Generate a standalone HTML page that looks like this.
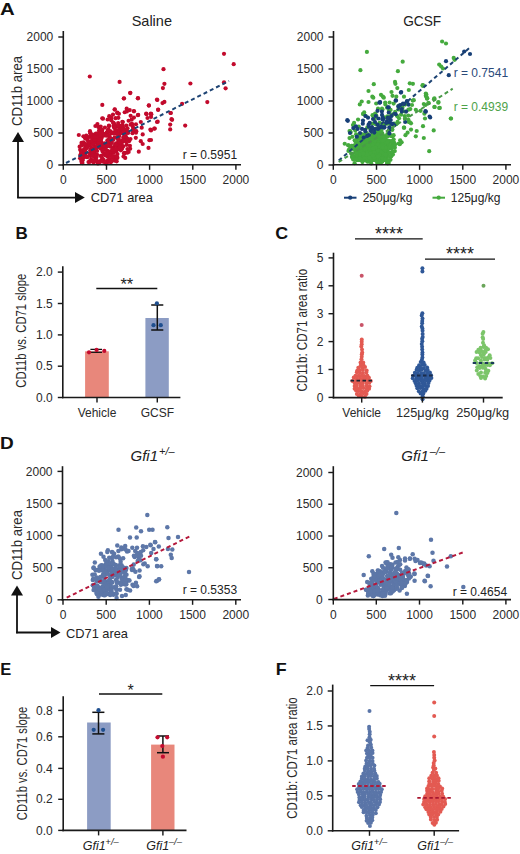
<!DOCTYPE html>
<html><head><meta charset="utf-8"><style>
html,body{margin:0;padding:0;background:#fff;width:520px;height:854px;overflow:hidden}
svg{display:block;font-family:"Liberation Sans", sans-serif}
</style></head><body>
<svg width="520" height="854" viewBox="0 0 520 854">
<rect width="520" height="854" fill="#fff"/>
<text x="0" y="0" font-size="17" font-weight="bold" fill="#111" transform="translate(0.00,14.70) scale(1.2,1)">A</text>
<text x="151.80" y="26.30" font-size="14.5" text-anchor="middle" font-weight="normal" font-style="normal" fill="#222" >Saline</text>
<circle cx="85.06" cy="154.61" r="2.1" fill="#c20a2c"/>
<circle cx="122.83" cy="122.03" r="2.1" fill="#c20a2c"/>
<circle cx="106.73" cy="132.72" r="2.1" fill="#c20a2c"/>
<circle cx="116.10" cy="151.38" r="2.1" fill="#c20a2c"/>
<circle cx="127.15" cy="131.80" r="2.1" fill="#c20a2c"/>
<circle cx="103.72" cy="147.68" r="2.1" fill="#c20a2c"/>
<circle cx="90.73" cy="159.99" r="2.1" fill="#c20a2c"/>
<circle cx="133.35" cy="128.97" r="2.1" fill="#c20a2c"/>
<circle cx="90.00" cy="131.22" r="2.1" fill="#c20a2c"/>
<circle cx="103.27" cy="135.27" r="2.1" fill="#c20a2c"/>
<circle cx="90.13" cy="133.28" r="2.1" fill="#c20a2c"/>
<circle cx="127.25" cy="138.60" r="2.1" fill="#c20a2c"/>
<circle cx="115.54" cy="118.22" r="2.1" fill="#c20a2c"/>
<circle cx="120.29" cy="147.12" r="2.1" fill="#c20a2c"/>
<circle cx="133.19" cy="131.22" r="2.1" fill="#c20a2c"/>
<circle cx="126.80" cy="144.87" r="2.1" fill="#c20a2c"/>
<circle cx="95.20" cy="140.32" r="2.1" fill="#c20a2c"/>
<circle cx="107.32" cy="140.40" r="2.1" fill="#c20a2c"/>
<circle cx="124.84" cy="130.79" r="2.1" fill="#c20a2c"/>
<circle cx="87.38" cy="138.18" r="2.1" fill="#c20a2c"/>
<circle cx="119.18" cy="145.10" r="2.1" fill="#c20a2c"/>
<circle cx="99.48" cy="132.14" r="2.1" fill="#c20a2c"/>
<circle cx="107.51" cy="150.81" r="2.1" fill="#c20a2c"/>
<circle cx="108.26" cy="129.63" r="2.1" fill="#c20a2c"/>
<circle cx="79.61" cy="146.69" r="2.1" fill="#c20a2c"/>
<circle cx="107.13" cy="162.01" r="2.1" fill="#c20a2c"/>
<circle cx="123.23" cy="137.68" r="2.1" fill="#c20a2c"/>
<circle cx="128.62" cy="120.77" r="2.1" fill="#c20a2c"/>
<circle cx="107.83" cy="160.39" r="2.1" fill="#c20a2c"/>
<circle cx="111.67" cy="133.25" r="2.1" fill="#c20a2c"/>
<circle cx="93.16" cy="138.14" r="2.1" fill="#c20a2c"/>
<circle cx="124.02" cy="153.13" r="2.1" fill="#c20a2c"/>
<circle cx="130.17" cy="148.73" r="2.1" fill="#c20a2c"/>
<circle cx="125.55" cy="136.53" r="2.1" fill="#c20a2c"/>
<circle cx="110.68" cy="131.43" r="2.1" fill="#c20a2c"/>
<circle cx="80.37" cy="155.85" r="2.1" fill="#c20a2c"/>
<circle cx="111.20" cy="118.99" r="2.1" fill="#c20a2c"/>
<circle cx="107.28" cy="134.67" r="2.1" fill="#c20a2c"/>
<circle cx="98.41" cy="127.03" r="2.1" fill="#c20a2c"/>
<circle cx="109.31" cy="142.29" r="2.1" fill="#c20a2c"/>
<circle cx="113.75" cy="133.20" r="2.1" fill="#c20a2c"/>
<circle cx="87.63" cy="140.15" r="2.1" fill="#c20a2c"/>
<circle cx="128.66" cy="151.91" r="2.1" fill="#c20a2c"/>
<circle cx="124.83" cy="152.90" r="2.1" fill="#c20a2c"/>
<circle cx="92.32" cy="154.30" r="2.1" fill="#c20a2c"/>
<circle cx="117.39" cy="112.58" r="2.1" fill="#c20a2c"/>
<circle cx="122.34" cy="121.73" r="2.1" fill="#c20a2c"/>
<circle cx="83.57" cy="142.36" r="2.1" fill="#c20a2c"/>
<circle cx="86.58" cy="137.01" r="2.1" fill="#c20a2c"/>
<circle cx="119.70" cy="133.01" r="2.1" fill="#c20a2c"/>
<circle cx="96.32" cy="134.06" r="2.1" fill="#c20a2c"/>
<circle cx="102.26" cy="118.34" r="2.1" fill="#c20a2c"/>
<circle cx="83.53" cy="157.49" r="2.1" fill="#c20a2c"/>
<circle cx="107.61" cy="119.50" r="2.1" fill="#c20a2c"/>
<circle cx="113.34" cy="152.94" r="2.1" fill="#c20a2c"/>
<circle cx="85.79" cy="147.54" r="2.1" fill="#c20a2c"/>
<circle cx="86.61" cy="146.75" r="2.1" fill="#c20a2c"/>
<circle cx="117.69" cy="137.96" r="2.1" fill="#c20a2c"/>
<circle cx="90.24" cy="161.66" r="2.1" fill="#c20a2c"/>
<circle cx="124.87" cy="136.41" r="2.1" fill="#c20a2c"/>
<circle cx="90.39" cy="143.67" r="2.1" fill="#c20a2c"/>
<circle cx="100.69" cy="139.67" r="2.1" fill="#c20a2c"/>
<circle cx="96.27" cy="142.70" r="2.1" fill="#c20a2c"/>
<circle cx="95.38" cy="155.22" r="2.1" fill="#c20a2c"/>
<circle cx="95.62" cy="159.66" r="2.1" fill="#c20a2c"/>
<circle cx="121.63" cy="130.89" r="2.1" fill="#c20a2c"/>
<circle cx="129.72" cy="110.09" r="2.1" fill="#c20a2c"/>
<circle cx="111.22" cy="117.43" r="2.1" fill="#c20a2c"/>
<circle cx="119.24" cy="135.99" r="2.1" fill="#c20a2c"/>
<circle cx="99.68" cy="127.08" r="2.1" fill="#c20a2c"/>
<circle cx="89.35" cy="145.08" r="2.1" fill="#c20a2c"/>
<circle cx="102.98" cy="118.68" r="2.1" fill="#c20a2c"/>
<circle cx="83.27" cy="144.63" r="2.1" fill="#c20a2c"/>
<circle cx="94.76" cy="135.49" r="2.1" fill="#c20a2c"/>
<circle cx="96.52" cy="155.94" r="2.1" fill="#c20a2c"/>
<circle cx="117.47" cy="154.07" r="2.1" fill="#c20a2c"/>
<circle cx="132.93" cy="126.91" r="2.1" fill="#c20a2c"/>
<circle cx="129.94" cy="145.79" r="2.1" fill="#c20a2c"/>
<circle cx="106.07" cy="162.20" r="2.1" fill="#c20a2c"/>
<circle cx="91.08" cy="147.90" r="2.1" fill="#c20a2c"/>
<circle cx="131.66" cy="119.71" r="2.1" fill="#c20a2c"/>
<circle cx="122.55" cy="141.01" r="2.1" fill="#c20a2c"/>
<circle cx="127.47" cy="128.25" r="2.1" fill="#c20a2c"/>
<circle cx="97.42" cy="124.02" r="2.1" fill="#c20a2c"/>
<circle cx="129.05" cy="141.22" r="2.1" fill="#c20a2c"/>
<circle cx="85.12" cy="138.31" r="2.1" fill="#c20a2c"/>
<circle cx="81.39" cy="155.64" r="2.1" fill="#c20a2c"/>
<circle cx="124.29" cy="153.57" r="2.1" fill="#c20a2c"/>
<circle cx="97.45" cy="141.84" r="2.1" fill="#c20a2c"/>
<circle cx="123.91" cy="128.79" r="2.1" fill="#c20a2c"/>
<circle cx="111.25" cy="120.30" r="2.1" fill="#c20a2c"/>
<circle cx="130.45" cy="139.04" r="2.1" fill="#c20a2c"/>
<circle cx="132.50" cy="133.18" r="2.1" fill="#c20a2c"/>
<circle cx="93.63" cy="151.29" r="2.1" fill="#c20a2c"/>
<circle cx="126.67" cy="108.68" r="2.1" fill="#c20a2c"/>
<circle cx="117.22" cy="113.04" r="2.1" fill="#c20a2c"/>
<circle cx="83.91" cy="156.68" r="2.1" fill="#c20a2c"/>
<circle cx="136.29" cy="131.16" r="2.1" fill="#c20a2c"/>
<circle cx="91.49" cy="148.92" r="2.1" fill="#c20a2c"/>
<circle cx="83.17" cy="158.09" r="2.1" fill="#c20a2c"/>
<circle cx="99.70" cy="161.36" r="2.1" fill="#c20a2c"/>
<circle cx="131.55" cy="124.17" r="2.1" fill="#c20a2c"/>
<circle cx="92.20" cy="134.24" r="2.1" fill="#c20a2c"/>
<circle cx="83.01" cy="143.86" r="2.1" fill="#c20a2c"/>
<circle cx="135.96" cy="124.26" r="2.1" fill="#c20a2c"/>
<circle cx="112.79" cy="132.74" r="2.1" fill="#c20a2c"/>
<circle cx="89.91" cy="141.98" r="2.1" fill="#c20a2c"/>
<circle cx="135.80" cy="137.86" r="2.1" fill="#c20a2c"/>
<circle cx="118.29" cy="144.40" r="2.1" fill="#c20a2c"/>
<circle cx="92.55" cy="137.79" r="2.1" fill="#c20a2c"/>
<circle cx="136.00" cy="132.63" r="2.1" fill="#c20a2c"/>
<circle cx="116.12" cy="143.39" r="2.1" fill="#c20a2c"/>
<circle cx="133.44" cy="129.48" r="2.1" fill="#c20a2c"/>
<circle cx="95.41" cy="126.00" r="2.1" fill="#c20a2c"/>
<circle cx="96.00" cy="154.59" r="2.1" fill="#c20a2c"/>
<circle cx="130.61" cy="124.65" r="2.1" fill="#c20a2c"/>
<circle cx="97.06" cy="137.93" r="2.1" fill="#c20a2c"/>
<circle cx="111.74" cy="140.78" r="2.1" fill="#c20a2c"/>
<circle cx="81.51" cy="142.95" r="2.1" fill="#c20a2c"/>
<circle cx="94.45" cy="151.57" r="2.1" fill="#c20a2c"/>
<circle cx="106.60" cy="155.45" r="2.1" fill="#c20a2c"/>
<circle cx="86.25" cy="135.58" r="2.1" fill="#c20a2c"/>
<circle cx="124.70" cy="112.24" r="2.1" fill="#c20a2c"/>
<circle cx="133.95" cy="117.53" r="2.1" fill="#c20a2c"/>
<circle cx="126.29" cy="125.59" r="2.1" fill="#c20a2c"/>
<circle cx="83.41" cy="136.29" r="2.1" fill="#c20a2c"/>
<circle cx="132.16" cy="124.14" r="2.1" fill="#c20a2c"/>
<circle cx="130.63" cy="115.79" r="2.1" fill="#c20a2c"/>
<circle cx="95.96" cy="157.67" r="2.1" fill="#c20a2c"/>
<circle cx="125.23" cy="157.89" r="2.1" fill="#c20a2c"/>
<circle cx="127.44" cy="149.04" r="2.1" fill="#c20a2c"/>
<circle cx="118.38" cy="117.80" r="2.1" fill="#c20a2c"/>
<circle cx="119.89" cy="144.73" r="2.1" fill="#c20a2c"/>
<circle cx="109.96" cy="137.78" r="2.1" fill="#c20a2c"/>
<circle cx="128.08" cy="132.93" r="2.1" fill="#c20a2c"/>
<circle cx="100.74" cy="126.63" r="2.1" fill="#c20a2c"/>
<circle cx="115.79" cy="130.92" r="2.1" fill="#c20a2c"/>
<circle cx="126.74" cy="129.88" r="2.1" fill="#c20a2c"/>
<circle cx="101.06" cy="141.68" r="2.1" fill="#c20a2c"/>
<circle cx="108.72" cy="135.55" r="2.1" fill="#c20a2c"/>
<circle cx="115.93" cy="132.11" r="2.1" fill="#c20a2c"/>
<circle cx="118.19" cy="148.23" r="2.1" fill="#c20a2c"/>
<circle cx="109.28" cy="152.64" r="2.1" fill="#c20a2c"/>
<circle cx="114.78" cy="160.58" r="2.1" fill="#c20a2c"/>
<circle cx="122.34" cy="124.98" r="2.1" fill="#c20a2c"/>
<circle cx="102.05" cy="130.85" r="2.1" fill="#c20a2c"/>
<circle cx="105.56" cy="145.25" r="2.1" fill="#c20a2c"/>
<circle cx="93.14" cy="160.32" r="2.1" fill="#c20a2c"/>
<circle cx="115.99" cy="127.02" r="2.1" fill="#c20a2c"/>
<circle cx="117.47" cy="126.11" r="2.1" fill="#c20a2c"/>
<circle cx="109.02" cy="125.57" r="2.1" fill="#c20a2c"/>
<circle cx="80.08" cy="158.34" r="2.1" fill="#c20a2c"/>
<circle cx="93.60" cy="162.31" r="2.1" fill="#c20a2c"/>
<circle cx="105.34" cy="149.82" r="2.1" fill="#c20a2c"/>
<circle cx="89.62" cy="161.40" r="2.1" fill="#c20a2c"/>
<circle cx="122.01" cy="133.15" r="2.1" fill="#c20a2c"/>
<circle cx="94.16" cy="146.54" r="2.1" fill="#c20a2c"/>
<circle cx="80.16" cy="149.83" r="2.1" fill="#c20a2c"/>
<circle cx="95.88" cy="133.64" r="2.1" fill="#c20a2c"/>
<circle cx="118.47" cy="141.15" r="2.1" fill="#c20a2c"/>
<circle cx="94.84" cy="141.17" r="2.1" fill="#c20a2c"/>
<circle cx="113.12" cy="122.51" r="2.1" fill="#c20a2c"/>
<circle cx="115.24" cy="157.17" r="2.1" fill="#c20a2c"/>
<circle cx="80.85" cy="154.66" r="2.1" fill="#c20a2c"/>
<circle cx="97.21" cy="145.45" r="2.1" fill="#c20a2c"/>
<circle cx="88.50" cy="162.03" r="2.1" fill="#c20a2c"/>
<circle cx="89.24" cy="153.25" r="2.1" fill="#c20a2c"/>
<circle cx="96.19" cy="135.61" r="2.1" fill="#c20a2c"/>
<circle cx="104.66" cy="154.13" r="2.1" fill="#c20a2c"/>
<circle cx="85.08" cy="152.93" r="2.1" fill="#c20a2c"/>
<circle cx="117.47" cy="157.83" r="2.1" fill="#c20a2c"/>
<circle cx="81.72" cy="161.62" r="2.1" fill="#c20a2c"/>
<circle cx="108.71" cy="160.40" r="2.1" fill="#c20a2c"/>
<circle cx="95.98" cy="160.66" r="2.1" fill="#c20a2c"/>
<circle cx="105.62" cy="133.75" r="2.1" fill="#c20a2c"/>
<circle cx="99.08" cy="130.44" r="2.1" fill="#c20a2c"/>
<circle cx="107.92" cy="156.36" r="2.1" fill="#c20a2c"/>
<circle cx="101.42" cy="138.56" r="2.1" fill="#c20a2c"/>
<circle cx="82.62" cy="160.31" r="2.1" fill="#c20a2c"/>
<circle cx="119.41" cy="125.75" r="2.1" fill="#c20a2c"/>
<circle cx="109.63" cy="154.67" r="2.1" fill="#c20a2c"/>
<circle cx="87.01" cy="157.17" r="2.1" fill="#c20a2c"/>
<circle cx="93.86" cy="139.94" r="2.1" fill="#c20a2c"/>
<circle cx="125.87" cy="139.96" r="2.1" fill="#c20a2c"/>
<circle cx="102.94" cy="152.10" r="2.1" fill="#c20a2c"/>
<circle cx="102.51" cy="132.80" r="2.1" fill="#c20a2c"/>
<circle cx="97.72" cy="163.49" r="2.1" fill="#c20a2c"/>
<circle cx="103.47" cy="134.89" r="2.1" fill="#c20a2c"/>
<circle cx="116.75" cy="158.17" r="2.1" fill="#c20a2c"/>
<circle cx="96.98" cy="154.58" r="2.1" fill="#c20a2c"/>
<circle cx="116.42" cy="150.56" r="2.1" fill="#c20a2c"/>
<circle cx="111.21" cy="153.42" r="2.1" fill="#c20a2c"/>
<circle cx="97.08" cy="151.00" r="2.1" fill="#c20a2c"/>
<circle cx="93.20" cy="141.37" r="2.1" fill="#c20a2c"/>
<circle cx="116.18" cy="150.40" r="2.1" fill="#c20a2c"/>
<circle cx="93.81" cy="161.60" r="2.1" fill="#c20a2c"/>
<circle cx="110.54" cy="145.55" r="2.1" fill="#c20a2c"/>
<circle cx="91.78" cy="149.55" r="2.1" fill="#c20a2c"/>
<circle cx="101.76" cy="155.93" r="2.1" fill="#c20a2c"/>
<circle cx="110.43" cy="155.10" r="2.1" fill="#c20a2c"/>
<circle cx="96.35" cy="148.34" r="2.1" fill="#c20a2c"/>
<circle cx="114.68" cy="156.44" r="2.1" fill="#c20a2c"/>
<circle cx="96.45" cy="157.09" r="2.1" fill="#c20a2c"/>
<circle cx="120.89" cy="150.29" r="2.1" fill="#c20a2c"/>
<circle cx="104.35" cy="143.29" r="2.1" fill="#c20a2c"/>
<circle cx="87.81" cy="156.81" r="2.1" fill="#c20a2c"/>
<circle cx="124.06" cy="141.00" r="2.1" fill="#c20a2c"/>
<circle cx="112.50" cy="151.67" r="2.1" fill="#c20a2c"/>
<circle cx="114.33" cy="127.56" r="2.1" fill="#c20a2c"/>
<circle cx="116.68" cy="145.56" r="2.1" fill="#c20a2c"/>
<circle cx="111.28" cy="138.51" r="2.1" fill="#c20a2c"/>
<circle cx="109.32" cy="154.09" r="2.1" fill="#c20a2c"/>
<circle cx="109.93" cy="151.70" r="2.1" fill="#c20a2c"/>
<circle cx="100.73" cy="148.61" r="2.1" fill="#c20a2c"/>
<circle cx="90.29" cy="150.18" r="2.1" fill="#c20a2c"/>
<circle cx="102.16" cy="129.95" r="2.1" fill="#c20a2c"/>
<circle cx="101.87" cy="136.73" r="2.1" fill="#c20a2c"/>
<circle cx="108.75" cy="145.97" r="2.1" fill="#c20a2c"/>
<circle cx="91.18" cy="159.74" r="2.1" fill="#c20a2c"/>
<circle cx="93.09" cy="138.04" r="2.1" fill="#c20a2c"/>
<circle cx="85.41" cy="156.58" r="2.1" fill="#c20a2c"/>
<circle cx="105.63" cy="134.93" r="2.1" fill="#c20a2c"/>
<circle cx="107.30" cy="162.17" r="2.1" fill="#c20a2c"/>
<circle cx="118.47" cy="138.44" r="2.1" fill="#c20a2c"/>
<circle cx="118.21" cy="148.26" r="2.1" fill="#c20a2c"/>
<circle cx="108.01" cy="144.81" r="2.1" fill="#c20a2c"/>
<circle cx="108.60" cy="135.45" r="2.1" fill="#c20a2c"/>
<circle cx="85.07" cy="144.90" r="2.1" fill="#c20a2c"/>
<circle cx="108.91" cy="126.19" r="2.1" fill="#c20a2c"/>
<circle cx="109.58" cy="159.22" r="2.1" fill="#c20a2c"/>
<circle cx="97.66" cy="138.99" r="2.1" fill="#c20a2c"/>
<circle cx="125.71" cy="136.71" r="2.1" fill="#c20a2c"/>
<circle cx="108.00" cy="131.43" r="2.1" fill="#c20a2c"/>
<circle cx="126.11" cy="141.84" r="2.1" fill="#c20a2c"/>
<circle cx="99.53" cy="134.04" r="2.1" fill="#c20a2c"/>
<circle cx="93.46" cy="140.99" r="2.1" fill="#c20a2c"/>
<circle cx="85.73" cy="147.35" r="2.1" fill="#c20a2c"/>
<circle cx="100.84" cy="132.90" r="2.1" fill="#c20a2c"/>
<circle cx="116.74" cy="156.38" r="2.1" fill="#c20a2c"/>
<circle cx="92.87" cy="161.15" r="2.1" fill="#c20a2c"/>
<circle cx="116.75" cy="130.81" r="2.1" fill="#c20a2c"/>
<circle cx="126.47" cy="132.90" r="2.1" fill="#c20a2c"/>
<circle cx="108.58" cy="140.88" r="2.1" fill="#c20a2c"/>
<circle cx="110.31" cy="146.57" r="2.1" fill="#c20a2c"/>
<circle cx="114.94" cy="125.20" r="2.1" fill="#c20a2c"/>
<circle cx="115.74" cy="133.23" r="2.1" fill="#c20a2c"/>
<circle cx="105.07" cy="134.79" r="2.1" fill="#c20a2c"/>
<circle cx="93.95" cy="143.31" r="2.1" fill="#c20a2c"/>
<circle cx="101.82" cy="135.89" r="2.1" fill="#c20a2c"/>
<circle cx="115.02" cy="146.00" r="2.1" fill="#c20a2c"/>
<circle cx="101.41" cy="160.33" r="2.1" fill="#c20a2c"/>
<circle cx="121.73" cy="144.01" r="2.1" fill="#c20a2c"/>
<circle cx="80.68" cy="154.25" r="2.1" fill="#c20a2c"/>
<circle cx="100.10" cy="145.33" r="2.1" fill="#c20a2c"/>
<circle cx="113.28" cy="147.82" r="2.1" fill="#c20a2c"/>
<circle cx="102.65" cy="160.12" r="2.1" fill="#c20a2c"/>
<circle cx="98.12" cy="137.24" r="2.1" fill="#c20a2c"/>
<circle cx="120.04" cy="128.64" r="2.1" fill="#c20a2c"/>
<circle cx="93.93" cy="156.52" r="2.1" fill="#c20a2c"/>
<circle cx="83.10" cy="156.80" r="2.1" fill="#c20a2c"/>
<circle cx="112.65" cy="139.04" r="2.1" fill="#c20a2c"/>
<circle cx="93.46" cy="154.35" r="2.1" fill="#c20a2c"/>
<circle cx="122.80" cy="126.28" r="2.1" fill="#c20a2c"/>
<circle cx="102.49" cy="144.16" r="2.1" fill="#c20a2c"/>
<circle cx="103.39" cy="134.55" r="2.1" fill="#c20a2c"/>
<circle cx="87.22" cy="145.78" r="2.1" fill="#c20a2c"/>
<circle cx="118.16" cy="123.01" r="2.1" fill="#c20a2c"/>
<circle cx="90.81" cy="156.06" r="2.1" fill="#c20a2c"/>
<circle cx="117.21" cy="149.20" r="2.1" fill="#c20a2c"/>
<circle cx="81.20" cy="151.79" r="2.1" fill="#c20a2c"/>
<circle cx="119.58" cy="129.65" r="2.1" fill="#c20a2c"/>
<circle cx="110.35" cy="161.90" r="2.1" fill="#c20a2c"/>
<circle cx="113.48" cy="125.92" r="2.1" fill="#c20a2c"/>
<circle cx="93.75" cy="160.39" r="2.1" fill="#c20a2c"/>
<circle cx="87.04" cy="146.87" r="2.1" fill="#c20a2c"/>
<circle cx="107.04" cy="152.66" r="2.1" fill="#c20a2c"/>
<circle cx="121.29" cy="125.91" r="2.1" fill="#c20a2c"/>
<circle cx="100.29" cy="133.84" r="2.1" fill="#c20a2c"/>
<circle cx="108.21" cy="141.54" r="2.1" fill="#c20a2c"/>
<circle cx="124.11" cy="136.46" r="2.1" fill="#c20a2c"/>
<circle cx="82.62" cy="150.68" r="2.1" fill="#c20a2c"/>
<circle cx="87.10" cy="147.78" r="2.1" fill="#c20a2c"/>
<circle cx="103.77" cy="160.06" r="2.1" fill="#c20a2c"/>
<circle cx="106.08" cy="147.32" r="2.1" fill="#c20a2c"/>
<circle cx="92.37" cy="144.27" r="2.1" fill="#c20a2c"/>
<circle cx="91.95" cy="153.03" r="2.1" fill="#c20a2c"/>
<circle cx="91.02" cy="136.33" r="2.1" fill="#c20a2c"/>
<circle cx="114.63" cy="127.89" r="2.1" fill="#c20a2c"/>
<circle cx="113.52" cy="148.82" r="2.1" fill="#c20a2c"/>
<circle cx="84.01" cy="149.39" r="2.1" fill="#c20a2c"/>
<circle cx="107.92" cy="130.50" r="2.1" fill="#c20a2c"/>
<circle cx="121.22" cy="141.14" r="2.1" fill="#c20a2c"/>
<circle cx="95.19" cy="155.04" r="2.1" fill="#c20a2c"/>
<circle cx="81.38" cy="151.90" r="2.1" fill="#c20a2c"/>
<circle cx="118.57" cy="126.15" r="2.1" fill="#c20a2c"/>
<circle cx="109.37" cy="135.59" r="2.1" fill="#c20a2c"/>
<circle cx="91.05" cy="134.66" r="2.1" fill="#c20a2c"/>
<circle cx="108.85" cy="135.34" r="2.1" fill="#c20a2c"/>
<circle cx="119.06" cy="148.51" r="2.1" fill="#c20a2c"/>
<circle cx="117.81" cy="139.07" r="2.1" fill="#c20a2c"/>
<circle cx="120.02" cy="142.77" r="2.1" fill="#c20a2c"/>
<circle cx="107.85" cy="145.22" r="2.1" fill="#c20a2c"/>
<circle cx="114.79" cy="137.40" r="2.1" fill="#c20a2c"/>
<circle cx="121.80" cy="141.16" r="2.1" fill="#c20a2c"/>
<circle cx="102.10" cy="159.15" r="2.1" fill="#c20a2c"/>
<circle cx="109.11" cy="138.86" r="2.1" fill="#c20a2c"/>
<circle cx="97.61" cy="136.97" r="2.1" fill="#c20a2c"/>
<circle cx="121.38" cy="126.69" r="2.1" fill="#c20a2c"/>
<circle cx="91.05" cy="141.21" r="2.1" fill="#c20a2c"/>
<circle cx="81.51" cy="160.68" r="2.1" fill="#c20a2c"/>
<circle cx="97.34" cy="161.27" r="2.1" fill="#c20a2c"/>
<circle cx="112.32" cy="149.65" r="2.1" fill="#c20a2c"/>
<circle cx="102.17" cy="161.60" r="2.1" fill="#c20a2c"/>
<circle cx="85.54" cy="149.42" r="2.1" fill="#c20a2c"/>
<circle cx="93.68" cy="149.68" r="2.1" fill="#c20a2c"/>
<circle cx="114.28" cy="127.18" r="2.1" fill="#c20a2c"/>
<circle cx="98.85" cy="162.84" r="2.1" fill="#c20a2c"/>
<circle cx="97.12" cy="133.72" r="2.1" fill="#c20a2c"/>
<circle cx="102.00" cy="132.46" r="2.1" fill="#c20a2c"/>
<circle cx="114.42" cy="151.59" r="2.1" fill="#c20a2c"/>
<circle cx="111.59" cy="161.38" r="2.1" fill="#c20a2c"/>
<circle cx="110.36" cy="138.95" r="2.1" fill="#c20a2c"/>
<circle cx="82.86" cy="154.29" r="2.1" fill="#c20a2c"/>
<circle cx="105.78" cy="163.54" r="2.1" fill="#c20a2c"/>
<circle cx="104.39" cy="135.40" r="2.1" fill="#c20a2c"/>
<circle cx="122.24" cy="141.61" r="2.1" fill="#c20a2c"/>
<circle cx="92.01" cy="137.93" r="2.1" fill="#c20a2c"/>
<circle cx="81.77" cy="162.75" r="2.1" fill="#c20a2c"/>
<circle cx="88.43" cy="142.38" r="2.1" fill="#c20a2c"/>
<circle cx="98.91" cy="143.38" r="2.1" fill="#c20a2c"/>
<circle cx="85.08" cy="143.85" r="2.1" fill="#c20a2c"/>
<circle cx="123.30" cy="146.32" r="2.1" fill="#c20a2c"/>
<circle cx="120.27" cy="129.43" r="2.1" fill="#c20a2c"/>
<circle cx="102.87" cy="145.14" r="2.1" fill="#c20a2c"/>
<circle cx="97.70" cy="147.50" r="2.1" fill="#c20a2c"/>
<circle cx="114.11" cy="160.17" r="2.1" fill="#c20a2c"/>
<circle cx="94.46" cy="139.76" r="2.1" fill="#c20a2c"/>
<circle cx="118.84" cy="129.85" r="2.1" fill="#c20a2c"/>
<circle cx="84.12" cy="153.99" r="2.1" fill="#c20a2c"/>
<circle cx="118.51" cy="133.77" r="2.1" fill="#c20a2c"/>
<circle cx="100.15" cy="145.39" r="2.1" fill="#c20a2c"/>
<circle cx="99.77" cy="133.81" r="2.1" fill="#c20a2c"/>
<circle cx="115.36" cy="144.47" r="2.1" fill="#c20a2c"/>
<circle cx="122.12" cy="148.78" r="2.1" fill="#c20a2c"/>
<circle cx="115.71" cy="145.29" r="2.1" fill="#c20a2c"/>
<circle cx="100.78" cy="155.94" r="2.1" fill="#c20a2c"/>
<circle cx="110.81" cy="162.01" r="2.1" fill="#c20a2c"/>
<circle cx="114.22" cy="150.85" r="2.1" fill="#c20a2c"/>
<circle cx="92.58" cy="155.73" r="2.1" fill="#c20a2c"/>
<circle cx="92.34" cy="149.74" r="2.1" fill="#c20a2c"/>
<circle cx="115.90" cy="144.52" r="2.1" fill="#c20a2c"/>
<circle cx="108.76" cy="130.17" r="2.1" fill="#c20a2c"/>
<circle cx="100.16" cy="135.95" r="2.1" fill="#c20a2c"/>
<circle cx="107.47" cy="156.38" r="2.1" fill="#c20a2c"/>
<circle cx="114.16" cy="124.19" r="2.1" fill="#c20a2c"/>
<circle cx="104.92" cy="127.53" r="2.1" fill="#c20a2c"/>
<circle cx="113.34" cy="139.63" r="2.1" fill="#c20a2c"/>
<circle cx="123.00" cy="140.28" r="2.1" fill="#c20a2c"/>
<circle cx="100.41" cy="139.42" r="2.1" fill="#c20a2c"/>
<circle cx="105.03" cy="162.67" r="2.1" fill="#c20a2c"/>
<circle cx="118.27" cy="138.46" r="2.1" fill="#c20a2c"/>
<circle cx="82.46" cy="163.03" r="2.1" fill="#c20a2c"/>
<circle cx="81.54" cy="145.39" r="2.1" fill="#c20a2c"/>
<circle cx="102.65" cy="158.80" r="2.1" fill="#c20a2c"/>
<circle cx="106.43" cy="135.71" r="2.1" fill="#c20a2c"/>
<circle cx="115.30" cy="130.63" r="2.1" fill="#c20a2c"/>
<circle cx="119.94" cy="147.20" r="2.1" fill="#c20a2c"/>
<circle cx="119.09" cy="141.56" r="2.1" fill="#c20a2c"/>
<circle cx="84.64" cy="151.58" r="2.1" fill="#c20a2c"/>
<circle cx="122.31" cy="128.77" r="2.1" fill="#c20a2c"/>
<circle cx="117.46" cy="134.26" r="2.1" fill="#c20a2c"/>
<circle cx="112.10" cy="157.98" r="2.1" fill="#c20a2c"/>
<circle cx="109.29" cy="155.22" r="2.1" fill="#c20a2c"/>
<circle cx="104.05" cy="145.81" r="2.1" fill="#c20a2c"/>
<circle cx="88.68" cy="137.12" r="2.1" fill="#c20a2c"/>
<circle cx="94.67" cy="136.84" r="2.1" fill="#c20a2c"/>
<circle cx="102.38" cy="150.95" r="2.1" fill="#c20a2c"/>
<circle cx="98.76" cy="163.23" r="2.1" fill="#c20a2c"/>
<circle cx="112.56" cy="149.49" r="2.1" fill="#c20a2c"/>
<circle cx="105.23" cy="155.14" r="2.1" fill="#c20a2c"/>
<circle cx="97.05" cy="146.12" r="2.1" fill="#c20a2c"/>
<circle cx="111.93" cy="142.98" r="2.1" fill="#c20a2c"/>
<circle cx="107.28" cy="153.42" r="2.1" fill="#c20a2c"/>
<circle cx="113.58" cy="133.50" r="2.1" fill="#c20a2c"/>
<circle cx="123.67" cy="132.08" r="2.1" fill="#c20a2c"/>
<circle cx="113.66" cy="123.17" r="2.1" fill="#c20a2c"/>
<circle cx="115.41" cy="149.48" r="2.1" fill="#c20a2c"/>
<circle cx="112.32" cy="156.88" r="2.1" fill="#c20a2c"/>
<circle cx="89.80" cy="76.50" r="2.1" fill="#c20a2c"/>
<circle cx="119.60" cy="81.90" r="2.1" fill="#c20a2c"/>
<circle cx="130.20" cy="93.10" r="2.1" fill="#c20a2c"/>
<circle cx="124.00" cy="98.30" r="2.1" fill="#c20a2c"/>
<circle cx="137.90" cy="98.30" r="2.1" fill="#c20a2c"/>
<circle cx="157.00" cy="99.60" r="2.1" fill="#c20a2c"/>
<circle cx="224.00" cy="53.80" r="2.1" fill="#c20a2c"/>
<circle cx="233.70" cy="64.20" r="2.1" fill="#c20a2c"/>
<circle cx="163.50" cy="69.20" r="2.1" fill="#c20a2c"/>
<circle cx="164.40" cy="83.80" r="2.1" fill="#c20a2c"/>
<circle cx="162.90" cy="88.10" r="2.1" fill="#c20a2c"/>
<circle cx="190.40" cy="83.50" r="2.1" fill="#c20a2c"/>
<circle cx="224.00" cy="82.30" r="2.1" fill="#c20a2c"/>
<circle cx="225.60" cy="88.30" r="2.1" fill="#c20a2c"/>
<circle cx="157.30" cy="100.00" r="2.1" fill="#c20a2c"/>
<circle cx="162.50" cy="103.10" r="2.1" fill="#c20a2c"/>
<circle cx="164.40" cy="101.90" r="2.1" fill="#c20a2c"/>
<circle cx="158.10" cy="109.80" r="2.1" fill="#c20a2c"/>
<circle cx="151.00" cy="114.00" r="2.1" fill="#c20a2c"/>
<circle cx="151.00" cy="116.90" r="2.1" fill="#c20a2c"/>
<circle cx="157.70" cy="121.70" r="2.1" fill="#c20a2c"/>
<circle cx="154.80" cy="128.50" r="2.1" fill="#c20a2c"/>
<circle cx="151.00" cy="130.40" r="2.1" fill="#c20a2c"/>
<circle cx="151.00" cy="140.00" r="2.1" fill="#c20a2c"/>
<circle cx="170.80" cy="113.00" r="2.1" fill="#c20a2c"/>
<circle cx="172.10" cy="119.80" r="2.1" fill="#c20a2c"/>
<circle cx="170.20" cy="124.60" r="2.1" fill="#c20a2c"/>
<circle cx="170.20" cy="129.40" r="2.1" fill="#c20a2c"/>
<circle cx="182.10" cy="103.80" r="2.1" fill="#c20a2c"/>
<circle cx="185.20" cy="125.60" r="2.1" fill="#c20a2c"/>
<circle cx="207.30" cy="102.10" r="2.1" fill="#c20a2c"/>
<circle cx="102.30" cy="104.90" r="2.1" fill="#c20a2c"/>
<circle cx="148.90" cy="105.40" r="2.1" fill="#c20a2c"/>
<circle cx="114.60" cy="109.50" r="2.1" fill="#c20a2c"/>
<circle cx="158.20" cy="109.70" r="2.1" fill="#c20a2c"/>
<circle cx="126.90" cy="111.50" r="2.1" fill="#c20a2c"/>
<circle cx="133.80" cy="111.00" r="2.1" fill="#c20a2c"/>
<circle cx="118.90" cy="113.80" r="2.1" fill="#c20a2c"/>
<circle cx="138.20" cy="114.90" r="2.1" fill="#c20a2c"/>
<circle cx="146.20" cy="113.50" r="2.1" fill="#c20a2c"/>
<circle cx="150.80" cy="113.50" r="2.1" fill="#c20a2c"/>
<circle cx="170.50" cy="113.00" r="2.1" fill="#c20a2c"/>
<circle cx="109.20" cy="116.20" r="2.1" fill="#c20a2c"/>
<circle cx="113.00" cy="114.60" r="2.1" fill="#c20a2c"/>
<circle cx="171.50" cy="119.20" r="2.1" fill="#c20a2c"/>
<circle cx="130.30" cy="92.80" r="2.1" fill="#c20a2c"/>
<circle cx="123.80" cy="98.50" r="2.1" fill="#c20a2c"/>
<circle cx="138.00" cy="98.20" r="2.1" fill="#c20a2c"/>
<circle cx="78.80" cy="135.00" r="2.1" fill="#c20a2c"/>
<circle cx="148.80" cy="105.60" r="2.1" fill="#c20a2c"/>
<circle cx="114.80" cy="109.40" r="2.1" fill="#c20a2c"/>
<circle cx="134.00" cy="111.30" r="2.1" fill="#c20a2c"/>
<circle cx="137.90" cy="115.20" r="2.1" fill="#c20a2c"/>
<circle cx="146.50" cy="114.20" r="2.1" fill="#c20a2c"/>
<circle cx="151.30" cy="114.20" r="2.1" fill="#c20a2c"/>
<circle cx="157.00" cy="122.00" r="2.1" fill="#c20a2c"/>
<circle cx="147.50" cy="118.00" r="2.1" fill="#c20a2c"/>
<circle cx="150.40" cy="129.60" r="2.1" fill="#c20a2c"/>
<circle cx="154.20" cy="128.70" r="2.1" fill="#c20a2c"/>
<circle cx="140.80" cy="122.00" r="2.1" fill="#c20a2c"/>
<circle cx="141.70" cy="127.70" r="2.1" fill="#c20a2c"/>
<circle cx="142.70" cy="134.40" r="2.1" fill="#c20a2c"/>
<circle cx="149.40" cy="140.20" r="2.1" fill="#c20a2c"/>
<circle cx="140.80" cy="141.20" r="2.1" fill="#c20a2c"/>
<circle cx="142.70" cy="144.00" r="2.1" fill="#c20a2c"/>
<circle cx="148.50" cy="147.90" r="2.1" fill="#c20a2c"/>
<circle cx="138.80" cy="151.70" r="2.1" fill="#c20a2c"/>
<circle cx="127.30" cy="152.70" r="2.1" fill="#c20a2c"/>
<circle cx="123.50" cy="156.50" r="2.1" fill="#c20a2c"/>
<circle cx="116.70" cy="161.30" r="2.1" fill="#c20a2c"/>
<line x1="66.00" y1="163.00" x2="229.00" y2="81.00" stroke="#1d4373" stroke-width="2.0" stroke-dasharray="4 3"/>
<line x1="63.30" y1="31.00" x2="63.30" y2="165.80" stroke="#1a1a1a" stroke-width="1.6" />
<line x1="58.30" y1="165.00" x2="63.30" y2="165.00" stroke="#1a1a1a" stroke-width="1.4400000000000002" />
<text x="53.30" y="169.10" font-size="12" text-anchor="end" font-weight="normal" font-style="normal" fill="#2a2a2a" >0</text>
<line x1="58.30" y1="133.00" x2="63.30" y2="133.00" stroke="#1a1a1a" stroke-width="1.4400000000000002" />
<text x="53.30" y="137.10" font-size="12" text-anchor="end" font-weight="normal" font-style="normal" fill="#2a2a2a" >500</text>
<line x1="58.30" y1="101.00" x2="63.30" y2="101.00" stroke="#1a1a1a" stroke-width="1.4400000000000002" />
<text x="53.30" y="105.10" font-size="12" text-anchor="end" font-weight="normal" font-style="normal" fill="#2a2a2a" >1000</text>
<line x1="58.30" y1="69.00" x2="63.30" y2="69.00" stroke="#1a1a1a" stroke-width="1.4400000000000002" />
<text x="53.30" y="73.10" font-size="12" text-anchor="end" font-weight="normal" font-style="normal" fill="#2a2a2a" >1500</text>
<line x1="58.30" y1="37.00" x2="63.30" y2="37.00" stroke="#1a1a1a" stroke-width="1.4400000000000002" />
<text x="53.30" y="41.10" font-size="12" text-anchor="end" font-weight="normal" font-style="normal" fill="#2a2a2a" >2000</text>
<line x1="62.50" y1="164.80" x2="241.00" y2="164.80" stroke="#1a1a1a" stroke-width="1.6" />
<line x1="63.30" y1="164.80" x2="63.30" y2="169.80" stroke="#1a1a1a" stroke-width="1.4400000000000002" />
<text x="63.30" y="183.90" font-size="12" text-anchor="middle" font-weight="normal" font-style="normal" fill="#2a2a2a" >0</text>
<line x1="106.50" y1="164.80" x2="106.50" y2="169.80" stroke="#1a1a1a" stroke-width="1.4400000000000002" />
<text x="106.50" y="183.90" font-size="12" text-anchor="middle" font-weight="normal" font-style="normal" fill="#2a2a2a" >500</text>
<line x1="149.60" y1="164.80" x2="149.60" y2="169.80" stroke="#1a1a1a" stroke-width="1.4400000000000002" />
<text x="149.60" y="183.90" font-size="12" text-anchor="middle" font-weight="normal" font-style="normal" fill="#2a2a2a" >1000</text>
<line x1="192.80" y1="164.80" x2="192.80" y2="169.80" stroke="#1a1a1a" stroke-width="1.4400000000000002" />
<text x="192.80" y="183.90" font-size="12" text-anchor="middle" font-weight="normal" font-style="normal" fill="#2a2a2a" >1500</text>
<line x1="235.90" y1="164.80" x2="235.90" y2="169.80" stroke="#1a1a1a" stroke-width="1.4400000000000002" />
<text x="235.90" y="183.90" font-size="12" text-anchor="middle" font-weight="normal" font-style="normal" fill="#2a2a2a" >2000</text>
<text x="182.70" y="159.20" font-size="12" text-anchor="start" font-weight="normal" font-style="normal" fill="#222" >r = 0.5951</text>
<text x="0" y="0" font-size="14.5" text-anchor="middle" fill="#2a2a2a" transform="translate(22.40,90.90) rotate(-90)" textLength="70" lengthAdjust="spacingAndGlyphs">CD11b area</text>
<line x1="18.00" y1="140.00" x2="18.00" y2="197.80" stroke="#111" stroke-width="1.8" />
<polygon points="18.00,131.90 12.00,142.00 24.00,142.00" fill="#111"/>
<line x1="17.10" y1="197.60" x2="76.00" y2="197.60" stroke="#111" stroke-width="1.8" />
<polygon points="84.80,197.60 75.00,192.10 75.00,203.10" fill="#111"/>
<text x="90.80" y="202.00" font-size="13.5" text-anchor="start" font-weight="normal" font-style="normal" fill="#222" textLength="62" lengthAdjust="spacingAndGlyphs">CD71 area</text>
<text x="422.20" y="26.30" font-size="14.5" text-anchor="middle" font-weight="normal" font-style="normal" fill="#222" textLength="38" lengthAdjust="spacingAndGlyphs">GCSF</text>
<circle cx="399.81" cy="144.16" r="2.1" fill="#45aa3e"/>
<circle cx="388.54" cy="118.49" r="2.1" fill="#45aa3e"/>
<circle cx="384.20" cy="136.41" r="2.1" fill="#45aa3e"/>
<circle cx="382.52" cy="109.50" r="2.1" fill="#45aa3e"/>
<circle cx="372.29" cy="123.61" r="2.1" fill="#45aa3e"/>
<circle cx="407.56" cy="132.65" r="2.1" fill="#45aa3e"/>
<circle cx="373.25" cy="116.09" r="2.1" fill="#45aa3e"/>
<circle cx="374.61" cy="119.11" r="2.1" fill="#45aa3e"/>
<circle cx="368.84" cy="153.51" r="2.1" fill="#45aa3e"/>
<circle cx="378.75" cy="133.63" r="2.1" fill="#45aa3e"/>
<circle cx="377.70" cy="159.92" r="2.1" fill="#45aa3e"/>
<circle cx="388.86" cy="110.91" r="2.1" fill="#45aa3e"/>
<circle cx="392.94" cy="154.40" r="2.1" fill="#45aa3e"/>
<circle cx="394.88" cy="147.38" r="2.1" fill="#45aa3e"/>
<circle cx="367.06" cy="158.86" r="2.1" fill="#45aa3e"/>
<circle cx="408.41" cy="109.67" r="2.1" fill="#45aa3e"/>
<circle cx="394.27" cy="142.91" r="2.1" fill="#45aa3e"/>
<circle cx="374.38" cy="131.82" r="2.1" fill="#45aa3e"/>
<circle cx="376.32" cy="155.49" r="2.1" fill="#45aa3e"/>
<circle cx="377.06" cy="149.89" r="2.1" fill="#45aa3e"/>
<circle cx="367.07" cy="152.97" r="2.1" fill="#45aa3e"/>
<circle cx="404.18" cy="127.66" r="2.1" fill="#45aa3e"/>
<circle cx="381.60" cy="155.22" r="2.1" fill="#45aa3e"/>
<circle cx="392.22" cy="129.20" r="2.1" fill="#45aa3e"/>
<circle cx="358.08" cy="119.48" r="2.1" fill="#45aa3e"/>
<circle cx="390.57" cy="109.96" r="2.1" fill="#45aa3e"/>
<circle cx="404.74" cy="116.09" r="2.1" fill="#45aa3e"/>
<circle cx="404.97" cy="118.57" r="2.1" fill="#45aa3e"/>
<circle cx="377.29" cy="131.06" r="2.1" fill="#45aa3e"/>
<circle cx="387.30" cy="135.28" r="2.1" fill="#45aa3e"/>
<circle cx="364.21" cy="112.47" r="2.1" fill="#45aa3e"/>
<circle cx="377.81" cy="156.05" r="2.1" fill="#45aa3e"/>
<circle cx="385.38" cy="104.52" r="2.1" fill="#45aa3e"/>
<circle cx="398.79" cy="143.56" r="2.1" fill="#45aa3e"/>
<circle cx="404.72" cy="111.48" r="2.1" fill="#45aa3e"/>
<circle cx="393.65" cy="103.53" r="2.1" fill="#45aa3e"/>
<circle cx="387.40" cy="116.39" r="2.1" fill="#45aa3e"/>
<circle cx="358.41" cy="152.53" r="2.1" fill="#45aa3e"/>
<circle cx="350.23" cy="131.34" r="2.1" fill="#45aa3e"/>
<circle cx="401.07" cy="114.69" r="2.1" fill="#45aa3e"/>
<circle cx="357.31" cy="152.83" r="2.1" fill="#45aa3e"/>
<circle cx="371.76" cy="143.02" r="2.1" fill="#45aa3e"/>
<circle cx="354.69" cy="140.37" r="2.1" fill="#45aa3e"/>
<circle cx="344.72" cy="143.77" r="2.1" fill="#45aa3e"/>
<circle cx="398.31" cy="109.43" r="2.1" fill="#45aa3e"/>
<circle cx="355.49" cy="141.49" r="2.1" fill="#45aa3e"/>
<circle cx="410.32" cy="109.09" r="2.1" fill="#45aa3e"/>
<circle cx="384.84" cy="144.55" r="2.1" fill="#45aa3e"/>
<circle cx="395.09" cy="144.40" r="2.1" fill="#45aa3e"/>
<circle cx="401.65" cy="142.32" r="2.1" fill="#45aa3e"/>
<circle cx="375.15" cy="113.53" r="2.1" fill="#45aa3e"/>
<circle cx="387.94" cy="118.98" r="2.1" fill="#45aa3e"/>
<circle cx="402.48" cy="107.65" r="2.1" fill="#45aa3e"/>
<circle cx="382.78" cy="123.58" r="2.1" fill="#45aa3e"/>
<circle cx="378.01" cy="108.63" r="2.1" fill="#45aa3e"/>
<circle cx="408.26" cy="115.55" r="2.1" fill="#45aa3e"/>
<circle cx="384.21" cy="125.19" r="2.1" fill="#45aa3e"/>
<circle cx="349.52" cy="138.10" r="2.1" fill="#45aa3e"/>
<circle cx="377.56" cy="159.01" r="2.1" fill="#45aa3e"/>
<circle cx="358.81" cy="126.68" r="2.1" fill="#45aa3e"/>
<circle cx="360.05" cy="135.47" r="2.1" fill="#45aa3e"/>
<circle cx="385.44" cy="148.01" r="2.1" fill="#45aa3e"/>
<circle cx="391.25" cy="115.40" r="2.1" fill="#45aa3e"/>
<circle cx="371.77" cy="131.57" r="2.1" fill="#45aa3e"/>
<circle cx="392.22" cy="114.45" r="2.1" fill="#45aa3e"/>
<circle cx="378.41" cy="127.86" r="2.1" fill="#45aa3e"/>
<circle cx="364.06" cy="138.51" r="2.1" fill="#45aa3e"/>
<circle cx="357.45" cy="154.39" r="2.1" fill="#45aa3e"/>
<circle cx="372.49" cy="130.69" r="2.1" fill="#45aa3e"/>
<circle cx="371.43" cy="131.50" r="2.1" fill="#45aa3e"/>
<circle cx="397.58" cy="121.97" r="2.1" fill="#45aa3e"/>
<circle cx="378.31" cy="155.29" r="2.1" fill="#45aa3e"/>
<circle cx="384.51" cy="117.37" r="2.1" fill="#45aa3e"/>
<circle cx="409.88" cy="122.33" r="2.1" fill="#45aa3e"/>
<circle cx="400.16" cy="140.35" r="2.1" fill="#45aa3e"/>
<circle cx="370.93" cy="129.15" r="2.1" fill="#45aa3e"/>
<circle cx="357.16" cy="135.32" r="2.1" fill="#45aa3e"/>
<circle cx="368.36" cy="156.12" r="2.1" fill="#45aa3e"/>
<circle cx="348.21" cy="145.30" r="2.1" fill="#45aa3e"/>
<circle cx="356.08" cy="134.29" r="2.1" fill="#45aa3e"/>
<circle cx="369.64" cy="127.79" r="2.1" fill="#45aa3e"/>
<circle cx="394.24" cy="123.70" r="2.1" fill="#45aa3e"/>
<circle cx="348.47" cy="151.00" r="2.1" fill="#45aa3e"/>
<circle cx="386.59" cy="157.58" r="2.1" fill="#45aa3e"/>
<circle cx="387.82" cy="146.63" r="2.1" fill="#45aa3e"/>
<circle cx="392.20" cy="129.88" r="2.1" fill="#45aa3e"/>
<circle cx="367.32" cy="127.42" r="2.1" fill="#45aa3e"/>
<circle cx="397.31" cy="116.14" r="2.1" fill="#45aa3e"/>
<circle cx="378.79" cy="128.65" r="2.1" fill="#45aa3e"/>
<circle cx="363.18" cy="113.90" r="2.1" fill="#45aa3e"/>
<circle cx="376.24" cy="115.56" r="2.1" fill="#45aa3e"/>
<circle cx="372.08" cy="140.75" r="2.1" fill="#45aa3e"/>
<circle cx="405.46" cy="135.15" r="2.1" fill="#45aa3e"/>
<circle cx="398.61" cy="105.76" r="2.1" fill="#45aa3e"/>
<circle cx="367.21" cy="159.86" r="2.1" fill="#45aa3e"/>
<circle cx="352.96" cy="125.01" r="2.1" fill="#45aa3e"/>
<circle cx="387.07" cy="107.71" r="2.1" fill="#45aa3e"/>
<circle cx="363.15" cy="113.90" r="2.1" fill="#45aa3e"/>
<circle cx="388.61" cy="140.87" r="2.1" fill="#45aa3e"/>
<circle cx="372.84" cy="131.44" r="2.1" fill="#45aa3e"/>
<circle cx="350.62" cy="132.45" r="2.1" fill="#45aa3e"/>
<circle cx="349.54" cy="130.99" r="2.1" fill="#45aa3e"/>
<circle cx="391.64" cy="115.44" r="2.1" fill="#45aa3e"/>
<circle cx="403.85" cy="127.66" r="2.1" fill="#45aa3e"/>
<circle cx="390.82" cy="124.25" r="2.1" fill="#45aa3e"/>
<circle cx="381.99" cy="108.69" r="2.1" fill="#45aa3e"/>
<circle cx="383.47" cy="152.91" r="2.1" fill="#45aa3e"/>
<circle cx="355.27" cy="130.61" r="2.1" fill="#45aa3e"/>
<circle cx="375.81" cy="124.29" r="2.1" fill="#45aa3e"/>
<circle cx="391.31" cy="156.20" r="2.1" fill="#45aa3e"/>
<circle cx="390.97" cy="128.35" r="2.1" fill="#45aa3e"/>
<circle cx="408.41" cy="119.84" r="2.1" fill="#45aa3e"/>
<circle cx="393.70" cy="139.51" r="2.1" fill="#45aa3e"/>
<circle cx="394.79" cy="151.12" r="2.1" fill="#45aa3e"/>
<circle cx="358.30" cy="137.27" r="2.1" fill="#45aa3e"/>
<circle cx="370.39" cy="140.02" r="2.1" fill="#45aa3e"/>
<circle cx="391.39" cy="152.99" r="2.1" fill="#45aa3e"/>
<circle cx="387.21" cy="148.96" r="2.1" fill="#45aa3e"/>
<circle cx="392.60" cy="136.39" r="2.1" fill="#45aa3e"/>
<circle cx="349.83" cy="148.94" r="2.1" fill="#45aa3e"/>
<circle cx="395.16" cy="111.97" r="2.1" fill="#45aa3e"/>
<circle cx="393.61" cy="135.17" r="2.1" fill="#45aa3e"/>
<circle cx="356.02" cy="148.25" r="2.1" fill="#45aa3e"/>
<circle cx="352.38" cy="136.74" r="2.1" fill="#45aa3e"/>
<circle cx="372.54" cy="115.22" r="2.1" fill="#45aa3e"/>
<circle cx="381.49" cy="128.03" r="2.1" fill="#45aa3e"/>
<circle cx="356.94" cy="158.01" r="2.1" fill="#45aa3e"/>
<circle cx="376.01" cy="150.23" r="2.1" fill="#45aa3e"/>
<circle cx="387.77" cy="145.28" r="2.1" fill="#45aa3e"/>
<circle cx="375.98" cy="140.49" r="2.1" fill="#45aa3e"/>
<circle cx="365.77" cy="116.02" r="2.1" fill="#45aa3e"/>
<circle cx="348.43" cy="145.24" r="2.1" fill="#45aa3e"/>
<circle cx="354.81" cy="145.02" r="2.1" fill="#45aa3e"/>
<circle cx="396.34" cy="124.27" r="2.1" fill="#45aa3e"/>
<circle cx="388.90" cy="147.25" r="2.1" fill="#45aa3e"/>
<circle cx="401.75" cy="108.09" r="2.1" fill="#45aa3e"/>
<circle cx="354.05" cy="122.90" r="2.1" fill="#45aa3e"/>
<circle cx="374.60" cy="117.69" r="2.1" fill="#45aa3e"/>
<circle cx="408.75" cy="121.99" r="2.1" fill="#45aa3e"/>
<circle cx="379.58" cy="122.94" r="2.1" fill="#45aa3e"/>
<circle cx="373.11" cy="152.23" r="2.1" fill="#45aa3e"/>
<circle cx="363.97" cy="138.94" r="2.1" fill="#45aa3e"/>
<circle cx="375.90" cy="132.31" r="2.1" fill="#45aa3e"/>
<circle cx="405.20" cy="104.60" r="2.1" fill="#45aa3e"/>
<circle cx="399.06" cy="118.25" r="2.1" fill="#45aa3e"/>
<circle cx="386.95" cy="147.75" r="2.1" fill="#45aa3e"/>
<circle cx="387.43" cy="123.58" r="2.1" fill="#45aa3e"/>
<circle cx="400.17" cy="105.58" r="2.1" fill="#45aa3e"/>
<circle cx="386.07" cy="123.47" r="2.1" fill="#45aa3e"/>
<polygon points="356.00,162.00 353.00,150.00 358.00,142.00 367.00,136.00 376.00,132.00 385.00,135.00 390.00,142.00 389.00,155.00 386.00,162.00" fill="#45aa3e"/>
<circle cx="358.95" cy="147.32" r="2.1" fill="#45aa3e"/>
<circle cx="365.02" cy="149.44" r="2.1" fill="#45aa3e"/>
<circle cx="376.78" cy="130.33" r="2.1" fill="#45aa3e"/>
<circle cx="359.93" cy="136.32" r="2.1" fill="#45aa3e"/>
<circle cx="386.48" cy="144.91" r="2.1" fill="#45aa3e"/>
<circle cx="377.40" cy="133.35" r="2.1" fill="#45aa3e"/>
<circle cx="377.20" cy="158.82" r="2.1" fill="#45aa3e"/>
<circle cx="372.07" cy="154.31" r="2.1" fill="#45aa3e"/>
<circle cx="378.88" cy="130.27" r="2.1" fill="#45aa3e"/>
<circle cx="382.88" cy="148.98" r="2.1" fill="#45aa3e"/>
<circle cx="387.81" cy="144.78" r="2.1" fill="#45aa3e"/>
<circle cx="381.07" cy="159.20" r="2.1" fill="#45aa3e"/>
<circle cx="380.85" cy="160.70" r="2.1" fill="#45aa3e"/>
<circle cx="366.17" cy="156.43" r="2.1" fill="#45aa3e"/>
<circle cx="368.45" cy="161.21" r="2.1" fill="#45aa3e"/>
<circle cx="392.41" cy="143.48" r="2.1" fill="#45aa3e"/>
<circle cx="376.83" cy="138.69" r="2.1" fill="#45aa3e"/>
<circle cx="371.33" cy="141.70" r="2.1" fill="#45aa3e"/>
<circle cx="364.14" cy="148.77" r="2.1" fill="#45aa3e"/>
<circle cx="374.88" cy="160.10" r="2.1" fill="#45aa3e"/>
<circle cx="379.37" cy="160.98" r="2.1" fill="#45aa3e"/>
<circle cx="387.39" cy="163.18" r="2.1" fill="#45aa3e"/>
<circle cx="378.88" cy="133.79" r="2.1" fill="#45aa3e"/>
<circle cx="387.59" cy="162.24" r="2.1" fill="#45aa3e"/>
<circle cx="389.62" cy="148.20" r="2.1" fill="#45aa3e"/>
<circle cx="380.84" cy="135.49" r="2.1" fill="#45aa3e"/>
<circle cx="386.25" cy="148.36" r="2.1" fill="#45aa3e"/>
<circle cx="387.28" cy="163.14" r="2.1" fill="#45aa3e"/>
<circle cx="352.07" cy="156.42" r="2.1" fill="#45aa3e"/>
<circle cx="366.88" cy="133.35" r="2.1" fill="#45aa3e"/>
<circle cx="361.52" cy="155.29" r="2.1" fill="#45aa3e"/>
<circle cx="376.27" cy="129.60" r="2.1" fill="#45aa3e"/>
<circle cx="381.05" cy="139.75" r="2.1" fill="#45aa3e"/>
<circle cx="388.52" cy="162.81" r="2.1" fill="#45aa3e"/>
<circle cx="371.25" cy="163.45" r="2.1" fill="#45aa3e"/>
<circle cx="375.59" cy="129.11" r="2.1" fill="#45aa3e"/>
<circle cx="357.08" cy="142.48" r="2.1" fill="#45aa3e"/>
<circle cx="376.08" cy="133.55" r="2.1" fill="#45aa3e"/>
<circle cx="362.44" cy="162.03" r="2.1" fill="#45aa3e"/>
<circle cx="389.25" cy="141.41" r="2.1" fill="#45aa3e"/>
<circle cx="369.18" cy="146.46" r="2.1" fill="#45aa3e"/>
<circle cx="377.62" cy="149.15" r="2.1" fill="#45aa3e"/>
<circle cx="373.73" cy="150.01" r="2.1" fill="#45aa3e"/>
<circle cx="391.27" cy="146.00" r="2.1" fill="#45aa3e"/>
<circle cx="367.83" cy="153.57" r="2.1" fill="#45aa3e"/>
<circle cx="358.93" cy="138.69" r="2.1" fill="#45aa3e"/>
<circle cx="392.98" cy="146.50" r="2.1" fill="#45aa3e"/>
<circle cx="367.10" cy="148.59" r="2.1" fill="#45aa3e"/>
<circle cx="348.92" cy="149.86" r="2.1" fill="#45aa3e"/>
<circle cx="377.08" cy="130.13" r="2.1" fill="#45aa3e"/>
<circle cx="376.86" cy="144.55" r="2.1" fill="#45aa3e"/>
<circle cx="379.25" cy="140.52" r="2.1" fill="#45aa3e"/>
<circle cx="380.52" cy="154.20" r="2.1" fill="#45aa3e"/>
<circle cx="379.10" cy="162.20" r="2.1" fill="#45aa3e"/>
<circle cx="359.55" cy="144.20" r="2.1" fill="#45aa3e"/>
<circle cx="375.26" cy="139.36" r="2.1" fill="#45aa3e"/>
<circle cx="364.74" cy="139.10" r="2.1" fill="#45aa3e"/>
<circle cx="364.98" cy="149.14" r="2.1" fill="#45aa3e"/>
<circle cx="361.82" cy="141.39" r="2.1" fill="#45aa3e"/>
<circle cx="374.19" cy="154.10" r="2.1" fill="#45aa3e"/>
<circle cx="362.26" cy="135.90" r="2.1" fill="#45aa3e"/>
<circle cx="384.98" cy="136.47" r="2.1" fill="#45aa3e"/>
<circle cx="356.62" cy="143.45" r="2.1" fill="#45aa3e"/>
<circle cx="380.11" cy="131.62" r="2.1" fill="#45aa3e"/>
<circle cx="362.81" cy="139.85" r="2.1" fill="#45aa3e"/>
<circle cx="386.34" cy="143.56" r="2.1" fill="#45aa3e"/>
<circle cx="387.35" cy="134.01" r="2.1" fill="#45aa3e"/>
<circle cx="363.49" cy="151.08" r="2.1" fill="#45aa3e"/>
<circle cx="388.71" cy="144.01" r="2.1" fill="#45aa3e"/>
<circle cx="372.36" cy="134.77" r="2.1" fill="#45aa3e"/>
<circle cx="385.11" cy="157.77" r="2.1" fill="#45aa3e"/>
<circle cx="385.13" cy="150.79" r="2.1" fill="#45aa3e"/>
<circle cx="385.09" cy="140.26" r="2.1" fill="#45aa3e"/>
<circle cx="384.52" cy="137.63" r="2.1" fill="#45aa3e"/>
<circle cx="363.93" cy="142.80" r="2.1" fill="#45aa3e"/>
<circle cx="367.31" cy="142.54" r="2.1" fill="#45aa3e"/>
<circle cx="388.48" cy="163.04" r="2.1" fill="#45aa3e"/>
<circle cx="367.98" cy="161.73" r="2.1" fill="#45aa3e"/>
<circle cx="390.66" cy="135.88" r="2.1" fill="#45aa3e"/>
<circle cx="382.29" cy="157.70" r="2.1" fill="#45aa3e"/>
<circle cx="378.50" cy="146.43" r="2.1" fill="#45aa3e"/>
<circle cx="361.30" cy="140.11" r="2.1" fill="#45aa3e"/>
<circle cx="375.08" cy="138.19" r="2.1" fill="#45aa3e"/>
<circle cx="389.57" cy="152.63" r="2.1" fill="#45aa3e"/>
<circle cx="390.50" cy="159.83" r="2.1" fill="#45aa3e"/>
<circle cx="389.39" cy="148.48" r="2.1" fill="#45aa3e"/>
<circle cx="378.49" cy="146.64" r="2.1" fill="#45aa3e"/>
<circle cx="367.03" cy="161.34" r="2.1" fill="#45aa3e"/>
<circle cx="376.16" cy="140.12" r="2.1" fill="#45aa3e"/>
<circle cx="359.61" cy="158.59" r="2.1" fill="#45aa3e"/>
<circle cx="369.95" cy="155.77" r="2.1" fill="#45aa3e"/>
<circle cx="364.18" cy="135.01" r="2.1" fill="#45aa3e"/>
<circle cx="372.59" cy="157.00" r="2.1" fill="#45aa3e"/>
<circle cx="355.88" cy="156.10" r="2.1" fill="#45aa3e"/>
<circle cx="390.40" cy="156.61" r="2.1" fill="#45aa3e"/>
<circle cx="376.92" cy="158.62" r="2.1" fill="#45aa3e"/>
<circle cx="360.35" cy="146.72" r="2.1" fill="#45aa3e"/>
<circle cx="367.46" cy="144.79" r="2.1" fill="#45aa3e"/>
<circle cx="351.96" cy="145.83" r="2.1" fill="#45aa3e"/>
<circle cx="362.53" cy="139.17" r="2.1" fill="#45aa3e"/>
<circle cx="364.16" cy="150.97" r="2.1" fill="#45aa3e"/>
<circle cx="374.98" cy="140.81" r="2.1" fill="#45aa3e"/>
<circle cx="356.79" cy="139.67" r="2.1" fill="#45aa3e"/>
<circle cx="353.69" cy="147.72" r="2.1" fill="#45aa3e"/>
<circle cx="380.94" cy="141.50" r="2.1" fill="#45aa3e"/>
<circle cx="365.17" cy="149.46" r="2.1" fill="#45aa3e"/>
<circle cx="384.00" cy="141.50" r="2.1" fill="#45aa3e"/>
<circle cx="384.85" cy="150.11" r="2.1" fill="#45aa3e"/>
<circle cx="367.85" cy="141.22" r="2.1" fill="#45aa3e"/>
<circle cx="370.82" cy="152.95" r="2.1" fill="#45aa3e"/>
<circle cx="367.34" cy="152.64" r="2.1" fill="#45aa3e"/>
<circle cx="369.20" cy="136.70" r="2.1" fill="#45aa3e"/>
<circle cx="372.65" cy="152.68" r="2.1" fill="#45aa3e"/>
<circle cx="367.59" cy="159.23" r="2.1" fill="#45aa3e"/>
<circle cx="391.08" cy="141.29" r="2.1" fill="#45aa3e"/>
<circle cx="389.30" cy="156.08" r="2.1" fill="#45aa3e"/>
<circle cx="360.06" cy="144.48" r="2.1" fill="#45aa3e"/>
<circle cx="353.66" cy="156.87" r="2.1" fill="#45aa3e"/>
<circle cx="378.47" cy="159.50" r="2.1" fill="#45aa3e"/>
<circle cx="384.45" cy="151.70" r="2.1" fill="#45aa3e"/>
<circle cx="381.75" cy="148.02" r="2.1" fill="#45aa3e"/>
<circle cx="352.74" cy="148.87" r="2.1" fill="#45aa3e"/>
<circle cx="388.50" cy="134.36" r="2.1" fill="#45aa3e"/>
<circle cx="353.58" cy="157.96" r="2.1" fill="#45aa3e"/>
<circle cx="378.98" cy="157.68" r="2.1" fill="#45aa3e"/>
<circle cx="391.81" cy="148.56" r="2.1" fill="#45aa3e"/>
<circle cx="383.30" cy="146.15" r="2.1" fill="#45aa3e"/>
<circle cx="380.90" cy="131.79" r="2.1" fill="#45aa3e"/>
<circle cx="382.45" cy="161.18" r="2.1" fill="#45aa3e"/>
<circle cx="373.94" cy="157.40" r="2.1" fill="#45aa3e"/>
<circle cx="359.50" cy="149.87" r="2.1" fill="#45aa3e"/>
<circle cx="382.66" cy="141.98" r="2.1" fill="#45aa3e"/>
<circle cx="364.90" cy="142.08" r="2.1" fill="#45aa3e"/>
<circle cx="364.11" cy="142.85" r="2.1" fill="#45aa3e"/>
<circle cx="351.83" cy="145.76" r="2.1" fill="#45aa3e"/>
<circle cx="392.76" cy="142.66" r="2.1" fill="#45aa3e"/>
<circle cx="382.38" cy="133.70" r="2.1" fill="#45aa3e"/>
<circle cx="379.78" cy="154.84" r="2.1" fill="#45aa3e"/>
<circle cx="379.00" cy="146.36" r="2.1" fill="#45aa3e"/>
<circle cx="370.25" cy="150.82" r="2.1" fill="#45aa3e"/>
<circle cx="389.28" cy="133.30" r="2.1" fill="#45aa3e"/>
<circle cx="352.41" cy="154.56" r="2.1" fill="#45aa3e"/>
<circle cx="390.16" cy="146.36" r="2.1" fill="#45aa3e"/>
<circle cx="368.38" cy="153.52" r="2.1" fill="#45aa3e"/>
<circle cx="357.16" cy="148.79" r="2.1" fill="#45aa3e"/>
<circle cx="362.48" cy="136.25" r="2.1" fill="#45aa3e"/>
<circle cx="379.79" cy="161.85" r="2.1" fill="#45aa3e"/>
<circle cx="361.61" cy="153.04" r="2.1" fill="#45aa3e"/>
<circle cx="367.01" cy="158.30" r="2.1" fill="#45aa3e"/>
<circle cx="374.89" cy="137.48" r="2.1" fill="#45aa3e"/>
<circle cx="370.06" cy="141.59" r="2.1" fill="#45aa3e"/>
<circle cx="355.92" cy="140.80" r="2.1" fill="#45aa3e"/>
<circle cx="362.81" cy="155.48" r="2.1" fill="#45aa3e"/>
<circle cx="354.61" cy="163.19" r="2.1" fill="#45aa3e"/>
<circle cx="370.06" cy="149.26" r="2.1" fill="#45aa3e"/>
<circle cx="369.53" cy="157.63" r="2.1" fill="#45aa3e"/>
<circle cx="385.79" cy="147.78" r="2.1" fill="#45aa3e"/>
<circle cx="370.14" cy="153.59" r="2.1" fill="#45aa3e"/>
<circle cx="387.41" cy="142.21" r="2.1" fill="#45aa3e"/>
<circle cx="381.75" cy="162.09" r="2.1" fill="#45aa3e"/>
<circle cx="369.50" cy="136.15" r="2.1" fill="#45aa3e"/>
<circle cx="358.80" cy="153.48" r="2.1" fill="#45aa3e"/>
<circle cx="379.07" cy="162.03" r="2.1" fill="#45aa3e"/>
<circle cx="387.28" cy="136.59" r="2.1" fill="#45aa3e"/>
<circle cx="356.61" cy="153.02" r="2.1" fill="#45aa3e"/>
<circle cx="387.50" cy="159.94" r="2.1" fill="#45aa3e"/>
<circle cx="359.73" cy="158.71" r="2.1" fill="#45aa3e"/>
<circle cx="362.42" cy="143.03" r="2.1" fill="#45aa3e"/>
<circle cx="381.53" cy="131.05" r="2.1" fill="#45aa3e"/>
<circle cx="352.26" cy="157.60" r="2.1" fill="#45aa3e"/>
<circle cx="361.42" cy="140.66" r="2.1" fill="#45aa3e"/>
<circle cx="374.69" cy="151.98" r="2.1" fill="#45aa3e"/>
<circle cx="368.07" cy="145.25" r="2.1" fill="#45aa3e"/>
<circle cx="357.66" cy="148.77" r="2.1" fill="#45aa3e"/>
<circle cx="391.95" cy="141.88" r="2.1" fill="#45aa3e"/>
<circle cx="373.04" cy="132.23" r="2.1" fill="#45aa3e"/>
<circle cx="360.64" cy="151.62" r="2.1" fill="#45aa3e"/>
<circle cx="353.18" cy="159.50" r="2.1" fill="#45aa3e"/>
<circle cx="391.30" cy="141.28" r="2.1" fill="#45aa3e"/>
<circle cx="383.53" cy="154.88" r="2.1" fill="#45aa3e"/>
<circle cx="361.59" cy="151.99" r="2.1" fill="#45aa3e"/>
<circle cx="378.09" cy="156.61" r="2.1" fill="#45aa3e"/>
<circle cx="360.22" cy="154.77" r="2.1" fill="#45aa3e"/>
<circle cx="392.22" cy="151.89" r="2.1" fill="#45aa3e"/>
<circle cx="372.66" cy="132.02" r="2.1" fill="#45aa3e"/>
<circle cx="370.72" cy="140.50" r="2.1" fill="#45aa3e"/>
<circle cx="381.03" cy="152.09" r="2.1" fill="#45aa3e"/>
<circle cx="374.05" cy="134.46" r="2.1" fill="#45aa3e"/>
<circle cx="377.70" cy="150.40" r="2.1" fill="#45aa3e"/>
<circle cx="356.24" cy="159.59" r="2.1" fill="#45aa3e"/>
<circle cx="378.15" cy="132.37" r="2.1" fill="#45aa3e"/>
<circle cx="363.25" cy="153.58" r="2.1" fill="#45aa3e"/>
<circle cx="375.48" cy="147.70" r="2.1" fill="#45aa3e"/>
<circle cx="377.78" cy="144.25" r="2.1" fill="#45aa3e"/>
<circle cx="362.37" cy="134.26" r="2.1" fill="#45aa3e"/>
<circle cx="351.16" cy="153.41" r="2.1" fill="#45aa3e"/>
<circle cx="382.71" cy="147.28" r="2.1" fill="#45aa3e"/>
<circle cx="382.02" cy="140.75" r="2.1" fill="#45aa3e"/>
<circle cx="360.23" cy="141.61" r="2.1" fill="#45aa3e"/>
<circle cx="371.22" cy="136.78" r="2.1" fill="#45aa3e"/>
<circle cx="383.37" cy="140.57" r="2.1" fill="#45aa3e"/>
<circle cx="363.31" cy="142.32" r="2.1" fill="#45aa3e"/>
<circle cx="372.91" cy="155.40" r="2.1" fill="#45aa3e"/>
<circle cx="364.23" cy="158.06" r="2.1" fill="#45aa3e"/>
<circle cx="383.83" cy="153.82" r="2.1" fill="#45aa3e"/>
<circle cx="367.17" cy="154.39" r="2.1" fill="#45aa3e"/>
<circle cx="385.52" cy="154.58" r="2.1" fill="#45aa3e"/>
<circle cx="375.23" cy="133.20" r="2.1" fill="#45aa3e"/>
<circle cx="366.33" cy="134.87" r="2.1" fill="#45aa3e"/>
<circle cx="372.27" cy="148.18" r="2.1" fill="#45aa3e"/>
<circle cx="384.95" cy="159.64" r="2.1" fill="#45aa3e"/>
<circle cx="391.67" cy="141.60" r="2.1" fill="#45aa3e"/>
<circle cx="373.42" cy="148.70" r="2.1" fill="#45aa3e"/>
<circle cx="377.15" cy="162.68" r="2.1" fill="#45aa3e"/>
<circle cx="388.97" cy="130.26" r="2.1" fill="#173f77"/>
<circle cx="378.49" cy="118.49" r="2.1" fill="#173f77"/>
<circle cx="377.99" cy="128.95" r="2.1" fill="#173f77"/>
<circle cx="374.69" cy="129.17" r="2.1" fill="#173f77"/>
<circle cx="371.27" cy="129.84" r="2.1" fill="#173f77"/>
<circle cx="386.81" cy="121.69" r="2.1" fill="#173f77"/>
<circle cx="380.30" cy="127.32" r="2.1" fill="#173f77"/>
<circle cx="368.56" cy="124.63" r="2.1" fill="#173f77"/>
<circle cx="389.37" cy="118.58" r="2.1" fill="#173f77"/>
<circle cx="389.31" cy="127.40" r="2.1" fill="#173f77"/>
<circle cx="390.71" cy="120.05" r="2.1" fill="#173f77"/>
<circle cx="365.17" cy="129.81" r="2.1" fill="#173f77"/>
<circle cx="389.36" cy="122.35" r="2.1" fill="#173f77"/>
<circle cx="383.59" cy="119.11" r="2.1" fill="#173f77"/>
<circle cx="394.35" cy="125.36" r="2.1" fill="#173f77"/>
<circle cx="368.83" cy="126.76" r="2.1" fill="#173f77"/>
<circle cx="374.25" cy="132.59" r="2.1" fill="#173f77"/>
<circle cx="392.92" cy="123.81" r="2.1" fill="#173f77"/>
<circle cx="383.92" cy="127.66" r="2.1" fill="#173f77"/>
<circle cx="389.39" cy="133.50" r="2.1" fill="#173f77"/>
<circle cx="362.97" cy="120.59" r="2.1" fill="#173f77"/>
<circle cx="382.46" cy="119.39" r="2.1" fill="#173f77"/>
<circle cx="382.03" cy="114.88" r="2.1" fill="#173f77"/>
<circle cx="391.92" cy="124.03" r="2.1" fill="#173f77"/>
<circle cx="347.80" cy="120.80" r="2.1" fill="#173f77"/>
<circle cx="353.30" cy="128.10" r="2.1" fill="#173f77"/>
<circle cx="355.90" cy="126.30" r="2.1" fill="#173f77"/>
<circle cx="357.60" cy="128.90" r="2.1" fill="#173f77"/>
<circle cx="362.80" cy="123.70" r="2.1" fill="#173f77"/>
<circle cx="365.40" cy="116.00" r="2.1" fill="#173f77"/>
<circle cx="368.00" cy="117.70" r="2.1" fill="#173f77"/>
<circle cx="369.70" cy="122.90" r="2.1" fill="#173f77"/>
<circle cx="375.80" cy="116.00" r="2.1" fill="#173f77"/>
<circle cx="377.50" cy="110.80" r="2.1" fill="#173f77"/>
<circle cx="380.10" cy="102.10" r="2.1" fill="#173f77"/>
<circle cx="381.90" cy="111.60" r="2.1" fill="#173f77"/>
<circle cx="382.70" cy="117.70" r="2.1" fill="#173f77"/>
<circle cx="386.20" cy="122.90" r="2.1" fill="#173f77"/>
<circle cx="387.90" cy="107.30" r="2.1" fill="#173f77"/>
<circle cx="388.80" cy="112.50" r="2.1" fill="#173f77"/>
<circle cx="391.40" cy="116.00" r="2.1" fill="#173f77"/>
<circle cx="387.90" cy="117.70" r="2.1" fill="#173f77"/>
<circle cx="375.00" cy="122.00" r="2.1" fill="#173f77"/>
<circle cx="377.50" cy="124.60" r="2.1" fill="#173f77"/>
<circle cx="381.00" cy="126.30" r="2.1" fill="#173f77"/>
<circle cx="384.50" cy="127.20" r="2.1" fill="#173f77"/>
<circle cx="362.00" cy="128.90" r="2.1" fill="#173f77"/>
<circle cx="365.40" cy="131.50" r="2.1" fill="#173f77"/>
<circle cx="368.90" cy="135.00" r="2.1" fill="#173f77"/>
<circle cx="370.60" cy="130.70" r="2.1" fill="#173f77"/>
<circle cx="395.70" cy="100.40" r="2.1" fill="#173f77"/>
<circle cx="395.70" cy="114.20" r="2.1" fill="#173f77"/>
<circle cx="400.90" cy="92.60" r="2.1" fill="#173f77"/>
<circle cx="398.30" cy="106.40" r="2.1" fill="#173f77"/>
<circle cx="401.80" cy="109.00" r="2.1" fill="#173f77"/>
<circle cx="404.40" cy="103.80" r="2.1" fill="#173f77"/>
<circle cx="407.00" cy="101.20" r="2.1" fill="#173f77"/>
<circle cx="408.70" cy="104.70" r="2.1" fill="#173f77"/>
<circle cx="401.80" cy="111.60" r="2.1" fill="#173f77"/>
<circle cx="406.10" cy="111.60" r="2.1" fill="#173f77"/>
<circle cx="405.20" cy="122.00" r="2.1" fill="#173f77"/>
<circle cx="356.80" cy="136.70" r="2.1" fill="#173f77"/>
<circle cx="363.70" cy="137.60" r="2.1" fill="#173f77"/>
<circle cx="367.20" cy="135.90" r="2.1" fill="#173f77"/>
<circle cx="372.00" cy="127.00" r="2.1" fill="#173f77"/>
<circle cx="360.00" cy="133.00" r="2.1" fill="#173f77"/>
<circle cx="350.00" cy="133.00" r="2.1" fill="#173f77"/>
<circle cx="373.00" cy="119.00" r="2.1" fill="#173f77"/>
<circle cx="366.90" cy="51.90" r="2.1" fill="#45aa3e"/>
<circle cx="360.40" cy="70.20" r="2.1" fill="#45aa3e"/>
<circle cx="402.70" cy="61.70" r="2.1" fill="#45aa3e"/>
<circle cx="397.90" cy="71.20" r="2.1" fill="#45aa3e"/>
<circle cx="373.80" cy="84.20" r="2.1" fill="#45aa3e"/>
<circle cx="395.00" cy="81.90" r="2.1" fill="#45aa3e"/>
<circle cx="395.40" cy="83.80" r="2.1" fill="#45aa3e"/>
<circle cx="409.80" cy="83.30" r="2.1" fill="#45aa3e"/>
<circle cx="368.50" cy="91.00" r="2.1" fill="#45aa3e"/>
<circle cx="397.30" cy="88.10" r="2.1" fill="#45aa3e"/>
<circle cx="408.80" cy="90.00" r="2.1" fill="#45aa3e"/>
<circle cx="422.90" cy="85.20" r="2.1" fill="#45aa3e"/>
<circle cx="372.30" cy="96.70" r="2.1" fill="#45aa3e"/>
<circle cx="373.30" cy="97.70" r="2.1" fill="#45aa3e"/>
<circle cx="381.00" cy="94.80" r="2.1" fill="#45aa3e"/>
<circle cx="382.90" cy="96.70" r="2.1" fill="#45aa3e"/>
<circle cx="383.80" cy="97.70" r="2.1" fill="#45aa3e"/>
<circle cx="391.50" cy="92.00" r="2.1" fill="#45aa3e"/>
<circle cx="392.50" cy="95.80" r="2.1" fill="#45aa3e"/>
<circle cx="396.30" cy="96.70" r="2.1" fill="#45aa3e"/>
<circle cx="404.00" cy="96.70" r="2.1" fill="#45aa3e"/>
<circle cx="361.70" cy="101.50" r="2.1" fill="#45aa3e"/>
<circle cx="359.80" cy="104.40" r="2.1" fill="#45aa3e"/>
<circle cx="368.50" cy="102.00" r="2.1" fill="#45aa3e"/>
<circle cx="376.20" cy="103.50" r="2.1" fill="#45aa3e"/>
<circle cx="385.20" cy="102.50" r="2.1" fill="#45aa3e"/>
<circle cx="389.60" cy="102.50" r="2.1" fill="#45aa3e"/>
<circle cx="412.70" cy="100.60" r="2.1" fill="#45aa3e"/>
<circle cx="425.80" cy="95.80" r="2.1" fill="#45aa3e"/>
<circle cx="427.00" cy="98.70" r="2.1" fill="#45aa3e"/>
<circle cx="442.10" cy="41.50" r="2.1" fill="#45aa3e"/>
<circle cx="446.00" cy="43.50" r="2.1" fill="#45aa3e"/>
<circle cx="453.70" cy="57.90" r="2.1" fill="#45aa3e"/>
<circle cx="454.60" cy="59.80" r="2.1" fill="#45aa3e"/>
<circle cx="439.20" cy="64.60" r="2.1" fill="#45aa3e"/>
<circle cx="441.20" cy="66.50" r="2.1" fill="#45aa3e"/>
<circle cx="443.00" cy="68.50" r="2.1" fill="#45aa3e"/>
<circle cx="422.90" cy="85.80" r="2.1" fill="#45aa3e"/>
<circle cx="425.80" cy="93.50" r="2.1" fill="#45aa3e"/>
<circle cx="426.70" cy="97.30" r="2.1" fill="#45aa3e"/>
<circle cx="434.40" cy="98.30" r="2.1" fill="#45aa3e"/>
<circle cx="438.30" cy="102.70" r="2.1" fill="#45aa3e"/>
<circle cx="434.40" cy="107.00" r="2.1" fill="#45aa3e"/>
<circle cx="439.20" cy="108.00" r="2.1" fill="#45aa3e"/>
<circle cx="423.80" cy="104.00" r="2.1" fill="#45aa3e"/>
<circle cx="428.70" cy="103.00" r="2.1" fill="#45aa3e"/>
<circle cx="450.80" cy="118.50" r="2.1" fill="#45aa3e"/>
<circle cx="422.50" cy="85.40" r="2.1" fill="#45aa3e"/>
<circle cx="412.90" cy="83.80" r="2.1" fill="#45aa3e"/>
<circle cx="426.30" cy="94.40" r="2.1" fill="#45aa3e"/>
<circle cx="427.30" cy="98.30" r="2.1" fill="#45aa3e"/>
<circle cx="413.80" cy="100.20" r="2.1" fill="#45aa3e"/>
<circle cx="434.00" cy="99.20" r="2.1" fill="#45aa3e"/>
<circle cx="438.50" cy="102.10" r="2.1" fill="#45aa3e"/>
<circle cx="412.00" cy="105.00" r="2.1" fill="#45aa3e"/>
<circle cx="425.40" cy="105.00" r="2.1" fill="#45aa3e"/>
<circle cx="428.30" cy="103.00" r="2.1" fill="#45aa3e"/>
<circle cx="434.60" cy="106.90" r="2.1" fill="#45aa3e"/>
<circle cx="439.80" cy="107.90" r="2.1" fill="#45aa3e"/>
<circle cx="415.80" cy="109.80" r="2.1" fill="#45aa3e"/>
<circle cx="420.60" cy="110.80" r="2.1" fill="#45aa3e"/>
<circle cx="424.40" cy="113.70" r="2.1" fill="#45aa3e"/>
<circle cx="425.00" cy="118.50" r="2.1" fill="#45aa3e"/>
<circle cx="451.00" cy="118.50" r="2.1" fill="#45aa3e"/>
<circle cx="411.00" cy="123.30" r="2.1" fill="#45aa3e"/>
<circle cx="423.00" cy="126.20" r="2.1" fill="#45aa3e"/>
<circle cx="416.70" cy="131.00" r="2.1" fill="#45aa3e"/>
<circle cx="433.70" cy="130.40" r="2.1" fill="#45aa3e"/>
<circle cx="411.00" cy="129.60" r="2.1" fill="#45aa3e"/>
<circle cx="415.80" cy="136.30" r="2.1" fill="#45aa3e"/>
<circle cx="423.80" cy="138.00" r="2.1" fill="#45aa3e"/>
<circle cx="429.20" cy="151.20" r="2.1" fill="#45aa3e"/>
<circle cx="464.20" cy="51.50" r="2.1" fill="#173f77"/>
<circle cx="470.00" cy="54.00" r="2.1" fill="#173f77"/>
<circle cx="446.00" cy="61.20" r="2.1" fill="#173f77"/>
<circle cx="448.80" cy="75.20" r="2.1" fill="#173f77"/>
<circle cx="425.80" cy="111.70" r="2.1" fill="#173f77"/>
<circle cx="429.60" cy="116.50" r="2.1" fill="#173f77"/>
<circle cx="379.40" cy="102.70" r="2.1" fill="#173f77"/>
<circle cx="401.20" cy="92.00" r="2.1" fill="#173f77"/>
<circle cx="380.00" cy="102.50" r="2.1" fill="#173f77"/>
<circle cx="396.00" cy="100.60" r="2.1" fill="#173f77"/>
<circle cx="388.70" cy="107.30" r="2.1" fill="#173f77"/>
<circle cx="400.20" cy="105.00" r="2.1" fill="#173f77"/>
<circle cx="403.00" cy="103.50" r="2.1" fill="#173f77"/>
<circle cx="407.00" cy="101.50" r="2.1" fill="#173f77"/>
<circle cx="425.40" cy="111.20" r="2.1" fill="#173f77"/>
<circle cx="430.20" cy="117.50" r="2.1" fill="#173f77"/>
<circle cx="347.30" cy="120.20" r="2.1" fill="#173f77"/>
<line x1="338.70" y1="160.60" x2="469.00" y2="48.30" stroke="#1d4373" stroke-width="2.0" stroke-dasharray="4 3"/>
<line x1="338.70" y1="162.00" x2="452.70" y2="88.70" stroke="#4a9a48" stroke-width="2.0" stroke-dasharray="4 3"/>
<line x1="333.50" y1="31.00" x2="333.50" y2="165.80" stroke="#1a1a1a" stroke-width="1.6" />
<line x1="328.50" y1="165.00" x2="333.50" y2="165.00" stroke="#1a1a1a" stroke-width="1.4400000000000002" />
<text x="323.50" y="169.10" font-size="12" text-anchor="end" font-weight="normal" font-style="normal" fill="#2a2a2a" >0</text>
<line x1="328.50" y1="133.00" x2="333.50" y2="133.00" stroke="#1a1a1a" stroke-width="1.4400000000000002" />
<text x="323.50" y="137.10" font-size="12" text-anchor="end" font-weight="normal" font-style="normal" fill="#2a2a2a" >500</text>
<line x1="328.50" y1="101.00" x2="333.50" y2="101.00" stroke="#1a1a1a" stroke-width="1.4400000000000002" />
<text x="323.50" y="105.10" font-size="12" text-anchor="end" font-weight="normal" font-style="normal" fill="#2a2a2a" >1000</text>
<line x1="328.50" y1="69.00" x2="333.50" y2="69.00" stroke="#1a1a1a" stroke-width="1.4400000000000002" />
<text x="323.50" y="73.10" font-size="12" text-anchor="end" font-weight="normal" font-style="normal" fill="#2a2a2a" >1500</text>
<line x1="328.50" y1="37.00" x2="333.50" y2="37.00" stroke="#1a1a1a" stroke-width="1.4400000000000002" />
<text x="323.50" y="41.10" font-size="12" text-anchor="end" font-weight="normal" font-style="normal" fill="#2a2a2a" >2000</text>
<line x1="332.70" y1="164.80" x2="511.00" y2="164.80" stroke="#1a1a1a" stroke-width="1.6" />
<line x1="333.30" y1="164.80" x2="333.30" y2="169.80" stroke="#1a1a1a" stroke-width="1.4400000000000002" />
<text x="333.30" y="183.90" font-size="12" text-anchor="middle" font-weight="normal" font-style="normal" fill="#2a2a2a" >0</text>
<line x1="376.50" y1="164.80" x2="376.50" y2="169.80" stroke="#1a1a1a" stroke-width="1.4400000000000002" />
<text x="376.50" y="183.90" font-size="12" text-anchor="middle" font-weight="normal" font-style="normal" fill="#2a2a2a" >500</text>
<line x1="419.60" y1="164.80" x2="419.60" y2="169.80" stroke="#1a1a1a" stroke-width="1.4400000000000002" />
<text x="419.60" y="183.90" font-size="12" text-anchor="middle" font-weight="normal" font-style="normal" fill="#2a2a2a" >1000</text>
<line x1="462.80" y1="164.80" x2="462.80" y2="169.80" stroke="#1a1a1a" stroke-width="1.4400000000000002" />
<text x="462.80" y="183.90" font-size="12" text-anchor="middle" font-weight="normal" font-style="normal" fill="#2a2a2a" >1500</text>
<line x1="505.90" y1="164.80" x2="505.90" y2="169.80" stroke="#1a1a1a" stroke-width="1.4400000000000002" />
<text x="505.90" y="183.90" font-size="12" text-anchor="middle" font-weight="normal" font-style="normal" fill="#2a2a2a" >2000</text>
<text x="453.70" y="76.70" font-size="12" text-anchor="start" font-weight="normal" font-style="normal" fill="#2b4a7a" >r = 0.7541</text>
<text x="453.70" y="110.80" font-size="12" text-anchor="start" font-weight="normal" font-style="normal" fill="#4ea24a" >r = 0.4939</text>
<line x1="344.00" y1="197.70" x2="356.50" y2="197.70" stroke="#173f77" stroke-width="2" />
<circle cx="350.20" cy="197.70" r="2.1" fill="#173f77"/>
<text x="362.70" y="202.00" font-size="12" text-anchor="start" font-weight="normal" font-style="normal" fill="#222" >250μg/kg</text>
<line x1="432.50" y1="197.70" x2="445.00" y2="197.70" stroke="#45aa3e" stroke-width="2" />
<circle cx="438.70" cy="197.70" r="2.1" fill="#45aa3e"/>
<text x="450.80" y="202.00" font-size="12" text-anchor="start" font-weight="normal" font-style="normal" fill="#222" >125μg/kg</text>
<text x="0" y="0" font-size="17" font-weight="bold" fill="#111" transform="translate(15.50,238.60) scale(1.0,1)">B</text>
<line x1="62.80" y1="266.30" x2="62.80" y2="398.30" stroke="#1a1a1a" stroke-width="1.6" />
<line x1="57.80" y1="397.50" x2="62.80" y2="397.50" stroke="#1a1a1a" stroke-width="1.4400000000000002" />
<text x="52.80" y="401.60" font-size="12" text-anchor="end" font-weight="normal" font-style="normal" fill="#2a2a2a" >0.0</text>
<line x1="57.80" y1="366.20" x2="62.80" y2="366.20" stroke="#1a1a1a" stroke-width="1.4400000000000002" />
<text x="52.80" y="370.30" font-size="12" text-anchor="end" font-weight="normal" font-style="normal" fill="#2a2a2a" >0.5</text>
<line x1="57.80" y1="334.90" x2="62.80" y2="334.90" stroke="#1a1a1a" stroke-width="1.4400000000000002" />
<text x="52.80" y="339.00" font-size="12" text-anchor="end" font-weight="normal" font-style="normal" fill="#2a2a2a" >1.0</text>
<line x1="57.80" y1="303.50" x2="62.80" y2="303.50" stroke="#1a1a1a" stroke-width="1.4400000000000002" />
<text x="52.80" y="307.60" font-size="12" text-anchor="end" font-weight="normal" font-style="normal" fill="#2a2a2a" >1.5</text>
<line x1="57.80" y1="272.10" x2="62.80" y2="272.10" stroke="#1a1a1a" stroke-width="1.4400000000000002" />
<text x="52.80" y="276.20" font-size="12" text-anchor="end" font-weight="normal" font-style="normal" fill="#2a2a2a" >2.0</text>
<text x="0" y="0" font-size="13.8" text-anchor="middle" fill="#2a2a2a" transform="translate(26.00,330.75) rotate(-90)" textLength="114" lengthAdjust="spacingAndGlyphs">CD11b vs. CD71 slope</text>
<rect x="85.10" y="351.30" width="23.70" height="46.20" fill="#e8877b"/>
<rect x="145.40" y="318.00" width="23.40" height="79.50" fill="#8c9cc4"/>
<line x1="62.00" y1="397.50" x2="180.40" y2="397.50" stroke="#1a1a1a" stroke-width="1.6" />
<line x1="97.00" y1="397.50" x2="97.00" y2="402.50" stroke="#1a1a1a" stroke-width="1.4400000000000002" />
<line x1="157.30" y1="397.50" x2="157.30" y2="402.50" stroke="#1a1a1a" stroke-width="1.4400000000000002" />
<text x="97.00" y="417.40" font-size="12" text-anchor="middle" font-weight="normal" font-style="normal" fill="#2a2a2a" >Vehicle</text>
<text x="157.30" y="417.40" font-size="12" text-anchor="middle" font-weight="normal" font-style="normal" fill="#2a2a2a" >GCSF</text>
<line x1="157.30" y1="305.00" x2="157.30" y2="330.00" stroke="#111" stroke-width="1.5" />
<line x1="151.20" y1="305.00" x2="163.30" y2="305.00" stroke="#111" stroke-width="1.5" />
<line x1="151.20" y1="330.00" x2="163.30" y2="330.00" stroke="#111" stroke-width="1.5" />
<circle cx="156.90" cy="303.30" r="2.1" fill="#1f4f8f"/>
<circle cx="153.50" cy="325.20" r="2.1" fill="#1f4f8f"/>
<circle cx="160.80" cy="325.20" r="2.1" fill="#1f4f8f"/>
<line x1="96.60" y1="349.40" x2="96.60" y2="352.30" stroke="#111" stroke-width="1.3" />
<line x1="90.40" y1="349.40" x2="102.00" y2="349.40" stroke="#111" stroke-width="1.3" />
<line x1="90.40" y1="352.30" x2="102.00" y2="352.30" stroke="#111" stroke-width="1.3" />
<circle cx="89.00" cy="352.30" r="2.1" fill="#c50b2f"/>
<circle cx="96.60" cy="349.90" r="2.1" fill="#c50b2f"/>
<circle cx="104.30" cy="350.90" r="2.1" fill="#c50b2f"/>
<line x1="96.30" y1="288.50" x2="157.30" y2="288.50" stroke="#111" stroke-width="1.3" />
<text x="126.80" y="289.80" font-size="16.5" text-anchor="middle" font-weight="normal" font-style="normal" fill="#222" >**</text>
<text x="0" y="0" font-size="17" font-weight="bold" fill="#111" transform="translate(275.20,238.60) scale(1.05,1)">C</text>
<line x1="333.50" y1="252.70" x2="333.50" y2="398.40" stroke="#1a1a1a" stroke-width="1.6" />
<line x1="328.50" y1="397.40" x2="333.50" y2="397.40" stroke="#1a1a1a" stroke-width="1.4400000000000002" />
<text x="323.50" y="401.50" font-size="12" text-anchor="end" font-weight="normal" font-style="normal" fill="#2a2a2a" >0</text>
<line x1="328.50" y1="369.50" x2="333.50" y2="369.50" stroke="#1a1a1a" stroke-width="1.4400000000000002" />
<text x="323.50" y="373.60" font-size="12" text-anchor="end" font-weight="normal" font-style="normal" fill="#2a2a2a" >1</text>
<line x1="328.50" y1="341.60" x2="333.50" y2="341.60" stroke="#1a1a1a" stroke-width="1.4400000000000002" />
<text x="323.50" y="345.70" font-size="12" text-anchor="end" font-weight="normal" font-style="normal" fill="#2a2a2a" >2</text>
<line x1="328.50" y1="313.70" x2="333.50" y2="313.70" stroke="#1a1a1a" stroke-width="1.4400000000000002" />
<text x="323.50" y="317.80" font-size="12" text-anchor="end" font-weight="normal" font-style="normal" fill="#2a2a2a" >3</text>
<line x1="328.50" y1="285.80" x2="333.50" y2="285.80" stroke="#1a1a1a" stroke-width="1.4400000000000002" />
<text x="323.50" y="289.90" font-size="12" text-anchor="end" font-weight="normal" font-style="normal" fill="#2a2a2a" >4</text>
<line x1="328.50" y1="257.90" x2="333.50" y2="257.90" stroke="#1a1a1a" stroke-width="1.4400000000000002" />
<text x="323.50" y="262.00" font-size="12" text-anchor="end" font-weight="normal" font-style="normal" fill="#2a2a2a" >5</text>
<text x="0" y="0" font-size="13.8" text-anchor="middle" fill="#2a2a2a" transform="translate(306.70,330.20) rotate(-90)" textLength="122.8" lengthAdjust="spacingAndGlyphs">CD11b: CD71 area ratio</text>
<circle cx="361.76" cy="339.42" r="2.0" fill="#e35a52"/>
<circle cx="361.71" cy="341.69" r="2.0" fill="#e35a52"/>
<circle cx="361.71" cy="344.33" r="2.0" fill="#e35a52"/>
<circle cx="361.29" cy="346.60" r="2.0" fill="#e35a52"/>
<circle cx="362.01" cy="349.59" r="2.0" fill="#e35a52"/>
<circle cx="362.18" cy="352.46" r="2.0" fill="#e35a52"/>
<circle cx="361.82" cy="354.26" r="2.0" fill="#e35a52"/>
<circle cx="361.73" cy="356.76" r="2.0" fill="#e35a52"/>
<circle cx="361.44" cy="359.33" r="2.0" fill="#e35a52"/>
<circle cx="360.54" cy="362.42" r="2.0" fill="#e35a52"/>
<circle cx="363.20" cy="362.56" r="2.0" fill="#e35a52"/>
<circle cx="360.70" cy="365.50" r="2.0" fill="#e35a52"/>
<circle cx="363.41" cy="364.82" r="2.0" fill="#e35a52"/>
<circle cx="358.27" cy="367.87" r="2.0" fill="#e35a52"/>
<circle cx="362.05" cy="367.49" r="2.0" fill="#e35a52"/>
<circle cx="365.05" cy="367.10" r="2.0" fill="#e35a52"/>
<circle cx="357.17" cy="370.68" r="2.0" fill="#e35a52"/>
<circle cx="359.77" cy="370.33" r="2.0" fill="#e35a52"/>
<circle cx="362.97" cy="369.79" r="2.0" fill="#e35a52"/>
<circle cx="366.66" cy="370.46" r="2.0" fill="#e35a52"/>
<circle cx="356.80" cy="372.36" r="2.0" fill="#e35a52"/>
<circle cx="359.88" cy="372.86" r="2.0" fill="#e35a52"/>
<circle cx="362.89" cy="373.03" r="2.0" fill="#e35a52"/>
<circle cx="366.34" cy="372.42" r="2.0" fill="#e35a52"/>
<circle cx="355.47" cy="375.87" r="2.0" fill="#e35a52"/>
<circle cx="358.50" cy="375.78" r="2.0" fill="#e35a52"/>
<circle cx="361.59" cy="375.75" r="2.0" fill="#e35a52"/>
<circle cx="364.30" cy="375.89" r="2.0" fill="#e35a52"/>
<circle cx="367.46" cy="375.67" r="2.0" fill="#e35a52"/>
<circle cx="353.77" cy="377.59" r="2.0" fill="#e35a52"/>
<circle cx="356.94" cy="378.10" r="2.0" fill="#e35a52"/>
<circle cx="360.15" cy="378.46" r="2.0" fill="#e35a52"/>
<circle cx="363.27" cy="378.37" r="2.0" fill="#e35a52"/>
<circle cx="365.85" cy="378.41" r="2.0" fill="#e35a52"/>
<circle cx="368.95" cy="377.69" r="2.0" fill="#e35a52"/>
<circle cx="352.40" cy="381.05" r="2.0" fill="#e35a52"/>
<circle cx="355.80" cy="380.52" r="2.0" fill="#e35a52"/>
<circle cx="358.24" cy="381.06" r="2.0" fill="#e35a52"/>
<circle cx="361.90" cy="380.36" r="2.0" fill="#e35a52"/>
<circle cx="364.80" cy="380.39" r="2.0" fill="#e35a52"/>
<circle cx="367.92" cy="380.17" r="2.0" fill="#e35a52"/>
<circle cx="370.76" cy="380.95" r="2.0" fill="#e35a52"/>
<circle cx="354.62" cy="382.90" r="2.0" fill="#e35a52"/>
<circle cx="356.97" cy="383.15" r="2.0" fill="#e35a52"/>
<circle cx="359.88" cy="383.07" r="2.0" fill="#e35a52"/>
<circle cx="362.83" cy="383.06" r="2.0" fill="#e35a52"/>
<circle cx="366.68" cy="383.36" r="2.0" fill="#e35a52"/>
<circle cx="369.28" cy="382.84" r="2.0" fill="#e35a52"/>
<circle cx="354.61" cy="386.00" r="2.0" fill="#e35a52"/>
<circle cx="356.72" cy="385.94" r="2.0" fill="#e35a52"/>
<circle cx="360.43" cy="385.62" r="2.0" fill="#e35a52"/>
<circle cx="362.78" cy="385.85" r="2.0" fill="#e35a52"/>
<circle cx="366.60" cy="386.04" r="2.0" fill="#e35a52"/>
<circle cx="369.49" cy="386.22" r="2.0" fill="#e35a52"/>
<circle cx="354.60" cy="388.77" r="2.0" fill="#e35a52"/>
<circle cx="357.49" cy="388.76" r="2.0" fill="#e35a52"/>
<circle cx="360.32" cy="388.28" r="2.0" fill="#e35a52"/>
<circle cx="363.31" cy="387.98" r="2.0" fill="#e35a52"/>
<circle cx="366.69" cy="388.78" r="2.0" fill="#e35a52"/>
<circle cx="369.09" cy="388.64" r="2.0" fill="#e35a52"/>
<circle cx="356.04" cy="390.58" r="2.0" fill="#e35a52"/>
<circle cx="358.23" cy="391.10" r="2.0" fill="#e35a52"/>
<circle cx="361.43" cy="391.20" r="2.0" fill="#e35a52"/>
<circle cx="364.81" cy="391.42" r="2.0" fill="#e35a52"/>
<circle cx="367.21" cy="390.80" r="2.0" fill="#e35a52"/>
<circle cx="356.87" cy="394.01" r="2.0" fill="#e35a52"/>
<circle cx="360.14" cy="393.99" r="2.0" fill="#e35a52"/>
<circle cx="363.37" cy="393.30" r="2.0" fill="#e35a52"/>
<circle cx="366.51" cy="394.01" r="2.0" fill="#e35a52"/>
<circle cx="358.78" cy="396.02" r="2.0" fill="#e35a52"/>
<circle cx="361.70" cy="396.54" r="2.0" fill="#e35a52"/>
<circle cx="364.91" cy="396.65" r="2.0" fill="#e35a52"/>
<circle cx="361.70" cy="275.80" r="2.0" fill="#c95468"/>
<circle cx="361.70" cy="325.00" r="2.0" fill="#c95468"/>
<circle cx="422.36" cy="313.27" r="2.0" fill="#2f5898"/>
<circle cx="421.71" cy="315.57" r="2.0" fill="#2f5898"/>
<circle cx="422.51" cy="318.49" r="2.0" fill="#2f5898"/>
<circle cx="422.26" cy="321.06" r="2.0" fill="#2f5898"/>
<circle cx="422.14" cy="323.16" r="2.0" fill="#2f5898"/>
<circle cx="421.76" cy="326.42" r="2.0" fill="#2f5898"/>
<circle cx="422.39" cy="328.54" r="2.0" fill="#2f5898"/>
<circle cx="422.54" cy="330.82" r="2.0" fill="#2f5898"/>
<circle cx="422.62" cy="333.91" r="2.0" fill="#2f5898"/>
<circle cx="422.69" cy="336.95" r="2.0" fill="#2f5898"/>
<circle cx="422.12" cy="338.74" r="2.0" fill="#2f5898"/>
<circle cx="422.32" cy="341.36" r="2.0" fill="#2f5898"/>
<circle cx="421.75" cy="343.97" r="2.0" fill="#2f5898"/>
<circle cx="422.10" cy="346.82" r="2.0" fill="#2f5898"/>
<circle cx="422.18" cy="349.38" r="2.0" fill="#2f5898"/>
<circle cx="422.43" cy="352.57" r="2.0" fill="#2f5898"/>
<circle cx="422.36" cy="354.56" r="2.0" fill="#2f5898"/>
<circle cx="422.39" cy="357.47" r="2.0" fill="#2f5898"/>
<circle cx="421.93" cy="359.76" r="2.0" fill="#2f5898"/>
<circle cx="420.70" cy="362.03" r="2.0" fill="#2f5898"/>
<circle cx="423.63" cy="362.52" r="2.0" fill="#2f5898"/>
<circle cx="419.09" cy="365.37" r="2.0" fill="#2f5898"/>
<circle cx="422.25" cy="364.78" r="2.0" fill="#2f5898"/>
<circle cx="424.74" cy="364.88" r="2.0" fill="#2f5898"/>
<circle cx="417.25" cy="367.66" r="2.0" fill="#2f5898"/>
<circle cx="420.48" cy="367.68" r="2.0" fill="#2f5898"/>
<circle cx="423.68" cy="368.16" r="2.0" fill="#2f5898"/>
<circle cx="427.12" cy="367.56" r="2.0" fill="#2f5898"/>
<circle cx="416.61" cy="369.81" r="2.0" fill="#2f5898"/>
<circle cx="419.47" cy="370.14" r="2.0" fill="#2f5898"/>
<circle cx="421.71" cy="369.84" r="2.0" fill="#2f5898"/>
<circle cx="425.68" cy="370.80" r="2.0" fill="#2f5898"/>
<circle cx="427.72" cy="370.12" r="2.0" fill="#2f5898"/>
<circle cx="414.84" cy="372.63" r="2.0" fill="#2f5898"/>
<circle cx="417.68" cy="373.03" r="2.0" fill="#2f5898"/>
<circle cx="421.15" cy="373.29" r="2.0" fill="#2f5898"/>
<circle cx="423.49" cy="373.27" r="2.0" fill="#2f5898"/>
<circle cx="427.14" cy="372.92" r="2.0" fill="#2f5898"/>
<circle cx="429.90" cy="372.61" r="2.0" fill="#2f5898"/>
<circle cx="413.38" cy="375.69" r="2.0" fill="#2f5898"/>
<circle cx="416.59" cy="375.42" r="2.0" fill="#2f5898"/>
<circle cx="419.14" cy="375.98" r="2.0" fill="#2f5898"/>
<circle cx="422.32" cy="375.92" r="2.0" fill="#2f5898"/>
<circle cx="425.46" cy="375.42" r="2.0" fill="#2f5898"/>
<circle cx="428.60" cy="375.79" r="2.0" fill="#2f5898"/>
<circle cx="431.05" cy="375.37" r="2.0" fill="#2f5898"/>
<circle cx="412.72" cy="378.31" r="2.0" fill="#2f5898"/>
<circle cx="416.50" cy="378.50" r="2.0" fill="#2f5898"/>
<circle cx="419.23" cy="378.39" r="2.0" fill="#2f5898"/>
<circle cx="421.80" cy="377.95" r="2.0" fill="#2f5898"/>
<circle cx="425.63" cy="378.29" r="2.0" fill="#2f5898"/>
<circle cx="428.32" cy="377.72" r="2.0" fill="#2f5898"/>
<circle cx="431.40" cy="377.99" r="2.0" fill="#2f5898"/>
<circle cx="414.52" cy="380.89" r="2.0" fill="#2f5898"/>
<circle cx="417.29" cy="380.51" r="2.0" fill="#2f5898"/>
<circle cx="420.96" cy="380.86" r="2.0" fill="#2f5898"/>
<circle cx="423.57" cy="380.23" r="2.0" fill="#2f5898"/>
<circle cx="426.64" cy="380.38" r="2.0" fill="#2f5898"/>
<circle cx="429.54" cy="380.44" r="2.0" fill="#2f5898"/>
<circle cx="415.71" cy="383.16" r="2.0" fill="#2f5898"/>
<circle cx="418.90" cy="383.23" r="2.0" fill="#2f5898"/>
<circle cx="422.62" cy="383.30" r="2.0" fill="#2f5898"/>
<circle cx="424.86" cy="383.26" r="2.0" fill="#2f5898"/>
<circle cx="428.54" cy="383.05" r="2.0" fill="#2f5898"/>
<circle cx="416.53" cy="385.63" r="2.0" fill="#2f5898"/>
<circle cx="419.46" cy="385.80" r="2.0" fill="#2f5898"/>
<circle cx="422.36" cy="386.37" r="2.0" fill="#2f5898"/>
<circle cx="425.38" cy="385.75" r="2.0" fill="#2f5898"/>
<circle cx="428.02" cy="385.90" r="2.0" fill="#2f5898"/>
<circle cx="417.34" cy="388.23" r="2.0" fill="#2f5898"/>
<circle cx="420.45" cy="388.05" r="2.0" fill="#2f5898"/>
<circle cx="423.49" cy="388.94" r="2.0" fill="#2f5898"/>
<circle cx="426.59" cy="388.87" r="2.0" fill="#2f5898"/>
<circle cx="418.83" cy="391.24" r="2.0" fill="#2f5898"/>
<circle cx="422.31" cy="391.38" r="2.0" fill="#2f5898"/>
<circle cx="425.32" cy="390.86" r="2.0" fill="#2f5898"/>
<circle cx="420.58" cy="393.60" r="2.0" fill="#2f5898"/>
<circle cx="423.37" cy="393.41" r="2.0" fill="#2f5898"/>
<circle cx="422.67" cy="396.32" r="2.0" fill="#2f5898"/>
<circle cx="422.54" cy="399.27" r="2.0" fill="#2f5898"/>
<circle cx="422.40" cy="268.20" r="2.0" fill="#2f5898"/>
<circle cx="422.40" cy="271.60" r="2.0" fill="#2f5898"/>
<circle cx="483.40" cy="331.99" r="2.0" fill="#7cc56a"/>
<circle cx="482.60" cy="333.87" r="2.0" fill="#7cc56a"/>
<circle cx="482.66" cy="337.27" r="2.0" fill="#7cc56a"/>
<circle cx="483.15" cy="339.04" r="2.0" fill="#7cc56a"/>
<circle cx="482.99" cy="342.64" r="2.0" fill="#7cc56a"/>
<circle cx="484.03" cy="345.29" r="2.0" fill="#7cc56a"/>
<circle cx="480.62" cy="347.69" r="2.0" fill="#7cc56a"/>
<circle cx="483.57" cy="346.91" r="2.0" fill="#7cc56a"/>
<circle cx="486.08" cy="347.71" r="2.0" fill="#7cc56a"/>
<circle cx="478.38" cy="349.79" r="2.0" fill="#7cc56a"/>
<circle cx="480.99" cy="350.41" r="2.0" fill="#7cc56a"/>
<circle cx="485.38" cy="350.21" r="2.0" fill="#7cc56a"/>
<circle cx="488.00" cy="349.32" r="2.0" fill="#7cc56a"/>
<circle cx="476.58" cy="352.02" r="2.0" fill="#7cc56a"/>
<circle cx="479.71" cy="352.44" r="2.0" fill="#7cc56a"/>
<circle cx="482.93" cy="351.91" r="2.0" fill="#7cc56a"/>
<circle cx="485.68" cy="352.08" r="2.0" fill="#7cc56a"/>
<circle cx="480.83" cy="354.92" r="2.0" fill="#7cc56a"/>
<circle cx="483.79" cy="354.37" r="2.0" fill="#7cc56a"/>
<circle cx="489.64" cy="355.32" r="2.0" fill="#7cc56a"/>
<circle cx="476.19" cy="358.32" r="2.0" fill="#7cc56a"/>
<circle cx="478.12" cy="358.27" r="2.0" fill="#7cc56a"/>
<circle cx="481.95" cy="357.12" r="2.0" fill="#7cc56a"/>
<circle cx="484.77" cy="358.06" r="2.0" fill="#7cc56a"/>
<circle cx="487.79" cy="357.83" r="2.0" fill="#7cc56a"/>
<circle cx="490.37" cy="358.06" r="2.0" fill="#7cc56a"/>
<circle cx="475.06" cy="360.59" r="2.0" fill="#7cc56a"/>
<circle cx="480.91" cy="360.53" r="2.0" fill="#7cc56a"/>
<circle cx="484.67" cy="359.56" r="2.0" fill="#7cc56a"/>
<circle cx="487.35" cy="359.65" r="2.0" fill="#7cc56a"/>
<circle cx="476.73" cy="363.06" r="2.0" fill="#7cc56a"/>
<circle cx="482.89" cy="363.44" r="2.0" fill="#7cc56a"/>
<circle cx="489.09" cy="363.65" r="2.0" fill="#7cc56a"/>
<circle cx="492.06" cy="363.17" r="2.0" fill="#7cc56a"/>
<circle cx="479.26" cy="365.88" r="2.0" fill="#7cc56a"/>
<circle cx="481.89" cy="366.06" r="2.0" fill="#7cc56a"/>
<circle cx="484.74" cy="365.27" r="2.0" fill="#7cc56a"/>
<circle cx="487.26" cy="365.03" r="2.0" fill="#7cc56a"/>
<circle cx="489.86" cy="365.34" r="2.0" fill="#7cc56a"/>
<circle cx="477.26" cy="367.31" r="2.0" fill="#7cc56a"/>
<circle cx="479.60" cy="368.07" r="2.0" fill="#7cc56a"/>
<circle cx="482.83" cy="367.76" r="2.0" fill="#7cc56a"/>
<circle cx="485.52" cy="368.68" r="2.0" fill="#7cc56a"/>
<circle cx="476.79" cy="370.52" r="2.0" fill="#7cc56a"/>
<circle cx="486.01" cy="371.30" r="2.0" fill="#7cc56a"/>
<circle cx="488.37" cy="370.76" r="2.0" fill="#7cc56a"/>
<circle cx="478.32" cy="373.93" r="2.0" fill="#7cc56a"/>
<circle cx="481.00" cy="372.51" r="2.0" fill="#7cc56a"/>
<circle cx="485.19" cy="372.74" r="2.0" fill="#7cc56a"/>
<circle cx="487.39" cy="373.05" r="2.0" fill="#7cc56a"/>
<circle cx="480.45" cy="376.17" r="2.0" fill="#7cc56a"/>
<circle cx="483.13" cy="376.57" r="2.0" fill="#7cc56a"/>
<circle cx="486.22" cy="376.09" r="2.0" fill="#7cc56a"/>
<circle cx="480.98" cy="377.92" r="2.0" fill="#7cc56a"/>
<circle cx="485.10" cy="378.55" r="2.0" fill="#7cc56a"/>
<circle cx="483.50" cy="285.70" r="2.0" fill="#6aa55a"/>
<line x1="350.50" y1="380.60" x2="373.60" y2="380.60" stroke="#1c2433" stroke-width="1.8" stroke-dasharray="3.5 2.5"/>
<line x1="411.00" y1="375.50" x2="433.50" y2="375.50" stroke="#1c2d4a" stroke-width="1.8" stroke-dasharray="3.5 2.5"/>
<line x1="472.70" y1="363.00" x2="494.60" y2="363.00" stroke="#1c3a5a" stroke-width="1.8" stroke-dasharray="3.5 2.5"/>
<line x1="332.70" y1="397.60" x2="502.70" y2="397.60" stroke="#1a1a1a" stroke-width="1.6" />
<line x1="361.70" y1="397.60" x2="361.70" y2="402.60" stroke="#1a1a1a" stroke-width="1.4400000000000002" />
<line x1="422.40" y1="397.60" x2="422.40" y2="402.60" stroke="#1a1a1a" stroke-width="1.4400000000000002" />
<line x1="483.50" y1="397.60" x2="483.50" y2="402.60" stroke="#1a1a1a" stroke-width="1.4400000000000002" />
<text x="361.70" y="417.00" font-size="12" text-anchor="middle" font-weight="normal" font-style="normal" fill="#2a2a2a" >Vehicle</text>
<text x="422.40" y="417.00" font-size="12.5" text-anchor="middle" font-weight="normal" font-style="normal" fill="#2a2a2a" textLength="53" lengthAdjust="spacingAndGlyphs">125μg/kg</text>
<text x="482.70" y="417.00" font-size="12.5" text-anchor="middle" font-weight="normal" font-style="normal" fill="#2a2a2a" textLength="53" lengthAdjust="spacingAndGlyphs">250μg/kg</text>
<line x1="355.00" y1="238.80" x2="422.70" y2="238.80" stroke="#111" stroke-width="1.3" />
<text x="389.00" y="240.00" font-size="18" text-anchor="middle" font-weight="normal" font-style="normal" fill="#222" >****</text>
<line x1="425.00" y1="259.20" x2="495.00" y2="259.20" stroke="#111" stroke-width="1.3" />
<text x="460.00" y="260.40" font-size="18" text-anchor="middle" font-weight="normal" font-style="normal" fill="#222" >****</text>
<text x="0" y="0" font-size="17" font-weight="bold" fill="#111" transform="translate(0.00,449.30) scale(1.12,1)">D</text>
<text x="130.50" y="461.00" font-size="15" font-style="italic" fill="#222">Gfi1<tspan font-size="11" dx="1.0" dy="-6.5">+/–</tspan></text>
<text x="401.30" y="461.00" font-size="15" font-style="italic" fill="#222">Gfi1<tspan font-size="11" dx="1.0" dy="-6.5">–/–</tspan></text>
<circle cx="100.07" cy="580.87" r="2.25" fill="#5d77a8"/>
<circle cx="125.92" cy="569.91" r="2.25" fill="#5d77a8"/>
<circle cx="102.88" cy="586.22" r="2.25" fill="#5d77a8"/>
<circle cx="135.43" cy="571.65" r="2.25" fill="#5d77a8"/>
<circle cx="118.78" cy="557.27" r="2.25" fill="#5d77a8"/>
<circle cx="123.19" cy="548.60" r="2.25" fill="#5d77a8"/>
<circle cx="134.66" cy="557.08" r="2.25" fill="#5d77a8"/>
<circle cx="139.13" cy="577.03" r="2.25" fill="#5d77a8"/>
<circle cx="118.37" cy="551.02" r="2.25" fill="#5d77a8"/>
<circle cx="143.36" cy="564.16" r="2.25" fill="#5d77a8"/>
<circle cx="99.51" cy="587.51" r="2.25" fill="#5d77a8"/>
<circle cx="97.87" cy="593.25" r="2.25" fill="#5d77a8"/>
<circle cx="115.92" cy="573.70" r="2.25" fill="#5d77a8"/>
<circle cx="109.86" cy="570.20" r="2.25" fill="#5d77a8"/>
<circle cx="138.62" cy="557.21" r="2.25" fill="#5d77a8"/>
<circle cx="133.91" cy="555.85" r="2.25" fill="#5d77a8"/>
<circle cx="132.51" cy="584.67" r="2.25" fill="#5d77a8"/>
<circle cx="122.94" cy="582.95" r="2.25" fill="#5d77a8"/>
<circle cx="97.74" cy="569.77" r="2.25" fill="#5d77a8"/>
<circle cx="136.49" cy="555.46" r="2.25" fill="#5d77a8"/>
<circle cx="113.53" cy="563.99" r="2.25" fill="#5d77a8"/>
<circle cx="115.82" cy="565.06" r="2.25" fill="#5d77a8"/>
<circle cx="118.28" cy="570.56" r="2.25" fill="#5d77a8"/>
<circle cx="121.27" cy="583.91" r="2.25" fill="#5d77a8"/>
<circle cx="103.21" cy="576.66" r="2.25" fill="#5d77a8"/>
<circle cx="121.61" cy="577.38" r="2.25" fill="#5d77a8"/>
<circle cx="100.94" cy="553.84" r="2.25" fill="#5d77a8"/>
<circle cx="110.15" cy="593.21" r="2.25" fill="#5d77a8"/>
<circle cx="110.06" cy="576.06" r="2.25" fill="#5d77a8"/>
<circle cx="107.86" cy="550.37" r="2.25" fill="#5d77a8"/>
<circle cx="94.61" cy="587.31" r="2.25" fill="#5d77a8"/>
<circle cx="133.74" cy="564.49" r="2.25" fill="#5d77a8"/>
<circle cx="128.58" cy="580.15" r="2.25" fill="#5d77a8"/>
<circle cx="139.57" cy="570.53" r="2.25" fill="#5d77a8"/>
<circle cx="111.66" cy="557.85" r="2.25" fill="#5d77a8"/>
<circle cx="139.19" cy="553.44" r="2.25" fill="#5d77a8"/>
<circle cx="94.81" cy="586.87" r="2.25" fill="#5d77a8"/>
<circle cx="133.57" cy="570.12" r="2.25" fill="#5d77a8"/>
<circle cx="137.03" cy="547.71" r="2.25" fill="#5d77a8"/>
<circle cx="105.19" cy="560.07" r="2.25" fill="#5d77a8"/>
<circle cx="114.08" cy="553.87" r="2.25" fill="#5d77a8"/>
<circle cx="94.82" cy="562.58" r="2.25" fill="#5d77a8"/>
<circle cx="132.02" cy="569.91" r="2.25" fill="#5d77a8"/>
<circle cx="104.87" cy="594.86" r="2.25" fill="#5d77a8"/>
<circle cx="119.91" cy="582.89" r="2.25" fill="#5d77a8"/>
<circle cx="137.10" cy="586.35" r="2.25" fill="#5d77a8"/>
<circle cx="139.48" cy="576.27" r="2.25" fill="#5d77a8"/>
<circle cx="114.43" cy="575.22" r="2.25" fill="#5d77a8"/>
<circle cx="137.71" cy="561.01" r="2.25" fill="#5d77a8"/>
<circle cx="120.39" cy="559.35" r="2.25" fill="#5d77a8"/>
<circle cx="126.41" cy="589.29" r="2.25" fill="#5d77a8"/>
<circle cx="123.14" cy="558.37" r="2.25" fill="#5d77a8"/>
<circle cx="113.31" cy="594.85" r="2.25" fill="#5d77a8"/>
<circle cx="140.81" cy="551.94" r="2.25" fill="#5d77a8"/>
<circle cx="98.75" cy="590.10" r="2.25" fill="#5d77a8"/>
<circle cx="127.04" cy="551.58" r="2.25" fill="#5d77a8"/>
<circle cx="120.63" cy="561.86" r="2.25" fill="#5d77a8"/>
<circle cx="118.16" cy="556.42" r="2.25" fill="#5d77a8"/>
<circle cx="111.78" cy="581.92" r="2.25" fill="#5d77a8"/>
<circle cx="121.25" cy="547.40" r="2.25" fill="#5d77a8"/>
<circle cx="130.10" cy="590.44" r="2.25" fill="#5d77a8"/>
<circle cx="133.58" cy="586.12" r="2.25" fill="#5d77a8"/>
<circle cx="94.49" cy="584.72" r="2.25" fill="#5d77a8"/>
<circle cx="100.64" cy="582.00" r="2.25" fill="#5d77a8"/>
<circle cx="104.91" cy="581.23" r="2.25" fill="#5d77a8"/>
<circle cx="112.39" cy="561.09" r="2.25" fill="#5d77a8"/>
<circle cx="140.54" cy="560.34" r="2.25" fill="#5d77a8"/>
<circle cx="118.67" cy="573.57" r="2.25" fill="#5d77a8"/>
<circle cx="143.15" cy="550.13" r="2.25" fill="#5d77a8"/>
<circle cx="124.06" cy="571.43" r="2.25" fill="#5d77a8"/>
<circle cx="108.06" cy="581.37" r="2.25" fill="#5d77a8"/>
<circle cx="119.92" cy="574.16" r="2.25" fill="#5d77a8"/>
<circle cx="94.50" cy="587.36" r="2.25" fill="#5d77a8"/>
<circle cx="144.73" cy="563.47" r="2.25" fill="#5d77a8"/>
<circle cx="95.03" cy="587.35" r="2.25" fill="#5d77a8"/>
<circle cx="132.80" cy="568.30" r="2.25" fill="#5d77a8"/>
<circle cx="125.18" cy="546.03" r="2.25" fill="#5d77a8"/>
<circle cx="126.46" cy="568.02" r="2.25" fill="#5d77a8"/>
<circle cx="119.46" cy="565.25" r="2.25" fill="#5d77a8"/>
<circle cx="113.08" cy="556.73" r="2.25" fill="#5d77a8"/>
<circle cx="93.69" cy="567.56" r="2.25" fill="#5d77a8"/>
<circle cx="104.59" cy="581.62" r="2.25" fill="#5d77a8"/>
<circle cx="135.95" cy="582.64" r="2.25" fill="#5d77a8"/>
<circle cx="116.08" cy="557.29" r="2.25" fill="#5d77a8"/>
<circle cx="112.20" cy="570.31" r="2.25" fill="#5d77a8"/>
<circle cx="125.75" cy="595.08" r="2.25" fill="#5d77a8"/>
<circle cx="95.70" cy="569.94" r="2.25" fill="#5d77a8"/>
<circle cx="118.05" cy="582.29" r="2.25" fill="#5d77a8"/>
<circle cx="125.47" cy="584.44" r="2.25" fill="#5d77a8"/>
<circle cx="127.74" cy="589.66" r="2.25" fill="#5d77a8"/>
<circle cx="129.45" cy="580.51" r="2.25" fill="#5d77a8"/>
<circle cx="104.49" cy="592.67" r="2.25" fill="#5d77a8"/>
<circle cx="112.23" cy="576.96" r="2.25" fill="#5d77a8"/>
<circle cx="108.19" cy="561.21" r="2.25" fill="#5d77a8"/>
<circle cx="112.52" cy="552.56" r="2.25" fill="#5d77a8"/>
<circle cx="121.43" cy="549.13" r="2.25" fill="#5d77a8"/>
<circle cx="107.64" cy="594.06" r="2.25" fill="#5d77a8"/>
<circle cx="131.83" cy="569.04" r="2.25" fill="#5d77a8"/>
<circle cx="115.10" cy="573.75" r="2.25" fill="#5d77a8"/>
<circle cx="123.91" cy="569.88" r="2.25" fill="#5d77a8"/>
<circle cx="113.24" cy="593.69" r="2.25" fill="#5d77a8"/>
<circle cx="116.35" cy="593.41" r="2.25" fill="#5d77a8"/>
<circle cx="123.61" cy="582.04" r="2.25" fill="#5d77a8"/>
<circle cx="102.50" cy="568.46" r="2.25" fill="#5d77a8"/>
<circle cx="122.44" cy="581.82" r="2.25" fill="#5d77a8"/>
<circle cx="126.56" cy="581.25" r="2.25" fill="#5d77a8"/>
<circle cx="116.84" cy="582.82" r="2.25" fill="#5d77a8"/>
<circle cx="100.56" cy="594.53" r="2.25" fill="#5d77a8"/>
<circle cx="102.56" cy="588.56" r="2.25" fill="#5d77a8"/>
<circle cx="126.32" cy="584.13" r="2.25" fill="#5d77a8"/>
<circle cx="96.26" cy="590.06" r="2.25" fill="#5d77a8"/>
<circle cx="115.70" cy="568.29" r="2.25" fill="#5d77a8"/>
<circle cx="92.82" cy="580.08" r="2.25" fill="#5d77a8"/>
<circle cx="109.73" cy="579.59" r="2.25" fill="#5d77a8"/>
<circle cx="106.15" cy="584.47" r="2.25" fill="#5d77a8"/>
<circle cx="124.91" cy="572.45" r="2.25" fill="#5d77a8"/>
<circle cx="104.83" cy="581.81" r="2.25" fill="#5d77a8"/>
<circle cx="102.00" cy="582.25" r="2.25" fill="#5d77a8"/>
<circle cx="111.10" cy="576.74" r="2.25" fill="#5d77a8"/>
<circle cx="115.91" cy="579.96" r="2.25" fill="#5d77a8"/>
<circle cx="104.16" cy="576.68" r="2.25" fill="#5d77a8"/>
<circle cx="105.90" cy="593.60" r="2.25" fill="#5d77a8"/>
<circle cx="126.23" cy="579.41" r="2.25" fill="#5d77a8"/>
<circle cx="105.82" cy="565.28" r="2.25" fill="#5d77a8"/>
<circle cx="124.13" cy="567.83" r="2.25" fill="#5d77a8"/>
<circle cx="111.23" cy="573.87" r="2.25" fill="#5d77a8"/>
<circle cx="103.15" cy="574.15" r="2.25" fill="#5d77a8"/>
<circle cx="110.81" cy="589.06" r="2.25" fill="#5d77a8"/>
<circle cx="114.94" cy="568.85" r="2.25" fill="#5d77a8"/>
<circle cx="106.20" cy="590.16" r="2.25" fill="#5d77a8"/>
<circle cx="125.08" cy="577.66" r="2.25" fill="#5d77a8"/>
<circle cx="122.32" cy="578.95" r="2.25" fill="#5d77a8"/>
<circle cx="110.39" cy="581.87" r="2.25" fill="#5d77a8"/>
<circle cx="108.50" cy="586.73" r="2.25" fill="#5d77a8"/>
<circle cx="114.80" cy="574.03" r="2.25" fill="#5d77a8"/>
<circle cx="120.01" cy="589.87" r="2.25" fill="#5d77a8"/>
<circle cx="113.51" cy="594.05" r="2.25" fill="#5d77a8"/>
<circle cx="114.48" cy="573.58" r="2.25" fill="#5d77a8"/>
<circle cx="97.34" cy="585.53" r="2.25" fill="#5d77a8"/>
<circle cx="107.07" cy="571.15" r="2.25" fill="#5d77a8"/>
<circle cx="104.03" cy="566.02" r="2.25" fill="#5d77a8"/>
<circle cx="99.00" cy="570.67" r="2.25" fill="#5d77a8"/>
<circle cx="123.05" cy="568.14" r="2.25" fill="#5d77a8"/>
<circle cx="101.23" cy="565.31" r="2.25" fill="#5d77a8"/>
<circle cx="108.39" cy="569.06" r="2.25" fill="#5d77a8"/>
<circle cx="103.73" cy="586.99" r="2.25" fill="#5d77a8"/>
<circle cx="92.42" cy="574.84" r="2.25" fill="#5d77a8"/>
<circle cx="98.52" cy="578.66" r="2.25" fill="#5d77a8"/>
<circle cx="105.15" cy="587.51" r="2.25" fill="#5d77a8"/>
<circle cx="117.57" cy="577.79" r="2.25" fill="#5d77a8"/>
<circle cx="100.21" cy="569.85" r="2.25" fill="#5d77a8"/>
<circle cx="115.63" cy="567.36" r="2.25" fill="#5d77a8"/>
<circle cx="123.91" cy="583.96" r="2.25" fill="#5d77a8"/>
<circle cx="93.10" cy="578.96" r="2.25" fill="#5d77a8"/>
<circle cx="113.34" cy="563.44" r="2.25" fill="#5d77a8"/>
<circle cx="109.01" cy="563.01" r="2.25" fill="#5d77a8"/>
<circle cx="122.32" cy="569.93" r="2.25" fill="#5d77a8"/>
<circle cx="110.78" cy="566.75" r="2.25" fill="#5d77a8"/>
<circle cx="103.66" cy="591.37" r="2.25" fill="#5d77a8"/>
<circle cx="105.06" cy="583.77" r="2.25" fill="#5d77a8"/>
<circle cx="97.49" cy="589.29" r="2.25" fill="#5d77a8"/>
<circle cx="124.04" cy="580.75" r="2.25" fill="#5d77a8"/>
<circle cx="104.40" cy="590.85" r="2.25" fill="#5d77a8"/>
<circle cx="109.97" cy="568.40" r="2.25" fill="#5d77a8"/>
<circle cx="101.28" cy="567.41" r="2.25" fill="#5d77a8"/>
<circle cx="122.03" cy="579.34" r="2.25" fill="#5d77a8"/>
<circle cx="116.78" cy="589.79" r="2.25" fill="#5d77a8"/>
<circle cx="106.01" cy="591.72" r="2.25" fill="#5d77a8"/>
<circle cx="119.18" cy="575.15" r="2.25" fill="#5d77a8"/>
<circle cx="115.26" cy="568.63" r="2.25" fill="#5d77a8"/>
<circle cx="105.05" cy="570.02" r="2.25" fill="#5d77a8"/>
<circle cx="110.15" cy="594.96" r="2.25" fill="#5d77a8"/>
<circle cx="96.66" cy="580.96" r="2.25" fill="#5d77a8"/>
<circle cx="122.99" cy="582.35" r="2.25" fill="#5d77a8"/>
<circle cx="110.51" cy="588.11" r="2.25" fill="#5d77a8"/>
<circle cx="116.40" cy="589.43" r="2.25" fill="#5d77a8"/>
<circle cx="121.53" cy="565.35" r="2.25" fill="#5d77a8"/>
<circle cx="93.46" cy="568.06" r="2.25" fill="#5d77a8"/>
<circle cx="109.68" cy="593.90" r="2.25" fill="#5d77a8"/>
<circle cx="124.64" cy="576.01" r="2.25" fill="#5d77a8"/>
<circle cx="114.03" cy="587.15" r="2.25" fill="#5d77a8"/>
<circle cx="103.30" cy="595.00" r="2.25" fill="#5d77a8"/>
<circle cx="115.13" cy="572.93" r="2.25" fill="#5d77a8"/>
<circle cx="101.41" cy="570.11" r="2.25" fill="#5d77a8"/>
<circle cx="102.70" cy="565.51" r="2.25" fill="#5d77a8"/>
<circle cx="107.47" cy="573.30" r="2.25" fill="#5d77a8"/>
<circle cx="97.49" cy="578.21" r="2.25" fill="#5d77a8"/>
<circle cx="106.35" cy="574.04" r="2.25" fill="#5d77a8"/>
<circle cx="121.09" cy="572.43" r="2.25" fill="#5d77a8"/>
<circle cx="111.03" cy="591.85" r="2.25" fill="#5d77a8"/>
<circle cx="126.49" cy="574.74" r="2.25" fill="#5d77a8"/>
<circle cx="110.02" cy="569.40" r="2.25" fill="#5d77a8"/>
<circle cx="95.74" cy="570.13" r="2.25" fill="#5d77a8"/>
<circle cx="102.49" cy="566.72" r="2.25" fill="#5d77a8"/>
<circle cx="121.35" cy="565.85" r="2.25" fill="#5d77a8"/>
<circle cx="108.79" cy="589.25" r="2.25" fill="#5d77a8"/>
<circle cx="109.67" cy="564.35" r="2.25" fill="#5d77a8"/>
<circle cx="103.57" cy="574.94" r="2.25" fill="#5d77a8"/>
<circle cx="124.84" cy="581.82" r="2.25" fill="#5d77a8"/>
<circle cx="107.98" cy="583.44" r="2.25" fill="#5d77a8"/>
<circle cx="92.80" cy="585.33" r="2.25" fill="#5d77a8"/>
<circle cx="120.90" cy="584.80" r="2.25" fill="#5d77a8"/>
<circle cx="104.35" cy="571.72" r="2.25" fill="#5d77a8"/>
<circle cx="96.72" cy="577.41" r="2.25" fill="#5d77a8"/>
<circle cx="119.80" cy="569.38" r="2.25" fill="#5d77a8"/>
<circle cx="108.48" cy="583.62" r="2.25" fill="#5d77a8"/>
<circle cx="125.06" cy="581.90" r="2.25" fill="#5d77a8"/>
<circle cx="102.22" cy="570.14" r="2.25" fill="#5d77a8"/>
<circle cx="116.49" cy="593.71" r="2.25" fill="#5d77a8"/>
<circle cx="103.48" cy="575.53" r="2.25" fill="#5d77a8"/>
<circle cx="111.61" cy="567.95" r="2.25" fill="#5d77a8"/>
<circle cx="106.02" cy="593.20" r="2.25" fill="#5d77a8"/>
<circle cx="111.59" cy="589.98" r="2.25" fill="#5d77a8"/>
<circle cx="100.69" cy="591.54" r="2.25" fill="#5d77a8"/>
<circle cx="119.96" cy="569.66" r="2.25" fill="#5d77a8"/>
<circle cx="110.61" cy="585.18" r="2.25" fill="#5d77a8"/>
<circle cx="112.20" cy="582.47" r="2.25" fill="#5d77a8"/>
<circle cx="99.88" cy="580.83" r="2.25" fill="#5d77a8"/>
<circle cx="104.12" cy="589.13" r="2.25" fill="#5d77a8"/>
<circle cx="104.79" cy="595.30" r="2.25" fill="#5d77a8"/>
<circle cx="112.48" cy="569.74" r="2.25" fill="#5d77a8"/>
<circle cx="106.38" cy="566.35" r="2.25" fill="#5d77a8"/>
<circle cx="113.38" cy="572.47" r="2.25" fill="#5d77a8"/>
<circle cx="119.75" cy="566.31" r="2.25" fill="#5d77a8"/>
<circle cx="116.18" cy="586.28" r="2.25" fill="#5d77a8"/>
<circle cx="99.63" cy="566.43" r="2.25" fill="#5d77a8"/>
<circle cx="104.78" cy="584.07" r="2.25" fill="#5d77a8"/>
<circle cx="107.33" cy="589.50" r="2.25" fill="#5d77a8"/>
<circle cx="96.84" cy="593.98" r="2.25" fill="#5d77a8"/>
<circle cx="109.80" cy="567.46" r="2.25" fill="#5d77a8"/>
<circle cx="94.70" cy="574.61" r="2.25" fill="#5d77a8"/>
<circle cx="108.63" cy="567.97" r="2.25" fill="#5d77a8"/>
<circle cx="94.11" cy="579.04" r="2.25" fill="#5d77a8"/>
<circle cx="100.40" cy="577.11" r="2.25" fill="#5d77a8"/>
<circle cx="107.68" cy="585.71" r="2.25" fill="#5d77a8"/>
<circle cx="112.37" cy="569.76" r="2.25" fill="#5d77a8"/>
<circle cx="97.65" cy="591.19" r="2.25" fill="#5d77a8"/>
<circle cx="93.59" cy="590.09" r="2.25" fill="#5d77a8"/>
<circle cx="111.02" cy="593.41" r="2.25" fill="#5d77a8"/>
<circle cx="114.17" cy="573.40" r="2.25" fill="#5d77a8"/>
<circle cx="106.93" cy="586.90" r="2.25" fill="#5d77a8"/>
<circle cx="99.56" cy="589.30" r="2.25" fill="#5d77a8"/>
<circle cx="106.08" cy="563.43" r="2.25" fill="#5d77a8"/>
<circle cx="103.72" cy="581.05" r="2.25" fill="#5d77a8"/>
<circle cx="96.42" cy="592.78" r="2.25" fill="#5d77a8"/>
<circle cx="125.27" cy="579.39" r="2.25" fill="#5d77a8"/>
<circle cx="98.40" cy="596.80" r="2.25" fill="#5d77a8"/>
<circle cx="116.60" cy="598.00" r="2.25" fill="#5d77a8"/>
<circle cx="104.00" cy="595.00" r="2.25" fill="#5d77a8"/>
<circle cx="122.00" cy="596.00" r="2.25" fill="#5d77a8"/>
<circle cx="147.30" cy="515.00" r="2.25" fill="#5d77a8"/>
<circle cx="118.50" cy="529.80" r="2.25" fill="#5d77a8"/>
<circle cx="136.20" cy="527.50" r="2.25" fill="#5d77a8"/>
<circle cx="141.00" cy="531.30" r="2.25" fill="#5d77a8"/>
<circle cx="149.20" cy="529.80" r="2.25" fill="#5d77a8"/>
<circle cx="152.50" cy="529.80" r="2.25" fill="#5d77a8"/>
<circle cx="167.30" cy="527.30" r="2.25" fill="#5d77a8"/>
<circle cx="130.00" cy="537.50" r="2.25" fill="#5d77a8"/>
<circle cx="136.70" cy="537.50" r="2.25" fill="#5d77a8"/>
<circle cx="168.50" cy="538.00" r="2.25" fill="#5d77a8"/>
<circle cx="178.00" cy="537.00" r="2.25" fill="#5d77a8"/>
<circle cx="155.00" cy="541.90" r="2.25" fill="#5d77a8"/>
<circle cx="150.60" cy="545.20" r="2.25" fill="#5d77a8"/>
<circle cx="142.90" cy="546.20" r="2.25" fill="#5d77a8"/>
<circle cx="146.30" cy="547.00" r="2.25" fill="#5d77a8"/>
<circle cx="158.80" cy="546.50" r="2.25" fill="#5d77a8"/>
<circle cx="117.30" cy="545.60" r="2.25" fill="#5d77a8"/>
<circle cx="132.30" cy="547.70" r="2.25" fill="#5d77a8"/>
<circle cx="125.60" cy="549.60" r="2.25" fill="#5d77a8"/>
<circle cx="128.50" cy="551.00" r="2.25" fill="#5d77a8"/>
<circle cx="153.50" cy="549.00" r="2.25" fill="#5d77a8"/>
<circle cx="167.90" cy="549.00" r="2.25" fill="#5d77a8"/>
<circle cx="172.30" cy="549.60" r="2.25" fill="#5d77a8"/>
<circle cx="107.30" cy="552.00" r="2.25" fill="#5d77a8"/>
<circle cx="112.00" cy="552.00" r="2.25" fill="#5d77a8"/>
<circle cx="135.20" cy="551.00" r="2.25" fill="#5d77a8"/>
<circle cx="137.10" cy="552.90" r="2.25" fill="#5d77a8"/>
<circle cx="141.00" cy="555.80" r="2.25" fill="#5d77a8"/>
<circle cx="151.20" cy="552.90" r="2.25" fill="#5d77a8"/>
<circle cx="170.80" cy="554.80" r="2.25" fill="#5d77a8"/>
<circle cx="171.70" cy="558.00" r="2.25" fill="#5d77a8"/>
<circle cx="156.30" cy="559.20" r="2.25" fill="#5d77a8"/>
<circle cx="103.50" cy="556.70" r="2.25" fill="#5d77a8"/>
<circle cx="109.20" cy="557.70" r="2.25" fill="#5d77a8"/>
<circle cx="157.30" cy="566.30" r="2.25" fill="#5d77a8"/>
<circle cx="161.20" cy="566.30" r="2.25" fill="#5d77a8"/>
<circle cx="147.70" cy="566.30" r="2.25" fill="#5d77a8"/>
<circle cx="189.00" cy="572.10" r="2.25" fill="#5d77a8"/>
<circle cx="157.10" cy="580.80" r="2.25" fill="#5d77a8"/>
<circle cx="159.00" cy="579.20" r="2.25" fill="#5d77a8"/>
<circle cx="150.40" cy="544.80" r="2.25" fill="#5d77a8"/>
<circle cx="155.20" cy="542.30" r="2.25" fill="#5d77a8"/>
<circle cx="156.20" cy="559.20" r="2.25" fill="#5d77a8"/>
<circle cx="156.20" cy="581.30" r="2.25" fill="#5d77a8"/>
<circle cx="159.00" cy="579.40" r="2.25" fill="#5d77a8"/>
<circle cx="157.00" cy="566.00" r="2.25" fill="#5d77a8"/>
<line x1="66.70" y1="597.70" x2="189.40" y2="536.50" stroke="#b5193c" stroke-width="2.0" stroke-dasharray="4 3"/>
<line x1="62.50" y1="466.20" x2="62.50" y2="600.60" stroke="#1a1a1a" stroke-width="1.6" />
<line x1="57.50" y1="599.80" x2="62.50" y2="599.80" stroke="#1a1a1a" stroke-width="1.4400000000000002" />
<text x="52.50" y="603.90" font-size="12" text-anchor="end" font-weight="normal" font-style="normal" fill="#2a2a2a" >0</text>
<line x1="57.50" y1="567.70" x2="62.50" y2="567.70" stroke="#1a1a1a" stroke-width="1.4400000000000002" />
<text x="52.50" y="571.80" font-size="12" text-anchor="end" font-weight="normal" font-style="normal" fill="#2a2a2a" >500</text>
<line x1="57.50" y1="535.60" x2="62.50" y2="535.60" stroke="#1a1a1a" stroke-width="1.4400000000000002" />
<text x="52.50" y="539.70" font-size="12" text-anchor="end" font-weight="normal" font-style="normal" fill="#2a2a2a" >1000</text>
<line x1="57.50" y1="503.50" x2="62.50" y2="503.50" stroke="#1a1a1a" stroke-width="1.4400000000000002" />
<text x="52.50" y="507.60" font-size="12" text-anchor="end" font-weight="normal" font-style="normal" fill="#2a2a2a" >1500</text>
<line x1="57.50" y1="471.40" x2="62.50" y2="471.40" stroke="#1a1a1a" stroke-width="1.4400000000000002" />
<text x="52.50" y="475.50" font-size="12" text-anchor="end" font-weight="normal" font-style="normal" fill="#2a2a2a" >2000</text>
<line x1="61.70" y1="599.80" x2="241.00" y2="599.80" stroke="#1a1a1a" stroke-width="1.6" />
<line x1="63.00" y1="599.80" x2="63.00" y2="604.80" stroke="#1a1a1a" stroke-width="1.4400000000000002" />
<text x="63.00" y="619.00" font-size="12" text-anchor="middle" font-weight="normal" font-style="normal" fill="#2a2a2a" >0</text>
<line x1="106.20" y1="599.80" x2="106.20" y2="604.80" stroke="#1a1a1a" stroke-width="1.4400000000000002" />
<text x="106.20" y="619.00" font-size="12" text-anchor="middle" font-weight="normal" font-style="normal" fill="#2a2a2a" >500</text>
<line x1="149.40" y1="599.80" x2="149.40" y2="604.80" stroke="#1a1a1a" stroke-width="1.4400000000000002" />
<text x="149.40" y="619.00" font-size="12" text-anchor="middle" font-weight="normal" font-style="normal" fill="#2a2a2a" >1000</text>
<line x1="192.60" y1="599.80" x2="192.60" y2="604.80" stroke="#1a1a1a" stroke-width="1.4400000000000002" />
<text x="192.60" y="619.00" font-size="12" text-anchor="middle" font-weight="normal" font-style="normal" fill="#2a2a2a" >1500</text>
<line x1="235.80" y1="599.80" x2="235.80" y2="604.80" stroke="#1a1a1a" stroke-width="1.4400000000000002" />
<text x="235.80" y="619.00" font-size="12" text-anchor="middle" font-weight="normal" font-style="normal" fill="#2a2a2a" >2000</text>
<text x="182.70" y="593.80" font-size="12" text-anchor="start" font-weight="normal" font-style="normal" fill="#222" >r = 0.5353</text>
<text x="0" y="0" font-size="14.5" text-anchor="middle" fill="#2a2a2a" transform="translate(22.40,545.00) rotate(-90)" textLength="70" lengthAdjust="spacingAndGlyphs">CD11b area</text>
<line x1="17.00" y1="594.00" x2="17.00" y2="633.30" stroke="#111" stroke-width="1.8" />
<polygon points="17.00,585.50 11.00,595.50 23.00,595.50" fill="#111"/>
<line x1="16.10" y1="632.50" x2="52.00" y2="632.50" stroke="#111" stroke-width="1.8" />
<polygon points="60.50,632.50 51.00,627.00 51.00,638.00" fill="#111"/>
<text x="66.00" y="637.50" font-size="13.5" text-anchor="start" font-weight="normal" font-style="normal" fill="#222" textLength="62" lengthAdjust="spacingAndGlyphs">CD71 area</text>
<circle cx="395.01" cy="575.77" r="2.25" fill="#5d77a8"/>
<circle cx="391.84" cy="565.06" r="2.25" fill="#5d77a8"/>
<circle cx="374.53" cy="576.53" r="2.25" fill="#5d77a8"/>
<circle cx="376.02" cy="576.91" r="2.25" fill="#5d77a8"/>
<circle cx="401.05" cy="575.68" r="2.25" fill="#5d77a8"/>
<circle cx="390.95" cy="587.10" r="2.25" fill="#5d77a8"/>
<circle cx="404.79" cy="581.80" r="2.25" fill="#5d77a8"/>
<circle cx="398.39" cy="582.97" r="2.25" fill="#5d77a8"/>
<circle cx="414.40" cy="573.54" r="2.25" fill="#5d77a8"/>
<circle cx="403.60" cy="573.76" r="2.25" fill="#5d77a8"/>
<circle cx="393.99" cy="584.41" r="2.25" fill="#5d77a8"/>
<circle cx="388.97" cy="586.50" r="2.25" fill="#5d77a8"/>
<circle cx="394.94" cy="576.63" r="2.25" fill="#5d77a8"/>
<circle cx="397.59" cy="566.94" r="2.25" fill="#5d77a8"/>
<circle cx="406.47" cy="567.44" r="2.25" fill="#5d77a8"/>
<circle cx="394.03" cy="590.25" r="2.25" fill="#5d77a8"/>
<circle cx="381.64" cy="573.79" r="2.25" fill="#5d77a8"/>
<circle cx="379.47" cy="571.42" r="2.25" fill="#5d77a8"/>
<circle cx="404.51" cy="580.34" r="2.25" fill="#5d77a8"/>
<circle cx="404.83" cy="586.11" r="2.25" fill="#5d77a8"/>
<circle cx="407.12" cy="568.99" r="2.25" fill="#5d77a8"/>
<circle cx="373.26" cy="595.89" r="2.25" fill="#5d77a8"/>
<circle cx="365.90" cy="589.85" r="2.25" fill="#5d77a8"/>
<circle cx="403.05" cy="572.93" r="2.25" fill="#5d77a8"/>
<circle cx="414.59" cy="574.06" r="2.25" fill="#5d77a8"/>
<circle cx="388.56" cy="567.48" r="2.25" fill="#5d77a8"/>
<circle cx="391.78" cy="566.49" r="2.25" fill="#5d77a8"/>
<circle cx="392.53" cy="589.97" r="2.25" fill="#5d77a8"/>
<circle cx="377.66" cy="575.69" r="2.25" fill="#5d77a8"/>
<circle cx="410.82" cy="576.53" r="2.25" fill="#5d77a8"/>
<circle cx="382.25" cy="592.87" r="2.25" fill="#5d77a8"/>
<circle cx="399.91" cy="575.36" r="2.25" fill="#5d77a8"/>
<circle cx="397.44" cy="569.00" r="2.25" fill="#5d77a8"/>
<circle cx="379.82" cy="575.25" r="2.25" fill="#5d77a8"/>
<circle cx="404.21" cy="580.63" r="2.25" fill="#5d77a8"/>
<circle cx="392.86" cy="590.47" r="2.25" fill="#5d77a8"/>
<circle cx="370.25" cy="583.34" r="2.25" fill="#5d77a8"/>
<circle cx="381.72" cy="580.72" r="2.25" fill="#5d77a8"/>
<circle cx="407.47" cy="569.36" r="2.25" fill="#5d77a8"/>
<circle cx="393.48" cy="580.08" r="2.25" fill="#5d77a8"/>
<circle cx="376.74" cy="580.77" r="2.25" fill="#5d77a8"/>
<circle cx="388.80" cy="576.71" r="2.25" fill="#5d77a8"/>
<circle cx="384.01" cy="588.97" r="2.25" fill="#5d77a8"/>
<circle cx="371.96" cy="591.96" r="2.25" fill="#5d77a8"/>
<circle cx="375.12" cy="585.16" r="2.25" fill="#5d77a8"/>
<circle cx="373.57" cy="576.70" r="2.25" fill="#5d77a8"/>
<circle cx="386.33" cy="563.29" r="2.25" fill="#5d77a8"/>
<circle cx="400.52" cy="577.83" r="2.25" fill="#5d77a8"/>
<circle cx="399.98" cy="579.98" r="2.25" fill="#5d77a8"/>
<circle cx="393.16" cy="579.50" r="2.25" fill="#5d77a8"/>
<circle cx="379.95" cy="593.10" r="2.25" fill="#5d77a8"/>
<circle cx="369.12" cy="592.30" r="2.25" fill="#5d77a8"/>
<circle cx="408.91" cy="578.47" r="2.25" fill="#5d77a8"/>
<circle cx="404.48" cy="584.88" r="2.25" fill="#5d77a8"/>
<circle cx="395.68" cy="570.94" r="2.25" fill="#5d77a8"/>
<circle cx="381.07" cy="573.05" r="2.25" fill="#5d77a8"/>
<circle cx="380.17" cy="595.33" r="2.25" fill="#5d77a8"/>
<circle cx="382.17" cy="574.45" r="2.25" fill="#5d77a8"/>
<circle cx="386.18" cy="590.10" r="2.25" fill="#5d77a8"/>
<circle cx="389.16" cy="580.51" r="2.25" fill="#5d77a8"/>
<circle cx="377.78" cy="570.45" r="2.25" fill="#5d77a8"/>
<circle cx="378.21" cy="591.41" r="2.25" fill="#5d77a8"/>
<circle cx="390.43" cy="564.33" r="2.25" fill="#5d77a8"/>
<circle cx="388.39" cy="564.71" r="2.25" fill="#5d77a8"/>
<circle cx="393.68" cy="576.44" r="2.25" fill="#5d77a8"/>
<circle cx="408.64" cy="569.76" r="2.25" fill="#5d77a8"/>
<circle cx="408.26" cy="569.34" r="2.25" fill="#5d77a8"/>
<circle cx="366.89" cy="589.76" r="2.25" fill="#5d77a8"/>
<circle cx="378.81" cy="573.52" r="2.25" fill="#5d77a8"/>
<circle cx="372.21" cy="590.87" r="2.25" fill="#5d77a8"/>
<circle cx="369.33" cy="587.25" r="2.25" fill="#5d77a8"/>
<circle cx="384.96" cy="585.10" r="2.25" fill="#5d77a8"/>
<circle cx="373.39" cy="595.93" r="2.25" fill="#5d77a8"/>
<circle cx="371.82" cy="587.01" r="2.25" fill="#5d77a8"/>
<circle cx="388.71" cy="586.18" r="2.25" fill="#5d77a8"/>
<circle cx="393.87" cy="588.43" r="2.25" fill="#5d77a8"/>
<circle cx="406.77" cy="582.31" r="2.25" fill="#5d77a8"/>
<circle cx="394.98" cy="572.23" r="2.25" fill="#5d77a8"/>
<circle cx="386.54" cy="571.86" r="2.25" fill="#5d77a8"/>
<circle cx="396.43" cy="579.77" r="2.25" fill="#5d77a8"/>
<circle cx="408.68" cy="576.22" r="2.25" fill="#5d77a8"/>
<circle cx="383.23" cy="584.07" r="2.25" fill="#5d77a8"/>
<circle cx="380.67" cy="592.66" r="2.25" fill="#5d77a8"/>
<circle cx="401.78" cy="587.98" r="2.25" fill="#5d77a8"/>
<circle cx="392.10" cy="567.99" r="2.25" fill="#5d77a8"/>
<circle cx="385.53" cy="562.44" r="2.25" fill="#5d77a8"/>
<circle cx="380.86" cy="575.90" r="2.25" fill="#5d77a8"/>
<circle cx="406.83" cy="581.81" r="2.25" fill="#5d77a8"/>
<circle cx="385.92" cy="569.28" r="2.25" fill="#5d77a8"/>
<circle cx="380.84" cy="584.78" r="2.25" fill="#5d77a8"/>
<circle cx="387.51" cy="566.62" r="2.25" fill="#5d77a8"/>
<circle cx="406.77" cy="581.31" r="2.25" fill="#5d77a8"/>
<circle cx="396.60" cy="575.91" r="2.25" fill="#5d77a8"/>
<circle cx="386.73" cy="562.59" r="2.25" fill="#5d77a8"/>
<circle cx="407.72" cy="574.59" r="2.25" fill="#5d77a8"/>
<circle cx="400.99" cy="584.70" r="2.25" fill="#5d77a8"/>
<circle cx="395.54" cy="562.62" r="2.25" fill="#5d77a8"/>
<circle cx="394.81" cy="579.08" r="2.25" fill="#5d77a8"/>
<circle cx="392.48" cy="564.73" r="2.25" fill="#5d77a8"/>
<circle cx="372.15" cy="583.71" r="2.25" fill="#5d77a8"/>
<circle cx="380.55" cy="582.95" r="2.25" fill="#5d77a8"/>
<circle cx="403.11" cy="582.43" r="2.25" fill="#5d77a8"/>
<circle cx="391.92" cy="567.50" r="2.25" fill="#5d77a8"/>
<circle cx="382.48" cy="596.00" r="2.25" fill="#5d77a8"/>
<circle cx="378.45" cy="570.68" r="2.25" fill="#5d77a8"/>
<circle cx="389.96" cy="580.23" r="2.25" fill="#5d77a8"/>
<circle cx="405.19" cy="571.08" r="2.25" fill="#5d77a8"/>
<circle cx="405.17" cy="581.10" r="2.25" fill="#5d77a8"/>
<circle cx="398.85" cy="564.40" r="2.25" fill="#5d77a8"/>
<circle cx="370.37" cy="590.50" r="2.25" fill="#5d77a8"/>
<circle cx="390.90" cy="570.23" r="2.25" fill="#5d77a8"/>
<circle cx="374.81" cy="587.13" r="2.25" fill="#5d77a8"/>
<circle cx="398.63" cy="565.49" r="2.25" fill="#5d77a8"/>
<circle cx="393.85" cy="581.18" r="2.25" fill="#5d77a8"/>
<circle cx="405.56" cy="583.53" r="2.25" fill="#5d77a8"/>
<circle cx="371.84" cy="589.38" r="2.25" fill="#5d77a8"/>
<circle cx="382.82" cy="581.61" r="2.25" fill="#5d77a8"/>
<circle cx="390.94" cy="593.30" r="2.25" fill="#5d77a8"/>
<circle cx="385.92" cy="591.45" r="2.25" fill="#5d77a8"/>
<circle cx="399.03" cy="582.64" r="2.25" fill="#5d77a8"/>
<circle cx="396.12" cy="575.92" r="2.25" fill="#5d77a8"/>
<circle cx="390.65" cy="589.85" r="2.25" fill="#5d77a8"/>
<circle cx="391.44" cy="579.89" r="2.25" fill="#5d77a8"/>
<circle cx="378.33" cy="582.21" r="2.25" fill="#5d77a8"/>
<circle cx="371.23" cy="578.85" r="2.25" fill="#5d77a8"/>
<circle cx="383.02" cy="567.79" r="2.25" fill="#5d77a8"/>
<circle cx="377.38" cy="573.79" r="2.25" fill="#5d77a8"/>
<circle cx="410.02" cy="577.07" r="2.25" fill="#5d77a8"/>
<circle cx="372.87" cy="580.38" r="2.25" fill="#5d77a8"/>
<circle cx="372.51" cy="580.80" r="2.25" fill="#5d77a8"/>
<circle cx="397.31" cy="588.01" r="2.25" fill="#5d77a8"/>
<circle cx="387.57" cy="562.25" r="2.25" fill="#5d77a8"/>
<circle cx="402.51" cy="577.24" r="2.25" fill="#5d77a8"/>
<circle cx="404.59" cy="572.63" r="2.25" fill="#5d77a8"/>
<circle cx="389.28" cy="589.23" r="2.25" fill="#5d77a8"/>
<circle cx="385.37" cy="584.63" r="2.25" fill="#5d77a8"/>
<circle cx="383.97" cy="587.04" r="2.25" fill="#5d77a8"/>
<circle cx="373.62" cy="592.42" r="2.25" fill="#5d77a8"/>
<circle cx="400.18" cy="564.17" r="2.25" fill="#5d77a8"/>
<circle cx="379.97" cy="579.64" r="2.25" fill="#5d77a8"/>
<circle cx="397.26" cy="582.98" r="2.25" fill="#5d77a8"/>
<circle cx="385.20" cy="587.29" r="2.25" fill="#5d77a8"/>
<circle cx="395.43" cy="574.99" r="2.25" fill="#5d77a8"/>
<circle cx="382.06" cy="565.91" r="2.25" fill="#5d77a8"/>
<circle cx="389.56" cy="573.11" r="2.25" fill="#5d77a8"/>
<circle cx="395.92" cy="568.60" r="2.25" fill="#5d77a8"/>
<circle cx="369.50" cy="583.19" r="2.25" fill="#5d77a8"/>
<circle cx="400.18" cy="569.65" r="2.25" fill="#5d77a8"/>
<circle cx="402.09" cy="587.53" r="2.25" fill="#5d77a8"/>
<circle cx="402.17" cy="572.69" r="2.25" fill="#5d77a8"/>
<circle cx="392.52" cy="581.76" r="2.25" fill="#5d77a8"/>
<circle cx="383.91" cy="571.79" r="2.25" fill="#5d77a8"/>
<circle cx="409.02" cy="573.26" r="2.25" fill="#5d77a8"/>
<circle cx="369.88" cy="584.75" r="2.25" fill="#5d77a8"/>
<circle cx="381.73" cy="581.15" r="2.25" fill="#5d77a8"/>
<circle cx="402.98" cy="576.94" r="2.25" fill="#5d77a8"/>
<circle cx="402.24" cy="582.91" r="2.25" fill="#5d77a8"/>
<circle cx="379.15" cy="578.72" r="2.25" fill="#5d77a8"/>
<circle cx="406.92" cy="580.05" r="2.25" fill="#5d77a8"/>
<circle cx="397.49" cy="561.90" r="2.25" fill="#5d77a8"/>
<circle cx="389.15" cy="586.83" r="2.25" fill="#5d77a8"/>
<circle cx="387.19" cy="568.68" r="2.25" fill="#5d77a8"/>
<circle cx="392.50" cy="591.58" r="2.25" fill="#5d77a8"/>
<circle cx="373.16" cy="595.66" r="2.25" fill="#5d77a8"/>
<circle cx="373.58" cy="587.24" r="2.25" fill="#5d77a8"/>
<circle cx="369.85" cy="589.47" r="2.25" fill="#5d77a8"/>
<circle cx="372.02" cy="588.16" r="2.25" fill="#5d77a8"/>
<circle cx="392.94" cy="589.68" r="2.25" fill="#5d77a8"/>
<circle cx="382.61" cy="592.25" r="2.25" fill="#5d77a8"/>
<circle cx="402.56" cy="572.97" r="2.25" fill="#5d77a8"/>
<circle cx="385.37" cy="594.62" r="2.25" fill="#5d77a8"/>
<circle cx="393.48" cy="581.42" r="2.25" fill="#5d77a8"/>
<circle cx="377.62" cy="594.49" r="2.25" fill="#5d77a8"/>
<circle cx="369.61" cy="589.55" r="2.25" fill="#5d77a8"/>
<circle cx="397.28" cy="574.05" r="2.25" fill="#5d77a8"/>
<circle cx="378.43" cy="577.85" r="2.25" fill="#5d77a8"/>
<circle cx="386.29" cy="579.43" r="2.25" fill="#5d77a8"/>
<circle cx="378.04" cy="593.00" r="2.25" fill="#5d77a8"/>
<circle cx="390.78" cy="590.54" r="2.25" fill="#5d77a8"/>
<circle cx="397.88" cy="576.85" r="2.25" fill="#5d77a8"/>
<circle cx="369.92" cy="582.71" r="2.25" fill="#5d77a8"/>
<circle cx="384.00" cy="587.23" r="2.25" fill="#5d77a8"/>
<circle cx="402.04" cy="573.38" r="2.25" fill="#5d77a8"/>
<circle cx="384.95" cy="595.63" r="2.25" fill="#5d77a8"/>
<circle cx="394.42" cy="583.67" r="2.25" fill="#5d77a8"/>
<circle cx="375.36" cy="586.22" r="2.25" fill="#5d77a8"/>
<circle cx="376.03" cy="586.55" r="2.25" fill="#5d77a8"/>
<circle cx="390.18" cy="580.06" r="2.25" fill="#5d77a8"/>
<circle cx="395.51" cy="580.37" r="2.25" fill="#5d77a8"/>
<circle cx="383.61" cy="591.37" r="2.25" fill="#5d77a8"/>
<circle cx="375.64" cy="574.77" r="2.25" fill="#5d77a8"/>
<circle cx="387.46" cy="581.17" r="2.25" fill="#5d77a8"/>
<circle cx="398.41" cy="576.40" r="2.25" fill="#5d77a8"/>
<circle cx="380.05" cy="571.48" r="2.25" fill="#5d77a8"/>
<circle cx="382.96" cy="578.03" r="2.25" fill="#5d77a8"/>
<circle cx="382.88" cy="589.63" r="2.25" fill="#5d77a8"/>
<circle cx="367.87" cy="595.42" r="2.25" fill="#5d77a8"/>
<circle cx="392.47" cy="590.85" r="2.25" fill="#5d77a8"/>
<circle cx="386.17" cy="584.81" r="2.25" fill="#5d77a8"/>
<circle cx="381.45" cy="580.18" r="2.25" fill="#5d77a8"/>
<circle cx="374.56" cy="577.79" r="2.25" fill="#5d77a8"/>
<circle cx="377.23" cy="578.64" r="2.25" fill="#5d77a8"/>
<circle cx="399.61" cy="590.52" r="2.25" fill="#5d77a8"/>
<circle cx="376.08" cy="583.96" r="2.25" fill="#5d77a8"/>
<circle cx="391.76" cy="580.78" r="2.25" fill="#5d77a8"/>
<circle cx="389.59" cy="593.26" r="2.25" fill="#5d77a8"/>
<circle cx="376.26" cy="579.82" r="2.25" fill="#5d77a8"/>
<circle cx="394.25" cy="578.19" r="2.25" fill="#5d77a8"/>
<circle cx="392.83" cy="580.21" r="2.25" fill="#5d77a8"/>
<circle cx="367.21" cy="581.89" r="2.25" fill="#5d77a8"/>
<circle cx="368.99" cy="590.17" r="2.25" fill="#5d77a8"/>
<circle cx="397.34" cy="583.61" r="2.25" fill="#5d77a8"/>
<circle cx="399.32" cy="575.48" r="2.25" fill="#5d77a8"/>
<circle cx="382.77" cy="574.51" r="2.25" fill="#5d77a8"/>
<circle cx="368.28" cy="591.19" r="2.25" fill="#5d77a8"/>
<circle cx="368.41" cy="594.02" r="2.25" fill="#5d77a8"/>
<circle cx="386.82" cy="588.01" r="2.25" fill="#5d77a8"/>
<circle cx="368.31" cy="593.32" r="2.25" fill="#5d77a8"/>
<circle cx="395.47" cy="572.67" r="2.25" fill="#5d77a8"/>
<circle cx="384.90" cy="572.02" r="2.25" fill="#5d77a8"/>
<circle cx="395.64" cy="582.76" r="2.25" fill="#5d77a8"/>
<circle cx="392.20" cy="576.54" r="2.25" fill="#5d77a8"/>
<circle cx="390.37" cy="581.66" r="2.25" fill="#5d77a8"/>
<circle cx="390.17" cy="580.56" r="2.25" fill="#5d77a8"/>
<circle cx="396.89" cy="578.77" r="2.25" fill="#5d77a8"/>
<circle cx="373.47" cy="573.94" r="2.25" fill="#5d77a8"/>
<circle cx="371.30" cy="594.86" r="2.25" fill="#5d77a8"/>
<circle cx="376.80" cy="592.37" r="2.25" fill="#5d77a8"/>
<circle cx="374.98" cy="585.93" r="2.25" fill="#5d77a8"/>
<circle cx="375.60" cy="577.89" r="2.25" fill="#5d77a8"/>
<circle cx="393.79" cy="585.64" r="2.25" fill="#5d77a8"/>
<circle cx="401.03" cy="576.10" r="2.25" fill="#5d77a8"/>
<circle cx="374.31" cy="595.20" r="2.25" fill="#5d77a8"/>
<circle cx="387.08" cy="582.22" r="2.25" fill="#5d77a8"/>
<circle cx="378.94" cy="589.52" r="2.25" fill="#5d77a8"/>
<circle cx="391.65" cy="574.00" r="2.25" fill="#5d77a8"/>
<circle cx="396.33" cy="588.84" r="2.25" fill="#5d77a8"/>
<circle cx="374.76" cy="576.02" r="2.25" fill="#5d77a8"/>
<circle cx="377.72" cy="587.46" r="2.25" fill="#5d77a8"/>
<circle cx="393.82" cy="576.12" r="2.25" fill="#5d77a8"/>
<circle cx="378.51" cy="576.10" r="2.25" fill="#5d77a8"/>
<circle cx="401.02" cy="584.18" r="2.25" fill="#5d77a8"/>
<circle cx="400.80" cy="576.22" r="2.25" fill="#5d77a8"/>
<circle cx="389.59" cy="584.62" r="2.25" fill="#5d77a8"/>
<circle cx="400.52" cy="579.37" r="2.25" fill="#5d77a8"/>
<circle cx="374.84" cy="591.02" r="2.25" fill="#5d77a8"/>
<circle cx="401.27" cy="583.08" r="2.25" fill="#5d77a8"/>
<circle cx="378.64" cy="572.19" r="2.25" fill="#5d77a8"/>
<circle cx="382.72" cy="593.78" r="2.25" fill="#5d77a8"/>
<circle cx="379.54" cy="581.53" r="2.25" fill="#5d77a8"/>
<circle cx="387.10" cy="576.11" r="2.25" fill="#5d77a8"/>
<circle cx="370.46" cy="583.34" r="2.25" fill="#5d77a8"/>
<circle cx="377.52" cy="590.16" r="2.25" fill="#5d77a8"/>
<circle cx="396.87" cy="584.99" r="2.25" fill="#5d77a8"/>
<circle cx="379.62" cy="575.03" r="2.25" fill="#5d77a8"/>
<circle cx="392.18" cy="587.64" r="2.25" fill="#5d77a8"/>
<circle cx="374.30" cy="573.63" r="2.25" fill="#5d77a8"/>
<circle cx="370.66" cy="591.29" r="2.25" fill="#5d77a8"/>
<circle cx="400.00" cy="560.00" r="2.25" fill="#5d77a8"/>
<circle cx="405.00" cy="558.50" r="2.25" fill="#5d77a8"/>
<circle cx="410.00" cy="558.50" r="2.25" fill="#5d77a8"/>
<circle cx="415.50" cy="561.00" r="2.25" fill="#5d77a8"/>
<circle cx="420.00" cy="563.00" r="2.25" fill="#5d77a8"/>
<circle cx="396.30" cy="513.10" r="2.25" fill="#5d77a8"/>
<circle cx="384.20" cy="549.00" r="2.25" fill="#5d77a8"/>
<circle cx="398.80" cy="548.00" r="2.25" fill="#5d77a8"/>
<circle cx="368.80" cy="556.20" r="2.25" fill="#5d77a8"/>
<circle cx="391.20" cy="554.80" r="2.25" fill="#5d77a8"/>
<circle cx="392.50" cy="557.70" r="2.25" fill="#5d77a8"/>
<circle cx="398.30" cy="557.30" r="2.25" fill="#5d77a8"/>
<circle cx="412.70" cy="554.20" r="2.25" fill="#5d77a8"/>
<circle cx="405.00" cy="560.60" r="2.25" fill="#5d77a8"/>
<circle cx="409.80" cy="558.70" r="2.25" fill="#5d77a8"/>
<circle cx="414.60" cy="558.70" r="2.25" fill="#5d77a8"/>
<circle cx="417.50" cy="560.00" r="2.25" fill="#5d77a8"/>
<circle cx="420.40" cy="562.50" r="2.25" fill="#5d77a8"/>
<circle cx="424.20" cy="563.50" r="2.25" fill="#5d77a8"/>
<circle cx="426.20" cy="565.40" r="2.25" fill="#5d77a8"/>
<circle cx="363.70" cy="575.00" r="2.25" fill="#5d77a8"/>
<circle cx="372.30" cy="571.20" r="2.25" fill="#5d77a8"/>
<circle cx="414.60" cy="580.80" r="2.25" fill="#5d77a8"/>
<circle cx="424.60" cy="580.80" r="2.25" fill="#5d77a8"/>
<circle cx="406.90" cy="593.80" r="2.25" fill="#5d77a8"/>
<circle cx="428.00" cy="576.00" r="2.25" fill="#5d77a8"/>
<circle cx="431.00" cy="539.80" r="2.25" fill="#5d77a8"/>
<circle cx="432.50" cy="552.70" r="2.25" fill="#5d77a8"/>
<circle cx="433.50" cy="560.80" r="2.25" fill="#5d77a8"/>
<circle cx="421.90" cy="562.70" r="2.25" fill="#5d77a8"/>
<circle cx="423.80" cy="564.20" r="2.25" fill="#5d77a8"/>
<circle cx="429.60" cy="566.20" r="2.25" fill="#5d77a8"/>
<circle cx="447.00" cy="566.50" r="2.25" fill="#5d77a8"/>
<circle cx="450.80" cy="556.20" r="2.25" fill="#5d77a8"/>
<circle cx="427.70" cy="575.80" r="2.25" fill="#5d77a8"/>
<circle cx="424.80" cy="581.20" r="2.25" fill="#5d77a8"/>
<circle cx="430.60" cy="586.30" r="2.25" fill="#5d77a8"/>
<circle cx="463.30" cy="587.00" r="2.25" fill="#5d77a8"/>
<line x1="333.80" y1="599.00" x2="463.30" y2="552.30" stroke="#b5193c" stroke-width="2.0" stroke-dasharray="4 3"/>
<line x1="333.30" y1="466.20" x2="333.30" y2="600.30" stroke="#1a1a1a" stroke-width="1.6" />
<line x1="328.30" y1="599.50" x2="333.30" y2="599.50" stroke="#1a1a1a" stroke-width="1.4400000000000002" />
<text x="322.70" y="603.60" font-size="12" text-anchor="end" font-weight="normal" font-style="normal" fill="#2a2a2a" >0</text>
<line x1="328.30" y1="567.75" x2="333.30" y2="567.75" stroke="#1a1a1a" stroke-width="1.4400000000000002" />
<text x="322.70" y="571.85" font-size="12" text-anchor="end" font-weight="normal" font-style="normal" fill="#2a2a2a" >500</text>
<line x1="328.30" y1="536.00" x2="333.30" y2="536.00" stroke="#1a1a1a" stroke-width="1.4400000000000002" />
<text x="322.70" y="540.10" font-size="12" text-anchor="end" font-weight="normal" font-style="normal" fill="#2a2a2a" >1000</text>
<line x1="328.30" y1="504.25" x2="333.30" y2="504.25" stroke="#1a1a1a" stroke-width="1.4400000000000002" />
<text x="322.70" y="508.35" font-size="12" text-anchor="end" font-weight="normal" font-style="normal" fill="#2a2a2a" >1500</text>
<line x1="328.30" y1="472.50" x2="333.30" y2="472.50" stroke="#1a1a1a" stroke-width="1.4400000000000002" />
<text x="322.70" y="476.60" font-size="12" text-anchor="end" font-weight="normal" font-style="normal" fill="#2a2a2a" >2000</text>
<line x1="332.50" y1="599.60" x2="511.00" y2="599.60" stroke="#1a1a1a" stroke-width="1.6" />
<line x1="333.30" y1="599.60" x2="333.30" y2="604.60" stroke="#1a1a1a" stroke-width="1.4400000000000002" />
<text x="333.30" y="619.00" font-size="12" text-anchor="middle" font-weight="normal" font-style="normal" fill="#2a2a2a" >0</text>
<line x1="376.30" y1="599.60" x2="376.30" y2="604.60" stroke="#1a1a1a" stroke-width="1.4400000000000002" />
<text x="376.30" y="619.00" font-size="12" text-anchor="middle" font-weight="normal" font-style="normal" fill="#2a2a2a" >500</text>
<line x1="419.50" y1="599.60" x2="419.50" y2="604.60" stroke="#1a1a1a" stroke-width="1.4400000000000002" />
<text x="419.50" y="619.00" font-size="12" text-anchor="middle" font-weight="normal" font-style="normal" fill="#2a2a2a" >1000</text>
<line x1="462.80" y1="599.60" x2="462.80" y2="604.60" stroke="#1a1a1a" stroke-width="1.4400000000000002" />
<text x="462.80" y="619.00" font-size="12" text-anchor="middle" font-weight="normal" font-style="normal" fill="#2a2a2a" >1500</text>
<line x1="505.90" y1="599.60" x2="505.90" y2="604.60" stroke="#1a1a1a" stroke-width="1.4400000000000002" />
<text x="505.90" y="619.00" font-size="12" text-anchor="middle" font-weight="normal" font-style="normal" fill="#2a2a2a" >2000</text>
<text x="452.70" y="596.00" font-size="12" text-anchor="start" font-weight="normal" font-style="normal" fill="#222" >r = 0.4654</text>
<text x="0" y="0" font-size="17" font-weight="bold" fill="#111" transform="translate(0.20,675.20) scale(0.97,1)">E</text>
<line x1="63.20" y1="696.30" x2="63.20" y2="831.20" stroke="#1a1a1a" stroke-width="1.6" />
<line x1="58.20" y1="830.40" x2="63.20" y2="830.40" stroke="#1a1a1a" stroke-width="1.4400000000000002" />
<text x="52.80" y="834.50" font-size="12" text-anchor="end" font-weight="normal" font-style="normal" fill="#2a2a2a" >0.0</text>
<line x1="58.20" y1="799.30" x2="63.20" y2="799.30" stroke="#1a1a1a" stroke-width="1.4400000000000002" />
<text x="52.80" y="803.40" font-size="12" text-anchor="end" font-weight="normal" font-style="normal" fill="#2a2a2a" >0.2</text>
<line x1="58.20" y1="768.40" x2="63.20" y2="768.40" stroke="#1a1a1a" stroke-width="1.4400000000000002" />
<text x="52.80" y="772.50" font-size="12" text-anchor="end" font-weight="normal" font-style="normal" fill="#2a2a2a" >0.4</text>
<line x1="58.20" y1="736.80" x2="63.20" y2="736.80" stroke="#1a1a1a" stroke-width="1.4400000000000002" />
<text x="52.80" y="740.90" font-size="12" text-anchor="end" font-weight="normal" font-style="normal" fill="#2a2a2a" >0.6</text>
<line x1="58.20" y1="710.40" x2="63.20" y2="710.40" stroke="#1a1a1a" stroke-width="1.4400000000000002" />
<text x="52.80" y="714.50" font-size="12" text-anchor="end" font-weight="normal" font-style="normal" fill="#2a2a2a" >0.8</text>
<text x="0" y="0" font-size="13.8" text-anchor="middle" fill="#2a2a2a" transform="translate(26.50,763.50) rotate(-90)" textLength="113.4" lengthAdjust="spacingAndGlyphs">CD11b vs. CD71 slope</text>
<rect x="87.10" y="722.50" width="23.60" height="107.90" fill="#8c9cc4"/>
<rect x="151.10" y="744.60" width="23.40" height="85.80" fill="#e8877b"/>
<line x1="62.40" y1="830.40" x2="186.50" y2="830.40" stroke="#1a1a1a" stroke-width="1.6" />
<line x1="98.60" y1="830.40" x2="98.60" y2="835.40" stroke="#1a1a1a" stroke-width="1.4400000000000002" />
<line x1="162.90" y1="830.40" x2="162.90" y2="835.40" stroke="#1a1a1a" stroke-width="1.4400000000000002" />
<text x="82.70" y="850.20" font-size="12.5" font-style="italic" fill="#222">Gfi1<tspan font-size="9.5" dx="-0.3" dy="-5">+/–</tspan></text>
<text x="146.20" y="850.20" font-size="12.5" font-style="italic" fill="#222">Gfi1<tspan font-size="9.5" dx="-0.3" dy="-5">–/–</tspan></text>
<line x1="98.50" y1="712.30" x2="98.50" y2="733.90" stroke="#111" stroke-width="1.5" />
<line x1="92.30" y1="712.30" x2="104.40" y2="712.30" stroke="#111" stroke-width="1.5" />
<line x1="92.30" y1="733.90" x2="104.40" y2="733.90" stroke="#111" stroke-width="1.5" />
<circle cx="98.50" cy="710.20" r="2.1" fill="#1f4f8f"/>
<circle cx="93.70" cy="729.80" r="2.1" fill="#1f4f8f"/>
<circle cx="103.10" cy="729.80" r="2.1" fill="#1f4f8f"/>
<line x1="162.90" y1="736.00" x2="162.90" y2="752.70" stroke="#111" stroke-width="1.5" />
<line x1="157.00" y1="736.00" x2="169.00" y2="736.00" stroke="#111" stroke-width="1.5" />
<line x1="157.00" y1="752.70" x2="169.00" y2="752.70" stroke="#111" stroke-width="1.5" />
<circle cx="157.50" cy="737.30" r="2.1" fill="#c50b2f"/>
<circle cx="167.20" cy="737.30" r="2.1" fill="#c50b2f"/>
<circle cx="162.30" cy="746.00" r="2.1" fill="#c50b2f"/>
<circle cx="162.90" cy="756.70" r="2.1" fill="#c50b2f"/>
<line x1="99.00" y1="694.00" x2="162.30" y2="694.00" stroke="#111" stroke-width="1.3" />
<text x="130.50" y="696.00" font-size="16" text-anchor="middle" font-weight="normal" font-style="normal" fill="#222" >*</text>
<text x="0" y="0" font-size="17" font-weight="bold" fill="#111" transform="translate(275.80,675.30) scale(1.05,1)">F</text>
<line x1="332.70" y1="684.60" x2="332.70" y2="831.60" stroke="#1a1a1a" stroke-width="1.6" />
<line x1="327.70" y1="830.80" x2="332.70" y2="830.80" stroke="#1a1a1a" stroke-width="1.4400000000000002" />
<text x="323.00" y="834.90" font-size="12" text-anchor="end" font-weight="normal" font-style="normal" fill="#2a2a2a" >0.0</text>
<line x1="327.70" y1="795.85" x2="332.70" y2="795.85" stroke="#1a1a1a" stroke-width="1.4400000000000002" />
<text x="323.00" y="799.95" font-size="12" text-anchor="end" font-weight="normal" font-style="normal" fill="#2a2a2a" >0.5</text>
<line x1="327.70" y1="760.90" x2="332.70" y2="760.90" stroke="#1a1a1a" stroke-width="1.4400000000000002" />
<text x="323.00" y="765.00" font-size="12" text-anchor="end" font-weight="normal" font-style="normal" fill="#2a2a2a" >1.0</text>
<line x1="327.70" y1="725.95" x2="332.70" y2="725.95" stroke="#1a1a1a" stroke-width="1.4400000000000002" />
<text x="323.00" y="730.05" font-size="12" text-anchor="end" font-weight="normal" font-style="normal" fill="#2a2a2a" >1.5</text>
<line x1="327.70" y1="691.00" x2="332.70" y2="691.00" stroke="#1a1a1a" stroke-width="1.4400000000000002" />
<text x="323.00" y="695.10" font-size="12" text-anchor="end" font-weight="normal" font-style="normal" fill="#2a2a2a" >2.0</text>
<text x="0" y="0" font-size="13.8" text-anchor="middle" fill="#2a2a2a" transform="translate(297.30,758.00) rotate(-90)" textLength="121.3" lengthAdjust="spacingAndGlyphs">CD11b: CD71 area ratio</text>
<circle cx="369.11" cy="726.79" r="2.0" fill="#5a75a8"/>
<circle cx="369.14" cy="729.11" r="2.0" fill="#5a75a8"/>
<circle cx="369.76" cy="731.75" r="2.0" fill="#5a75a8"/>
<circle cx="369.66" cy="734.34" r="2.0" fill="#5a75a8"/>
<circle cx="369.45" cy="737.21" r="2.0" fill="#5a75a8"/>
<circle cx="367.52" cy="740.34" r="2.0" fill="#5a75a8"/>
<circle cx="370.70" cy="739.73" r="2.0" fill="#5a75a8"/>
<circle cx="369.96" cy="742.21" r="2.0" fill="#5a75a8"/>
<circle cx="368.05" cy="745.55" r="2.0" fill="#5a75a8"/>
<circle cx="370.86" cy="744.80" r="2.0" fill="#5a75a8"/>
<circle cx="367.53" cy="747.94" r="2.0" fill="#5a75a8"/>
<circle cx="371.15" cy="747.42" r="2.0" fill="#5a75a8"/>
<circle cx="366.19" cy="750.44" r="2.0" fill="#5a75a8"/>
<circle cx="369.04" cy="750.14" r="2.0" fill="#5a75a8"/>
<circle cx="372.40" cy="750.45" r="2.0" fill="#5a75a8"/>
<circle cx="366.98" cy="753.39" r="2.0" fill="#5a75a8"/>
<circle cx="369.31" cy="752.58" r="2.0" fill="#5a75a8"/>
<circle cx="372.55" cy="753.07" r="2.0" fill="#5a75a8"/>
<circle cx="368.42" cy="755.60" r="2.0" fill="#5a75a8"/>
<circle cx="370.60" cy="755.40" r="2.0" fill="#5a75a8"/>
<circle cx="366.99" cy="757.80" r="2.0" fill="#5a75a8"/>
<circle cx="369.80" cy="758.04" r="2.0" fill="#5a75a8"/>
<circle cx="372.56" cy="757.72" r="2.0" fill="#5a75a8"/>
<circle cx="366.12" cy="760.39" r="2.0" fill="#5a75a8"/>
<circle cx="369.71" cy="761.05" r="2.0" fill="#5a75a8"/>
<circle cx="372.50" cy="760.99" r="2.0" fill="#5a75a8"/>
<circle cx="366.61" cy="763.44" r="2.0" fill="#5a75a8"/>
<circle cx="369.11" cy="762.94" r="2.0" fill="#5a75a8"/>
<circle cx="372.69" cy="763.77" r="2.0" fill="#5a75a8"/>
<circle cx="365.27" cy="766.39" r="2.0" fill="#5a75a8"/>
<circle cx="367.51" cy="765.78" r="2.0" fill="#5a75a8"/>
<circle cx="370.68" cy="765.45" r="2.0" fill="#5a75a8"/>
<circle cx="374.37" cy="765.45" r="2.0" fill="#5a75a8"/>
<circle cx="364.69" cy="768.82" r="2.0" fill="#5a75a8"/>
<circle cx="367.68" cy="768.45" r="2.0" fill="#5a75a8"/>
<circle cx="371.02" cy="768.86" r="2.0" fill="#5a75a8"/>
<circle cx="374.02" cy="768.72" r="2.0" fill="#5a75a8"/>
<circle cx="364.97" cy="770.73" r="2.0" fill="#5a75a8"/>
<circle cx="368.28" cy="771.34" r="2.0" fill="#5a75a8"/>
<circle cx="371.19" cy="771.18" r="2.0" fill="#5a75a8"/>
<circle cx="374.35" cy="770.72" r="2.0" fill="#5a75a8"/>
<circle cx="363.38" cy="773.51" r="2.0" fill="#5a75a8"/>
<circle cx="366.71" cy="773.74" r="2.0" fill="#5a75a8"/>
<circle cx="369.78" cy="773.94" r="2.0" fill="#5a75a8"/>
<circle cx="372.03" cy="773.81" r="2.0" fill="#5a75a8"/>
<circle cx="375.26" cy="773.40" r="2.0" fill="#5a75a8"/>
<circle cx="361.90" cy="776.62" r="2.0" fill="#5a75a8"/>
<circle cx="364.70" cy="776.01" r="2.0" fill="#5a75a8"/>
<circle cx="368.20" cy="776.17" r="2.0" fill="#5a75a8"/>
<circle cx="370.57" cy="776.05" r="2.0" fill="#5a75a8"/>
<circle cx="373.98" cy="776.30" r="2.0" fill="#5a75a8"/>
<circle cx="376.78" cy="775.98" r="2.0" fill="#5a75a8"/>
<circle cx="361.80" cy="778.87" r="2.0" fill="#5a75a8"/>
<circle cx="364.50" cy="778.78" r="2.0" fill="#5a75a8"/>
<circle cx="367.80" cy="779.31" r="2.0" fill="#5a75a8"/>
<circle cx="370.90" cy="779.18" r="2.0" fill="#5a75a8"/>
<circle cx="374.11" cy="779.25" r="2.0" fill="#5a75a8"/>
<circle cx="376.82" cy="778.50" r="2.0" fill="#5a75a8"/>
<circle cx="360.37" cy="781.54" r="2.0" fill="#5a75a8"/>
<circle cx="363.67" cy="781.52" r="2.0" fill="#5a75a8"/>
<circle cx="366.31" cy="781.39" r="2.0" fill="#5a75a8"/>
<circle cx="369.55" cy="781.22" r="2.0" fill="#5a75a8"/>
<circle cx="372.82" cy="781.24" r="2.0" fill="#5a75a8"/>
<circle cx="375.05" cy="781.95" r="2.0" fill="#5a75a8"/>
<circle cx="378.32" cy="781.98" r="2.0" fill="#5a75a8"/>
<circle cx="358.75" cy="784.09" r="2.0" fill="#5a75a8"/>
<circle cx="361.64" cy="783.65" r="2.0" fill="#5a75a8"/>
<circle cx="364.54" cy="784.01" r="2.0" fill="#5a75a8"/>
<circle cx="367.94" cy="783.74" r="2.0" fill="#5a75a8"/>
<circle cx="371.30" cy="784.04" r="2.0" fill="#5a75a8"/>
<circle cx="373.98" cy="784.29" r="2.0" fill="#5a75a8"/>
<circle cx="377.33" cy="784.33" r="2.0" fill="#5a75a8"/>
<circle cx="379.67" cy="783.69" r="2.0" fill="#5a75a8"/>
<circle cx="359.07" cy="787.11" r="2.0" fill="#5a75a8"/>
<circle cx="361.89" cy="786.62" r="2.0" fill="#5a75a8"/>
<circle cx="365.18" cy="787.04" r="2.0" fill="#5a75a8"/>
<circle cx="368.23" cy="786.65" r="2.0" fill="#5a75a8"/>
<circle cx="371.32" cy="786.94" r="2.0" fill="#5a75a8"/>
<circle cx="374.24" cy="787.11" r="2.0" fill="#5a75a8"/>
<circle cx="377.06" cy="786.98" r="2.0" fill="#5a75a8"/>
<circle cx="379.64" cy="786.79" r="2.0" fill="#5a75a8"/>
<circle cx="357.13" cy="789.18" r="2.0" fill="#5a75a8"/>
<circle cx="360.34" cy="789.76" r="2.0" fill="#5a75a8"/>
<circle cx="363.31" cy="789.07" r="2.0" fill="#5a75a8"/>
<circle cx="366.67" cy="789.14" r="2.0" fill="#5a75a8"/>
<circle cx="369.23" cy="789.06" r="2.0" fill="#5a75a8"/>
<circle cx="372.17" cy="789.55" r="2.0" fill="#5a75a8"/>
<circle cx="375.79" cy="789.07" r="2.0" fill="#5a75a8"/>
<circle cx="378.43" cy="788.88" r="2.0" fill="#5a75a8"/>
<circle cx="381.80" cy="789.34" r="2.0" fill="#5a75a8"/>
<circle cx="357.69" cy="791.88" r="2.0" fill="#5a75a8"/>
<circle cx="360.60" cy="791.71" r="2.0" fill="#5a75a8"/>
<circle cx="363.55" cy="792.17" r="2.0" fill="#5a75a8"/>
<circle cx="366.71" cy="792.01" r="2.0" fill="#5a75a8"/>
<circle cx="369.88" cy="791.95" r="2.0" fill="#5a75a8"/>
<circle cx="372.77" cy="791.66" r="2.0" fill="#5a75a8"/>
<circle cx="375.79" cy="791.99" r="2.0" fill="#5a75a8"/>
<circle cx="378.86" cy="792.38" r="2.0" fill="#5a75a8"/>
<circle cx="381.07" cy="792.01" r="2.0" fill="#5a75a8"/>
<circle cx="358.97" cy="794.53" r="2.0" fill="#5a75a8"/>
<circle cx="362.37" cy="794.14" r="2.0" fill="#5a75a8"/>
<circle cx="364.68" cy="794.46" r="2.0" fill="#5a75a8"/>
<circle cx="368.38" cy="794.36" r="2.0" fill="#5a75a8"/>
<circle cx="371.40" cy="794.82" r="2.0" fill="#5a75a8"/>
<circle cx="374.00" cy="794.66" r="2.0" fill="#5a75a8"/>
<circle cx="376.64" cy="794.86" r="2.0" fill="#5a75a8"/>
<circle cx="380.21" cy="794.74" r="2.0" fill="#5a75a8"/>
<circle cx="359.36" cy="797.39" r="2.0" fill="#5a75a8"/>
<circle cx="362.40" cy="797.24" r="2.0" fill="#5a75a8"/>
<circle cx="364.67" cy="796.70" r="2.0" fill="#5a75a8"/>
<circle cx="368.35" cy="796.95" r="2.0" fill="#5a75a8"/>
<circle cx="370.57" cy="797.01" r="2.0" fill="#5a75a8"/>
<circle cx="373.55" cy="796.90" r="2.0" fill="#5a75a8"/>
<circle cx="376.57" cy="797.00" r="2.0" fill="#5a75a8"/>
<circle cx="379.66" cy="796.64" r="2.0" fill="#5a75a8"/>
<circle cx="359.47" cy="800.06" r="2.0" fill="#5a75a8"/>
<circle cx="362.40" cy="799.53" r="2.0" fill="#5a75a8"/>
<circle cx="365.37" cy="799.81" r="2.0" fill="#5a75a8"/>
<circle cx="367.86" cy="799.61" r="2.0" fill="#5a75a8"/>
<circle cx="371.38" cy="799.37" r="2.0" fill="#5a75a8"/>
<circle cx="373.51" cy="799.76" r="2.0" fill="#5a75a8"/>
<circle cx="377.07" cy="799.35" r="2.0" fill="#5a75a8"/>
<circle cx="380.15" cy="799.31" r="2.0" fill="#5a75a8"/>
<circle cx="358.99" cy="802.14" r="2.0" fill="#5a75a8"/>
<circle cx="361.97" cy="802.17" r="2.0" fill="#5a75a8"/>
<circle cx="365.15" cy="802.46" r="2.0" fill="#5a75a8"/>
<circle cx="368.47" cy="802.27" r="2.0" fill="#5a75a8"/>
<circle cx="370.88" cy="802.23" r="2.0" fill="#5a75a8"/>
<circle cx="374.48" cy="801.84" r="2.0" fill="#5a75a8"/>
<circle cx="376.84" cy="802.60" r="2.0" fill="#5a75a8"/>
<circle cx="379.97" cy="801.88" r="2.0" fill="#5a75a8"/>
<circle cx="360.68" cy="805.18" r="2.0" fill="#5a75a8"/>
<circle cx="363.55" cy="805.17" r="2.0" fill="#5a75a8"/>
<circle cx="366.24" cy="805.09" r="2.0" fill="#5a75a8"/>
<circle cx="369.94" cy="804.68" r="2.0" fill="#5a75a8"/>
<circle cx="372.28" cy="804.85" r="2.0" fill="#5a75a8"/>
<circle cx="375.60" cy="804.79" r="2.0" fill="#5a75a8"/>
<circle cx="378.96" cy="804.53" r="2.0" fill="#5a75a8"/>
<circle cx="361.77" cy="807.04" r="2.0" fill="#5a75a8"/>
<circle cx="365.20" cy="807.63" r="2.0" fill="#5a75a8"/>
<circle cx="368.40" cy="807.40" r="2.0" fill="#5a75a8"/>
<circle cx="371.06" cy="807.45" r="2.0" fill="#5a75a8"/>
<circle cx="373.97" cy="807.68" r="2.0" fill="#5a75a8"/>
<circle cx="377.43" cy="807.17" r="2.0" fill="#5a75a8"/>
<circle cx="363.61" cy="809.97" r="2.0" fill="#5a75a8"/>
<circle cx="366.12" cy="809.85" r="2.0" fill="#5a75a8"/>
<circle cx="369.67" cy="810.09" r="2.0" fill="#5a75a8"/>
<circle cx="372.44" cy="809.85" r="2.0" fill="#5a75a8"/>
<circle cx="375.76" cy="809.98" r="2.0" fill="#5a75a8"/>
<circle cx="363.57" cy="812.35" r="2.0" fill="#5a75a8"/>
<circle cx="366.56" cy="812.29" r="2.0" fill="#5a75a8"/>
<circle cx="369.13" cy="812.58" r="2.0" fill="#5a75a8"/>
<circle cx="372.29" cy="812.32" r="2.0" fill="#5a75a8"/>
<circle cx="375.82" cy="813.20" r="2.0" fill="#5a75a8"/>
<circle cx="366.43" cy="815.79" r="2.0" fill="#5a75a8"/>
<circle cx="369.88" cy="815.02" r="2.0" fill="#5a75a8"/>
<circle cx="372.69" cy="815.03" r="2.0" fill="#5a75a8"/>
<circle cx="366.82" cy="818.10" r="2.0" fill="#5a75a8"/>
<circle cx="370.00" cy="818.01" r="2.0" fill="#5a75a8"/>
<circle cx="372.22" cy="817.46" r="2.0" fill="#5a75a8"/>
<circle cx="366.60" cy="820.87" r="2.0" fill="#5a75a8"/>
<circle cx="369.39" cy="820.59" r="2.0" fill="#5a75a8"/>
<circle cx="372.25" cy="820.34" r="2.0" fill="#5a75a8"/>
<circle cx="368.10" cy="823.00" r="2.0" fill="#5a75a8"/>
<circle cx="370.88" cy="822.65" r="2.0" fill="#5a75a8"/>
<circle cx="369.91" cy="826.02" r="2.0" fill="#5a75a8"/>
<circle cx="369.50" cy="711.00" r="2.0" fill="#5a75a8"/>
<circle cx="433.91" cy="752.10" r="2.0" fill="#e35a52"/>
<circle cx="434.20" cy="755.12" r="2.0" fill="#e35a52"/>
<circle cx="434.21" cy="757.84" r="2.0" fill="#e35a52"/>
<circle cx="434.64" cy="760.48" r="2.0" fill="#e35a52"/>
<circle cx="433.70" cy="762.96" r="2.0" fill="#e35a52"/>
<circle cx="433.71" cy="765.53" r="2.0" fill="#e35a52"/>
<circle cx="433.15" cy="767.60" r="2.0" fill="#e35a52"/>
<circle cx="435.32" cy="768.38" r="2.0" fill="#e35a52"/>
<circle cx="433.86" cy="770.02" r="2.0" fill="#e35a52"/>
<circle cx="432.55" cy="772.76" r="2.0" fill="#e35a52"/>
<circle cx="436.13" cy="772.77" r="2.0" fill="#e35a52"/>
<circle cx="431.27" cy="775.78" r="2.0" fill="#e35a52"/>
<circle cx="434.29" cy="775.43" r="2.0" fill="#e35a52"/>
<circle cx="436.94" cy="775.60" r="2.0" fill="#e35a52"/>
<circle cx="429.27" cy="778.28" r="2.0" fill="#e35a52"/>
<circle cx="432.65" cy="778.50" r="2.0" fill="#e35a52"/>
<circle cx="435.26" cy="778.46" r="2.0" fill="#e35a52"/>
<circle cx="438.50" cy="778.18" r="2.0" fill="#e35a52"/>
<circle cx="429.21" cy="781.35" r="2.0" fill="#e35a52"/>
<circle cx="433.15" cy="780.89" r="2.0" fill="#e35a52"/>
<circle cx="436.06" cy="781.02" r="2.0" fill="#e35a52"/>
<circle cx="438.71" cy="780.63" r="2.0" fill="#e35a52"/>
<circle cx="429.40" cy="783.85" r="2.0" fill="#e35a52"/>
<circle cx="432.80" cy="783.82" r="2.0" fill="#e35a52"/>
<circle cx="435.34" cy="783.25" r="2.0" fill="#e35a52"/>
<circle cx="438.23" cy="783.95" r="2.0" fill="#e35a52"/>
<circle cx="428.48" cy="785.92" r="2.0" fill="#e35a52"/>
<circle cx="431.62" cy="786.06" r="2.0" fill="#e35a52"/>
<circle cx="434.02" cy="785.77" r="2.0" fill="#e35a52"/>
<circle cx="436.78" cy="786.31" r="2.0" fill="#e35a52"/>
<circle cx="439.91" cy="786.38" r="2.0" fill="#e35a52"/>
<circle cx="427.11" cy="788.58" r="2.0" fill="#e35a52"/>
<circle cx="429.23" cy="789.17" r="2.0" fill="#e35a52"/>
<circle cx="432.20" cy="789.08" r="2.0" fill="#e35a52"/>
<circle cx="435.87" cy="788.97" r="2.0" fill="#e35a52"/>
<circle cx="438.31" cy="788.52" r="2.0" fill="#e35a52"/>
<circle cx="442.18" cy="788.43" r="2.0" fill="#e35a52"/>
<circle cx="427.10" cy="790.81" r="2.0" fill="#e35a52"/>
<circle cx="429.45" cy="791.35" r="2.0" fill="#e35a52"/>
<circle cx="432.28" cy="791.68" r="2.0" fill="#e35a52"/>
<circle cx="436.17" cy="791.66" r="2.0" fill="#e35a52"/>
<circle cx="438.27" cy="791.39" r="2.0" fill="#e35a52"/>
<circle cx="441.70" cy="790.87" r="2.0" fill="#e35a52"/>
<circle cx="427.18" cy="793.65" r="2.0" fill="#e35a52"/>
<circle cx="429.91" cy="793.91" r="2.0" fill="#e35a52"/>
<circle cx="433.18" cy="794.02" r="2.0" fill="#e35a52"/>
<circle cx="435.22" cy="793.91" r="2.0" fill="#e35a52"/>
<circle cx="438.38" cy="793.49" r="2.0" fill="#e35a52"/>
<circle cx="442.12" cy="793.78" r="2.0" fill="#e35a52"/>
<circle cx="425.22" cy="796.13" r="2.0" fill="#e35a52"/>
<circle cx="427.91" cy="796.20" r="2.0" fill="#e35a52"/>
<circle cx="431.09" cy="796.22" r="2.0" fill="#e35a52"/>
<circle cx="434.02" cy="796.96" r="2.0" fill="#e35a52"/>
<circle cx="436.97" cy="796.15" r="2.0" fill="#e35a52"/>
<circle cx="440.17" cy="796.54" r="2.0" fill="#e35a52"/>
<circle cx="443.23" cy="796.76" r="2.0" fill="#e35a52"/>
<circle cx="424.12" cy="798.90" r="2.0" fill="#e35a52"/>
<circle cx="426.89" cy="798.60" r="2.0" fill="#e35a52"/>
<circle cx="429.35" cy="799.39" r="2.0" fill="#e35a52"/>
<circle cx="432.29" cy="799.55" r="2.0" fill="#e35a52"/>
<circle cx="435.81" cy="799.17" r="2.0" fill="#e35a52"/>
<circle cx="439.18" cy="798.90" r="2.0" fill="#e35a52"/>
<circle cx="441.69" cy="799.07" r="2.0" fill="#e35a52"/>
<circle cx="445.09" cy="799.09" r="2.0" fill="#e35a52"/>
<circle cx="424.06" cy="801.92" r="2.0" fill="#e35a52"/>
<circle cx="426.55" cy="801.30" r="2.0" fill="#e35a52"/>
<circle cx="429.80" cy="801.99" r="2.0" fill="#e35a52"/>
<circle cx="432.83" cy="801.80" r="2.0" fill="#e35a52"/>
<circle cx="435.77" cy="801.22" r="2.0" fill="#e35a52"/>
<circle cx="438.48" cy="801.27" r="2.0" fill="#e35a52"/>
<circle cx="442.04" cy="801.48" r="2.0" fill="#e35a52"/>
<circle cx="444.83" cy="801.88" r="2.0" fill="#e35a52"/>
<circle cx="423.28" cy="804.42" r="2.0" fill="#e35a52"/>
<circle cx="426.62" cy="804.47" r="2.0" fill="#e35a52"/>
<circle cx="429.83" cy="804.74" r="2.0" fill="#e35a52"/>
<circle cx="433.05" cy="804.51" r="2.0" fill="#e35a52"/>
<circle cx="435.97" cy="803.88" r="2.0" fill="#e35a52"/>
<circle cx="439.20" cy="804.42" r="2.0" fill="#e35a52"/>
<circle cx="441.33" cy="804.25" r="2.0" fill="#e35a52"/>
<circle cx="445.19" cy="803.99" r="2.0" fill="#e35a52"/>
<circle cx="425.26" cy="807.34" r="2.0" fill="#e35a52"/>
<circle cx="428.54" cy="807.13" r="2.0" fill="#e35a52"/>
<circle cx="430.82" cy="807.15" r="2.0" fill="#e35a52"/>
<circle cx="434.05" cy="806.54" r="2.0" fill="#e35a52"/>
<circle cx="437.37" cy="806.76" r="2.0" fill="#e35a52"/>
<circle cx="439.80" cy="806.54" r="2.0" fill="#e35a52"/>
<circle cx="443.46" cy="806.52" r="2.0" fill="#e35a52"/>
<circle cx="426.41" cy="809.24" r="2.0" fill="#e35a52"/>
<circle cx="429.43" cy="809.56" r="2.0" fill="#e35a52"/>
<circle cx="432.72" cy="809.70" r="2.0" fill="#e35a52"/>
<circle cx="435.39" cy="809.03" r="2.0" fill="#e35a52"/>
<circle cx="438.61" cy="809.10" r="2.0" fill="#e35a52"/>
<circle cx="441.71" cy="809.06" r="2.0" fill="#e35a52"/>
<circle cx="428.40" cy="812.05" r="2.0" fill="#e35a52"/>
<circle cx="431.64" cy="812.55" r="2.0" fill="#e35a52"/>
<circle cx="434.47" cy="812.54" r="2.0" fill="#e35a52"/>
<circle cx="437.02" cy="811.73" r="2.0" fill="#e35a52"/>
<circle cx="440.40" cy="811.87" r="2.0" fill="#e35a52"/>
<circle cx="429.24" cy="814.46" r="2.0" fill="#e35a52"/>
<circle cx="432.26" cy="814.35" r="2.0" fill="#e35a52"/>
<circle cx="436.17" cy="814.42" r="2.0" fill="#e35a52"/>
<circle cx="438.25" cy="814.54" r="2.0" fill="#e35a52"/>
<circle cx="430.76" cy="816.99" r="2.0" fill="#e35a52"/>
<circle cx="433.97" cy="816.89" r="2.0" fill="#e35a52"/>
<circle cx="436.89" cy="817.03" r="2.0" fill="#e35a52"/>
<circle cx="430.91" cy="819.41" r="2.0" fill="#e35a52"/>
<circle cx="434.55" cy="820.35" r="2.0" fill="#e35a52"/>
<circle cx="437.13" cy="819.73" r="2.0" fill="#e35a52"/>
<circle cx="432.62" cy="822.94" r="2.0" fill="#e35a52"/>
<circle cx="435.90" cy="822.73" r="2.0" fill="#e35a52"/>
<circle cx="434.31" cy="824.64" r="2.0" fill="#e35a52"/>
<circle cx="434.20" cy="702.40" r="2.0" fill="#e35a52"/>
<circle cx="434.20" cy="716.00" r="2.0" fill="#e35a52"/>
<circle cx="434.20" cy="736.60" r="2.0" fill="#e35a52"/>
<line x1="352.20" y1="786.00" x2="386.90" y2="786.00" stroke="#b01a3a" stroke-width="1.8" stroke-dasharray="3.5 2.5"/>
<line x1="417.30" y1="797.80" x2="451.00" y2="797.80" stroke="#a8162f" stroke-width="1.8" stroke-dasharray="3.5 2.5"/>
<line x1="331.90" y1="830.80" x2="459.10" y2="830.80" stroke="#1a1a1a" stroke-width="1.6" />
<line x1="369.50" y1="830.80" x2="369.50" y2="835.80" stroke="#1a1a1a" stroke-width="1.4400000000000002" />
<line x1="434.20" y1="830.80" x2="434.20" y2="835.80" stroke="#1a1a1a" stroke-width="1.4400000000000002" />
<text x="351.20" y="850.20" font-size="12.5" font-style="italic" fill="#222">Gfi1<tspan font-size="9.5" dx="-0.3" dy="-5">+/–</tspan></text>
<text x="417.30" y="850.20" font-size="12.5" font-style="italic" fill="#222">Gfi1<tspan font-size="9.5" dx="-0.3" dy="-5">–/–</tspan></text>
<line x1="370.20" y1="685.70" x2="434.10" y2="685.70" stroke="#111" stroke-width="1.3" />
<text x="402.00" y="687.00" font-size="18" text-anchor="middle" font-weight="normal" font-style="normal" fill="#222" >****</text>
</svg></body></html>
